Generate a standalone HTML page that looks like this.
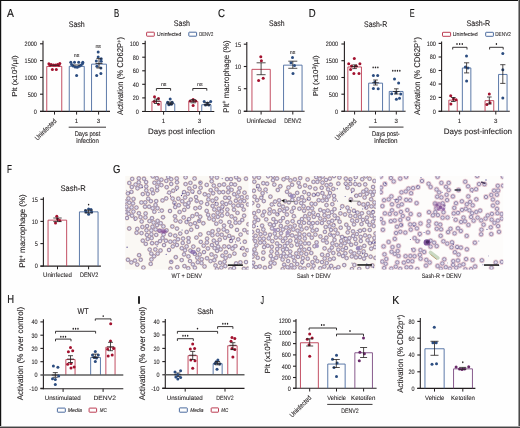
<!DOCTYPE html>
<html><head><meta charset="utf-8"><style>
html,body{margin:0;padding:0;background:#fff;}
body{width:520px;height:428px;overflow:hidden;}
svg{display:block;font-family:"Liberation Sans",sans-serif;will-change:transform;}
text{stroke:#231f20;text-rendering:geometricPrecision;}
</style></head><body>
<svg width="520" height="428" viewBox="0 0 520 428">
<rect x="0" y="0" width="520" height="428" fill="#fefefe"/>
<text transform="translate(7.00,16.70) scale(0.900,1) translate(-0.00,0)" x="0" y="0" font-size="11.5" stroke-width="0.161" fill="#111">A</text>
<text x="68.70" y="26.50" font-size="8.2" stroke-width="0.115" fill="#231f20" textLength="16.10" lengthAdjust="spacingAndGlyphs">Sash</text>
<line x1="43.00" y1="40.80" x2="43.00" y2="111.50" stroke="#231f20" stroke-width="1.1"/>
<line x1="40.00" y1="43.80" x2="43.00" y2="43.80" stroke="#231f20" stroke-width="1.1"/>
<text x="24.60" y="46.10" font-size="6.5" stroke-width="0.091" fill="#231f20" textLength="12.20" lengthAdjust="spacingAndGlyphs">2000</text>
<line x1="40.00" y1="60.60" x2="43.00" y2="60.60" stroke="#231f20" stroke-width="1.1"/>
<text x="24.60" y="62.90" font-size="6.5" stroke-width="0.091" fill="#231f20" textLength="12.20" lengthAdjust="spacingAndGlyphs">1500</text>
<line x1="40.00" y1="77.40" x2="43.00" y2="77.40" stroke="#231f20" stroke-width="1.1"/>
<text x="24.60" y="79.70" font-size="6.5" stroke-width="0.091" fill="#231f20" textLength="12.20" lengthAdjust="spacingAndGlyphs">1000</text>
<line x1="40.00" y1="94.20" x2="43.00" y2="94.20" stroke="#231f20" stroke-width="1.1"/>
<text x="27.65" y="96.50" font-size="6.5" stroke-width="0.091" fill="#231f20" textLength="9.15" lengthAdjust="spacingAndGlyphs">500</text>
<line x1="40.00" y1="111.40" x2="43.00" y2="111.40" stroke="#231f20" stroke-width="1.1"/>
<text x="33.75" y="113.70" font-size="6.5" stroke-width="0.091" fill="#231f20" textLength="3.05" lengthAdjust="spacingAndGlyphs">0</text>
<text transform="translate(16.90,96.80) rotate(-90)" x="0" y="0" font-size="7.2" stroke-width="0.101" fill="#231f20" textLength="41.40" lengthAdjust="spacingAndGlyphs">Plt (x10<tspan dy="-2.4" font-size="72%">3</tspan><tspan dy="2.4">​</tspan>/µl)</text>
<line x1="40.00" y1="111.40" x2="110.00" y2="111.40" stroke="#231f20" stroke-width="1.1"/>
<line x1="54.50" y1="111.40" x2="54.50" y2="114.60" stroke="#231f20" stroke-width="1.0"/>
<line x1="76.60" y1="111.40" x2="76.60" y2="114.60" stroke="#231f20" stroke-width="1.0"/>
<line x1="98.60" y1="111.40" x2="98.60" y2="114.60" stroke="#231f20" stroke-width="1.0"/>
<polyline points="46.75,111.40 46.75,66.45 61.75,66.45 61.75,111.40" fill="none" stroke="#bc3c52" stroke-width="0.9"/>
<polyline points="69.25,111.40 69.25,66.35 84.25,66.35 84.25,111.40" fill="none" stroke="#4b6b9f" stroke-width="0.9"/>
<polyline points="91.55,111.40 91.55,64.15 106.45,64.15 106.45,111.40" fill="none" stroke="#4b6b9f" stroke-width="0.9"/>
<circle cx="48.90" cy="63.70" r="1.5" fill="#a3122f"/>
<circle cx="51.20" cy="64.60" r="1.5" fill="#a3122f"/>
<circle cx="53.50" cy="65.00" r="1.5" fill="#a3122f"/>
<circle cx="55.50" cy="65.00" r="1.5" fill="#a3122f"/>
<circle cx="57.60" cy="64.60" r="1.5" fill="#a3122f"/>
<circle cx="59.80" cy="63.40" r="1.5" fill="#a3122f"/>
<circle cx="50.00" cy="65.20" r="1.5" fill="#a3122f"/>
<circle cx="58.80" cy="65.20" r="1.5" fill="#a3122f"/>
<circle cx="52.40" cy="69.60" r="1.5" fill="#a3122f"/>
<circle cx="56.30" cy="69.60" r="1.5" fill="#a3122f"/>
<line x1="50.00" y1="65.30" x2="59.00" y2="65.30" stroke="#231f20" stroke-width="0.8"/>
<circle cx="70.80" cy="62.20" r="1.5" fill="#2c4d80"/>
<circle cx="74.50" cy="62.20" r="1.5" fill="#2c4d80"/>
<circle cx="78.70" cy="62.20" r="1.5" fill="#2c4d80"/>
<circle cx="82.80" cy="62.20" r="1.5" fill="#2c4d80"/>
<circle cx="71.60" cy="64.50" r="1.5" fill="#2c4d80"/>
<circle cx="73.20" cy="66.00" r="1.5" fill="#2c4d80"/>
<circle cx="75.20" cy="67.00" r="1.5" fill="#2c4d80"/>
<circle cx="77.30" cy="67.20" r="1.5" fill="#2c4d80"/>
<circle cx="79.30" cy="66.30" r="1.5" fill="#2c4d80"/>
<circle cx="81.20" cy="65.00" r="1.5" fill="#2c4d80"/>
<circle cx="82.60" cy="63.60" r="1.5" fill="#2c4d80"/>
<circle cx="76.60" cy="75.40" r="1.5" fill="#2c4d80"/>
<line x1="73.00" y1="65.00" x2="80.00" y2="65.00" stroke="#231f20" stroke-width="0.8"/>
<circle cx="98.20" cy="52.00" r="1.5" fill="#2c4d80"/>
<circle cx="98.20" cy="56.90" r="1.5" fill="#2c4d80"/>
<circle cx="101.20" cy="58.80" r="1.5" fill="#2c4d80"/>
<circle cx="96.30" cy="61.00" r="1.5" fill="#2c4d80"/>
<circle cx="101.20" cy="61.20" r="1.5" fill="#2c4d80"/>
<circle cx="96.90" cy="66.20" r="1.5" fill="#2c4d80"/>
<circle cx="100.90" cy="68.00" r="1.5" fill="#2c4d80"/>
<circle cx="96.70" cy="75.40" r="1.5" fill="#2c4d80"/>
<circle cx="100.90" cy="73.50" r="1.5" fill="#2c4d80"/>
<line x1="99.00" y1="58.60" x2="99.00" y2="68.00" stroke="#231f20" stroke-width="0.8"/>
<line x1="96.40" y1="58.60" x2="101.60" y2="58.60" stroke="#231f20" stroke-width="0.8"/>
<line x1="96.40" y1="68.00" x2="101.60" y2="68.00" stroke="#231f20" stroke-width="0.8"/>
<line x1="95.50" y1="63.50" x2="102.50" y2="63.50" stroke="#231f20" stroke-width="0.8"/>
<text x="76.60" y="56.60" font-size="5.3" stroke-width="0.074" fill="#231f20" text-anchor="middle">ns</text>
<text x="98.20" y="47.60" font-size="5.3" stroke-width="0.074" fill="#231f20" text-anchor="middle">ns</text>
<text x="76.60" y="122.60" font-size="6.2" stroke-width="0.087" fill="#231f20" text-anchor="middle">1</text>
<text x="98.60" y="122.60" font-size="6.2" stroke-width="0.087" fill="#231f20" text-anchor="middle">3</text>
<line x1="68.70" y1="127.20" x2="106.00" y2="127.20" stroke="#231f20" stroke-width="0.9"/>
<text x="74.65" y="136.00" font-size="6.8" stroke-width="0.095" fill="#231f20" textLength="25.70" lengthAdjust="spacingAndGlyphs">Days post</text>
<text x="76.15" y="142.60" font-size="6.8" stroke-width="0.095" fill="#231f20" textLength="22.70" lengthAdjust="spacingAndGlyphs">infection</text>
<text transform="translate(37.60,140.70) rotate(-44.7)" x="0" y="0" font-size="6.9" stroke-width="0.097" fill="#231f20" textLength="27.44" lengthAdjust="spacingAndGlyphs">Uninfected</text>
<text transform="translate(114.00,16.70) scale(0.678,1) translate(-0.00,0)" x="0" y="0" font-size="11.5" stroke-width="0.161" fill="#111">B</text>
<text x="173.80" y="26.40" font-size="8.2" stroke-width="0.115" fill="#231f20" textLength="16.20" lengthAdjust="spacingAndGlyphs">Sash</text>
<rect x="146.60" y="32.20" width="7.70" height="4.00" rx="0.5" fill="none" stroke="#bc3c52" stroke-width="1.0"/>
<text x="157.00" y="36.20" font-size="5.6" stroke-width="0.078" fill="#231f20" textLength="24.40" lengthAdjust="spacingAndGlyphs">Uninfected</text>
<rect x="188.80" y="32.20" width="7.80" height="4.00" rx="0.5" fill="none" stroke="#4b6b9f" stroke-width="1.0"/>
<text x="199.30" y="36.20" font-size="5.6" stroke-width="0.078" fill="#231f20" textLength="13.90" lengthAdjust="spacingAndGlyphs">DENV2</text>
<line x1="145.20" y1="40.80" x2="145.20" y2="111.95" stroke="#231f20" stroke-width="1.1"/>
<line x1="142.20" y1="43.60" x2="145.20" y2="43.60" stroke="#231f20" stroke-width="1.1"/>
<text x="129.65" y="45.90" font-size="6.5" stroke-width="0.091" fill="#231f20" textLength="9.15" lengthAdjust="spacingAndGlyphs">100</text>
<line x1="142.20" y1="57.20" x2="145.20" y2="57.20" stroke="#231f20" stroke-width="1.1"/>
<text x="132.70" y="59.50" font-size="6.5" stroke-width="0.091" fill="#231f20" textLength="6.10" lengthAdjust="spacingAndGlyphs">80</text>
<line x1="142.20" y1="70.80" x2="145.20" y2="70.80" stroke="#231f20" stroke-width="1.1"/>
<text x="132.70" y="73.10" font-size="6.5" stroke-width="0.091" fill="#231f20" textLength="6.10" lengthAdjust="spacingAndGlyphs">60</text>
<line x1="142.20" y1="84.30" x2="145.20" y2="84.30" stroke="#231f20" stroke-width="1.1"/>
<text x="132.70" y="86.60" font-size="6.5" stroke-width="0.091" fill="#231f20" textLength="6.10" lengthAdjust="spacingAndGlyphs">40</text>
<line x1="142.20" y1="97.90" x2="145.20" y2="97.90" stroke="#231f20" stroke-width="1.1"/>
<text x="132.70" y="100.20" font-size="6.5" stroke-width="0.091" fill="#231f20" textLength="6.10" lengthAdjust="spacingAndGlyphs">20</text>
<line x1="142.20" y1="111.45" x2="145.20" y2="111.45" stroke="#231f20" stroke-width="1.1"/>
<text x="135.75" y="113.75" font-size="6.5" stroke-width="0.091" fill="#231f20" textLength="3.05" lengthAdjust="spacingAndGlyphs">0</text>
<text transform="translate(123.10,115.00) rotate(-90)" x="0" y="0" font-size="8.3" stroke-width="0.116" fill="#231f20" textLength="78.00" lengthAdjust="spacingAndGlyphs">Activation (% CD62P<tspan dy="-2.4" font-size="72%">+</tspan><tspan dy="2.4">​</tspan>)</text>
<line x1="142.20" y1="111.45" x2="214.30" y2="111.45" stroke="#231f20" stroke-width="1.1"/>
<line x1="163.60" y1="111.45" x2="163.60" y2="114.65" stroke="#231f20" stroke-width="1.0"/>
<line x1="199.60" y1="111.45" x2="199.60" y2="114.65" stroke="#231f20" stroke-width="1.0"/>
<polyline points="151.95,111.45 151.95,101.45 161.05,101.45 161.05,111.45" fill="none" stroke="#bc3c52" stroke-width="0.9"/>
<polyline points="165.85,111.45 165.85,103.75 174.75,103.75 174.75,111.45" fill="none" stroke="#4b6b9f" stroke-width="0.9"/>
<polyline points="188.75,111.45 188.75,101.45 197.85,101.45 197.85,111.45" fill="none" stroke="#bc3c52" stroke-width="0.9"/>
<polyline points="201.75,111.45 201.75,104.75 210.95,104.75 210.95,111.45" fill="none" stroke="#4b6b9f" stroke-width="0.9"/>
<circle cx="154.50" cy="96.70" r="1.5" fill="#a3122f"/>
<circle cx="158.50" cy="98.40" r="1.5" fill="#a3122f"/>
<circle cx="154.30" cy="101.60" r="1.5" fill="#a3122f"/>
<circle cx="158.50" cy="104.30" r="1.5" fill="#a3122f"/>
<line x1="156.50" y1="99.00" x2="156.50" y2="103.50" stroke="#231f20" stroke-width="0.8"/>
<line x1="153.90" y1="99.00" x2="159.10" y2="99.00" stroke="#231f20" stroke-width="0.8"/>
<line x1="153.90" y1="103.50" x2="159.10" y2="103.50" stroke="#231f20" stroke-width="0.8"/>
<line x1="152.90" y1="101.00" x2="160.10" y2="101.00" stroke="#231f20" stroke-width="0.8"/>
<circle cx="170.20" cy="99.00" r="1.5" fill="#2c4d80"/>
<circle cx="167.60" cy="102.30" r="1.5" fill="#2c4d80"/>
<circle cx="172.20" cy="102.30" r="1.5" fill="#2c4d80"/>
<circle cx="168.90" cy="104.70" r="1.5" fill="#2c4d80"/>
<circle cx="171.30" cy="104.30" r="1.5" fill="#2c4d80"/>
<line x1="170.20" y1="102.00" x2="170.20" y2="104.60" stroke="#231f20" stroke-width="0.8"/>
<line x1="167.60" y1="102.00" x2="172.80" y2="102.00" stroke="#231f20" stroke-width="0.8"/>
<line x1="167.60" y1="104.60" x2="172.80" y2="104.60" stroke="#231f20" stroke-width="0.8"/>
<line x1="166.60" y1="103.30" x2="173.80" y2="103.30" stroke="#231f20" stroke-width="0.8"/>
<circle cx="193.10" cy="99.40" r="1.5" fill="#a3122f"/>
<circle cx="190.10" cy="101.00" r="1.5" fill="#a3122f"/>
<circle cx="195.70" cy="101.00" r="1.5" fill="#a3122f"/>
<circle cx="193.10" cy="105.60" r="1.5" fill="#a3122f"/>
<line x1="193.20" y1="99.60" x2="193.20" y2="102.80" stroke="#231f20" stroke-width="0.8"/>
<line x1="190.60" y1="99.60" x2="195.80" y2="99.60" stroke="#231f20" stroke-width="0.8"/>
<line x1="190.60" y1="102.80" x2="195.80" y2="102.80" stroke="#231f20" stroke-width="0.8"/>
<line x1="189.60" y1="101.00" x2="196.80" y2="101.00" stroke="#231f20" stroke-width="0.8"/>
<circle cx="204.20" cy="101.60" r="1.5" fill="#2c4d80"/>
<circle cx="210.70" cy="101.60" r="1.5" fill="#2c4d80"/>
<circle cx="207.50" cy="103.00" r="1.5" fill="#2c4d80"/>
<circle cx="205.50" cy="104.90" r="1.5" fill="#2c4d80"/>
<circle cx="208.80" cy="104.90" r="1.5" fill="#2c4d80"/>
<line x1="207.20" y1="102.60" x2="207.20" y2="105.20" stroke="#231f20" stroke-width="0.8"/>
<line x1="204.60" y1="102.60" x2="209.80" y2="102.60" stroke="#231f20" stroke-width="0.8"/>
<line x1="204.60" y1="105.20" x2="209.80" y2="105.20" stroke="#231f20" stroke-width="0.8"/>
<line x1="203.60" y1="104.30" x2="210.80" y2="104.30" stroke="#231f20" stroke-width="0.8"/>
<polyline points="156.40,90.70 156.40,88.50 170.60,88.50 170.60,90.70" fill="none" stroke="#231f20" stroke-width="0.9"/>
<text x="163.70" y="86.00" font-size="5.3" stroke-width="0.074" fill="#231f20" text-anchor="middle">ns</text>
<polyline points="192.80,90.70 192.80,88.50 206.80,88.50 206.80,90.70" fill="none" stroke="#231f20" stroke-width="0.9"/>
<text x="199.80" y="86.00" font-size="5.3" stroke-width="0.074" fill="#231f20" text-anchor="middle">ns</text>
<text x="163.60" y="123.20" font-size="6.2" stroke-width="0.087" fill="#231f20" text-anchor="middle">1</text>
<text x="199.60" y="123.20" font-size="6.2" stroke-width="0.087" fill="#231f20" text-anchor="middle">3</text>
<text x="148.00" y="134.30" font-size="8.0" stroke-width="0.112" fill="#231f20" textLength="67.00" lengthAdjust="spacingAndGlyphs">Days post infection</text>
<text transform="translate(218.00,16.90) scale(0.843,1) translate(-0.00,0)" x="0" y="0" font-size="11.5" stroke-width="0.161" fill="#111">C</text>
<text x="269.00" y="26.40" font-size="8.2" stroke-width="0.115" fill="#231f20" textLength="15.60" lengthAdjust="spacingAndGlyphs">Sash</text>
<line x1="246.80" y1="42.00" x2="246.80" y2="111.80" stroke="#231f20" stroke-width="1.1"/>
<line x1="243.80" y1="44.20" x2="246.80" y2="44.20" stroke="#231f20" stroke-width="1.1"/>
<text x="234.90" y="46.50" font-size="6.5" stroke-width="0.091" fill="#231f20" textLength="6.10" lengthAdjust="spacingAndGlyphs">15</text>
<line x1="243.80" y1="66.50" x2="246.80" y2="66.50" stroke="#231f20" stroke-width="1.1"/>
<text x="234.90" y="68.80" font-size="6.5" stroke-width="0.091" fill="#231f20" textLength="6.10" lengthAdjust="spacingAndGlyphs">10</text>
<line x1="243.80" y1="88.70" x2="246.80" y2="88.70" stroke="#231f20" stroke-width="1.1"/>
<text x="237.95" y="91.00" font-size="6.5" stroke-width="0.091" fill="#231f20" textLength="3.05" lengthAdjust="spacingAndGlyphs">5</text>
<line x1="243.80" y1="111.30" x2="246.80" y2="111.30" stroke="#231f20" stroke-width="1.1"/>
<text x="237.95" y="113.60" font-size="6.5" stroke-width="0.091" fill="#231f20" textLength="3.05" lengthAdjust="spacingAndGlyphs">0</text>
<text transform="translate(228.70,112.80) rotate(-90)" x="0" y="0" font-size="8.2" stroke-width="0.115" fill="#231f20" textLength="72.30" lengthAdjust="spacingAndGlyphs">Plt<tspan dy="-2.4" font-size="72%">+</tspan><tspan dy="2.4">​</tspan> macrophage (%)</text>
<line x1="243.80" y1="111.30" x2="304.60" y2="111.30" stroke="#231f20" stroke-width="1.1"/>
<line x1="261.10" y1="111.30" x2="261.10" y2="114.50" stroke="#231f20" stroke-width="1.0"/>
<line x1="292.80" y1="111.30" x2="292.80" y2="114.50" stroke="#231f20" stroke-width="1.0"/>
<polyline points="251.95,111.30 251.95,69.35 270.25,69.35 270.25,111.30" fill="none" stroke="#bc3c52" stroke-width="0.9"/>
<polyline points="283.55,111.30 283.55,65.15 302.05,65.15 302.05,111.30" fill="none" stroke="#4b6b9f" stroke-width="0.9"/>
<line x1="261.10" y1="62.80" x2="261.10" y2="74.70" stroke="#231f20" stroke-width="0.8"/>
<line x1="256.60" y1="62.80" x2="265.60" y2="62.80" stroke="#231f20" stroke-width="0.8"/>
<line x1="256.60" y1="74.70" x2="265.60" y2="74.70" stroke="#231f20" stroke-width="0.8"/>
<circle cx="260.80" cy="56.70" r="1.5" fill="#a3122f"/>
<circle cx="258.60" cy="80.60" r="1.5" fill="#a3122f"/>
<circle cx="263.20" cy="78.30" r="1.5" fill="#a3122f"/>
<circle cx="261.40" cy="60.80" r="1.5" fill="#a3122f"/>
<line x1="292.80" y1="61.20" x2="292.80" y2="68.30" stroke="#231f20" stroke-width="0.8"/>
<line x1="288.30" y1="61.20" x2="297.30" y2="61.20" stroke="#231f20" stroke-width="0.8"/>
<line x1="288.30" y1="68.30" x2="297.30" y2="68.30" stroke="#231f20" stroke-width="0.8"/>
<circle cx="292.50" cy="57.50" r="1.5" fill="#2c4d80"/>
<circle cx="293.00" cy="73.40" r="1.5" fill="#2c4d80"/>
<circle cx="291.00" cy="62.80" r="1.5" fill="#2c4d80"/>
<circle cx="294.50" cy="65.50" r="1.5" fill="#2c4d80"/>
<text x="292.50" y="54.20" font-size="5.3" stroke-width="0.074" fill="#231f20" text-anchor="middle">ns</text>
<text x="246.50" y="122.80" font-size="6.4" stroke-width="0.090" fill="#231f20" textLength="29.30" lengthAdjust="spacingAndGlyphs">Uninfected</text>
<text x="284.20" y="122.80" font-size="6.4" stroke-width="0.090" fill="#231f20" textLength="17.30" lengthAdjust="spacingAndGlyphs">DENV2</text>
<text transform="translate(308.80,16.70) scale(0.831,1) translate(-0.00,0)" x="0" y="0" font-size="11.5" stroke-width="0.161" fill="#111">D</text>
<text x="364.00" y="26.50" font-size="8.2" stroke-width="0.115" fill="#231f20" textLength="23.20" lengthAdjust="spacingAndGlyphs">Sash-R</text>
<line x1="344.40" y1="41.20" x2="344.40" y2="111.80" stroke="#231f20" stroke-width="1.1"/>
<line x1="341.40" y1="44.00" x2="344.40" y2="44.00" stroke="#231f20" stroke-width="1.1"/>
<text x="325.80" y="46.30" font-size="6.5" stroke-width="0.091" fill="#231f20" textLength="12.20" lengthAdjust="spacingAndGlyphs">2000</text>
<line x1="341.40" y1="60.70" x2="344.40" y2="60.70" stroke="#231f20" stroke-width="1.1"/>
<text x="325.80" y="63.00" font-size="6.5" stroke-width="0.091" fill="#231f20" textLength="12.20" lengthAdjust="spacingAndGlyphs">1500</text>
<line x1="341.40" y1="77.50" x2="344.40" y2="77.50" stroke="#231f20" stroke-width="1.1"/>
<text x="325.80" y="79.80" font-size="6.5" stroke-width="0.091" fill="#231f20" textLength="12.20" lengthAdjust="spacingAndGlyphs">1000</text>
<line x1="341.40" y1="94.20" x2="344.40" y2="94.20" stroke="#231f20" stroke-width="1.1"/>
<text x="328.85" y="96.50" font-size="6.5" stroke-width="0.091" fill="#231f20" textLength="9.15" lengthAdjust="spacingAndGlyphs">500</text>
<line x1="341.40" y1="111.30" x2="344.40" y2="111.30" stroke="#231f20" stroke-width="1.1"/>
<text x="334.95" y="113.60" font-size="6.5" stroke-width="0.091" fill="#231f20" textLength="3.05" lengthAdjust="spacingAndGlyphs">0</text>
<text transform="translate(318.00,96.30) rotate(-90)" x="0" y="0" font-size="7.2" stroke-width="0.101" fill="#231f20" textLength="41.00" lengthAdjust="spacingAndGlyphs">Plt (x10<tspan dy="-2.4" font-size="72%">3</tspan><tspan dy="2.4">​</tspan>/µl)</text>
<line x1="341.40" y1="111.30" x2="405.60" y2="111.30" stroke="#231f20" stroke-width="1.1"/>
<line x1="354.60" y1="111.30" x2="354.60" y2="114.50" stroke="#231f20" stroke-width="1.0"/>
<line x1="375.50" y1="111.30" x2="375.50" y2="114.50" stroke="#231f20" stroke-width="1.0"/>
<line x1="396.30" y1="111.30" x2="396.30" y2="114.50" stroke="#231f20" stroke-width="1.0"/>
<polyline points="347.85,111.30 347.85,66.95 361.45,66.95 361.45,111.30" fill="none" stroke="#bc3c52" stroke-width="0.9"/>
<polyline points="368.65,111.30 368.65,83.15 382.55,83.15 382.55,111.30" fill="none" stroke="#4b6b9f" stroke-width="0.9"/>
<polyline points="389.25,111.30 389.25,91.45 403.05,91.45 403.05,111.30" fill="none" stroke="#4b6b9f" stroke-width="0.9"/>
<circle cx="354.30" cy="58.60" r="1.5" fill="#a3122f"/>
<circle cx="348.70" cy="63.80" r="1.5" fill="#a3122f"/>
<circle cx="351.50" cy="66.00" r="1.5" fill="#a3122f"/>
<circle cx="356.20" cy="66.00" r="1.5" fill="#a3122f"/>
<circle cx="359.90" cy="63.80" r="1.5" fill="#a3122f"/>
<circle cx="350.60" cy="69.40" r="1.5" fill="#a3122f"/>
<circle cx="353.90" cy="73.50" r="1.5" fill="#a3122f"/>
<circle cx="359.00" cy="73.50" r="1.5" fill="#a3122f"/>
<line x1="354.60" y1="64.90" x2="354.60" y2="68.60" stroke="#231f20" stroke-width="0.8"/>
<line x1="352.30" y1="64.90" x2="356.90" y2="64.90" stroke="#231f20" stroke-width="0.8"/>
<line x1="352.30" y1="68.60" x2="356.90" y2="68.60" stroke="#231f20" stroke-width="0.8"/>
<line x1="351.30" y1="66.50" x2="357.90" y2="66.50" stroke="#231f20" stroke-width="0.8"/>
<circle cx="373.40" cy="75.40" r="1.5" fill="#2c4d80"/>
<circle cx="377.70" cy="75.40" r="1.5" fill="#2c4d80"/>
<circle cx="374.90" cy="81.90" r="1.5" fill="#2c4d80"/>
<circle cx="373.40" cy="88.50" r="1.5" fill="#2c4d80"/>
<circle cx="378.20" cy="88.80" r="1.5" fill="#2c4d80"/>
<line x1="375.50" y1="80.00" x2="375.50" y2="85.00" stroke="#231f20" stroke-width="0.8"/>
<line x1="373.20" y1="80.00" x2="377.80" y2="80.00" stroke="#231f20" stroke-width="0.8"/>
<line x1="373.20" y1="85.00" x2="377.80" y2="85.00" stroke="#231f20" stroke-width="0.8"/>
<line x1="372.20" y1="82.70" x2="378.80" y2="82.70" stroke="#231f20" stroke-width="0.8"/>
<circle cx="394.50" cy="79.10" r="1.5" fill="#2c4d80"/>
<circle cx="398.60" cy="82.90" r="1.5" fill="#2c4d80"/>
<circle cx="391.70" cy="93.70" r="1.5" fill="#2c4d80"/>
<circle cx="396.00" cy="92.80" r="1.5" fill="#2c4d80"/>
<circle cx="400.70" cy="94.10" r="1.5" fill="#2c4d80"/>
<circle cx="396.40" cy="99.30" r="1.5" fill="#2c4d80"/>
<circle cx="399.50" cy="98.20" r="1.5" fill="#2c4d80"/>
<line x1="396.30" y1="88.80" x2="396.30" y2="94.00" stroke="#231f20" stroke-width="0.8"/>
<line x1="394.00" y1="88.80" x2="398.60" y2="88.80" stroke="#231f20" stroke-width="0.8"/>
<line x1="394.00" y1="94.00" x2="398.60" y2="94.00" stroke="#231f20" stroke-width="0.8"/>
<line x1="393.00" y1="91.50" x2="399.60" y2="91.50" stroke="#231f20" stroke-width="0.8"/>
<ellipse cx="373.15" cy="67.40" rx="0.72" ry="0.94" fill="#231f20"/>
<ellipse cx="375.50" cy="67.40" rx="0.72" ry="0.94" fill="#231f20"/>
<ellipse cx="377.85" cy="67.40" rx="0.72" ry="0.94" fill="#231f20"/>
<ellipse cx="392.78" cy="70.70" rx="0.72" ry="0.94" fill="#231f20"/>
<ellipse cx="395.13" cy="70.70" rx="0.72" ry="0.94" fill="#231f20"/>
<ellipse cx="397.48" cy="70.70" rx="0.72" ry="0.94" fill="#231f20"/>
<ellipse cx="399.83" cy="70.70" rx="0.72" ry="0.94" fill="#231f20"/>
<text x="375.50" y="123.20" font-size="6.2" stroke-width="0.087" fill="#231f20" text-anchor="middle">1</text>
<text x="396.30" y="123.20" font-size="6.2" stroke-width="0.087" fill="#231f20" text-anchor="middle">3</text>
<line x1="368.90" y1="127.10" x2="403.50" y2="127.10" stroke="#231f20" stroke-width="0.9"/>
<text x="372.05" y="135.80" font-size="6.8" stroke-width="0.095" fill="#231f20" textLength="27.70" lengthAdjust="spacingAndGlyphs">Days post-</text>
<text x="374.20" y="142.70" font-size="6.8" stroke-width="0.095" fill="#231f20" textLength="23.40" lengthAdjust="spacingAndGlyphs">infection</text>
<text transform="translate(337.60,140.70) rotate(-44.7)" x="0" y="0" font-size="6.9" stroke-width="0.097" fill="#231f20" textLength="27.44" lengthAdjust="spacingAndGlyphs">Uninfected</text>
<text transform="translate(409.70,16.60) scale(0.639,1) translate(-0.00,0)" x="0" y="0" font-size="11.5" stroke-width="0.161" fill="#111">E</text>
<text x="466.50" y="26.10" font-size="8.2" stroke-width="0.115" fill="#231f20" textLength="23.70" lengthAdjust="spacingAndGlyphs">Sash-R</text>
<rect x="442.50" y="32.30" width="8.10" height="4.00" rx="0.5" fill="none" stroke="#bc3c52" stroke-width="1.0"/>
<text x="452.70" y="36.30" font-size="5.6" stroke-width="0.078" fill="#231f20" textLength="25.10" lengthAdjust="spacingAndGlyphs">Uninfected</text>
<rect x="485.70" y="32.30" width="7.70" height="4.00" rx="0.5" fill="none" stroke="#4b6b9f" stroke-width="1.0"/>
<text x="495.20" y="36.30" font-size="5.6" stroke-width="0.078" fill="#231f20" textLength="15.70" lengthAdjust="spacingAndGlyphs">DENV2</text>
<line x1="441.60" y1="41.40" x2="441.60" y2="111.80" stroke="#231f20" stroke-width="1.1"/>
<line x1="438.60" y1="43.40" x2="441.60" y2="43.40" stroke="#231f20" stroke-width="1.1"/>
<text x="426.65" y="45.70" font-size="6.5" stroke-width="0.091" fill="#231f20" textLength="9.15" lengthAdjust="spacingAndGlyphs">100</text>
<line x1="438.60" y1="57.00" x2="441.60" y2="57.00" stroke="#231f20" stroke-width="1.1"/>
<text x="429.70" y="59.30" font-size="6.5" stroke-width="0.091" fill="#231f20" textLength="6.10" lengthAdjust="spacingAndGlyphs">80</text>
<line x1="438.60" y1="70.50" x2="441.60" y2="70.50" stroke="#231f20" stroke-width="1.1"/>
<text x="429.70" y="72.80" font-size="6.5" stroke-width="0.091" fill="#231f20" textLength="6.10" lengthAdjust="spacingAndGlyphs">60</text>
<line x1="438.60" y1="84.00" x2="441.60" y2="84.00" stroke="#231f20" stroke-width="1.1"/>
<text x="429.70" y="86.30" font-size="6.5" stroke-width="0.091" fill="#231f20" textLength="6.10" lengthAdjust="spacingAndGlyphs">40</text>
<line x1="438.60" y1="97.40" x2="441.60" y2="97.40" stroke="#231f20" stroke-width="1.1"/>
<text x="429.70" y="99.70" font-size="6.5" stroke-width="0.091" fill="#231f20" textLength="6.10" lengthAdjust="spacingAndGlyphs">20</text>
<line x1="438.60" y1="111.30" x2="441.60" y2="111.30" stroke="#231f20" stroke-width="1.1"/>
<text x="432.75" y="113.60" font-size="6.5" stroke-width="0.091" fill="#231f20" textLength="3.05" lengthAdjust="spacingAndGlyphs">0</text>
<text transform="translate(419.70,115.00) rotate(-90)" x="0" y="0" font-size="8.3" stroke-width="0.116" fill="#231f20" textLength="78.00" lengthAdjust="spacingAndGlyphs">Activation (% CD62P<tspan dy="-2.4" font-size="72%">+</tspan><tspan dy="2.4">​</tspan>)</text>
<line x1="438.60" y1="111.30" x2="509.80" y2="111.30" stroke="#231f20" stroke-width="1.1"/>
<line x1="459.60" y1="111.30" x2="459.60" y2="114.50" stroke="#231f20" stroke-width="1.0"/>
<line x1="495.80" y1="111.30" x2="495.80" y2="114.50" stroke="#231f20" stroke-width="1.0"/>
<polyline points="448.85,111.30 448.85,100.15 457.25,100.15 457.25,111.30" fill="none" stroke="#bc3c52" stroke-width="0.9"/>
<polyline points="462.35,111.30 462.35,67.95 470.85,67.95 470.85,111.30" fill="none" stroke="#4b6b9f" stroke-width="0.9"/>
<polyline points="485.05,111.30 485.05,100.65 493.75,100.65 493.75,111.30" fill="none" stroke="#bc3c52" stroke-width="0.9"/>
<polyline points="498.55,111.30 498.55,74.45 507.05,74.45 507.05,111.30" fill="none" stroke="#4b6b9f" stroke-width="0.9"/>
<circle cx="450.70" cy="95.70" r="1.5" fill="#a3122f"/>
<circle cx="450.90" cy="103.90" r="1.5" fill="#a3122f"/>
<circle cx="456.10" cy="99.70" r="1.5" fill="#a3122f"/>
<circle cx="453.50" cy="98.80" r="1.5" fill="#a3122f"/>
<line x1="453.30" y1="97.50" x2="453.30" y2="101.50" stroke="#231f20" stroke-width="0.8"/>
<line x1="451.00" y1="97.50" x2="455.60" y2="97.50" stroke="#231f20" stroke-width="0.8"/>
<line x1="451.00" y1="101.50" x2="455.60" y2="101.50" stroke="#231f20" stroke-width="0.8"/>
<circle cx="466.50" cy="56.10" r="1.5" fill="#2c4d80"/>
<circle cx="465.40" cy="67.00" r="1.5" fill="#2c4d80"/>
<circle cx="468.00" cy="68.00" r="1.5" fill="#2c4d80"/>
<circle cx="466.60" cy="81.00" r="1.5" fill="#2c4d80"/>
<line x1="466.60" y1="62.80" x2="466.60" y2="72.90" stroke="#231f20" stroke-width="0.8"/>
<line x1="464.00" y1="62.80" x2="469.20" y2="62.80" stroke="#231f20" stroke-width="0.8"/>
<line x1="464.00" y1="72.90" x2="469.20" y2="72.90" stroke="#231f20" stroke-width="0.8"/>
<circle cx="489.30" cy="93.90" r="1.5" fill="#a3122f"/>
<circle cx="486.90" cy="104.40" r="1.5" fill="#a3122f"/>
<circle cx="490.00" cy="102.80" r="1.5" fill="#a3122f"/>
<line x1="489.30" y1="97.00" x2="489.30" y2="104.00" stroke="#231f20" stroke-width="0.8"/>
<line x1="487.00" y1="97.00" x2="491.60" y2="97.00" stroke="#231f20" stroke-width="0.8"/>
<line x1="487.00" y1="104.00" x2="491.60" y2="104.00" stroke="#231f20" stroke-width="0.8"/>
<circle cx="502.80" cy="53.60" r="1.5" fill="#2c4d80"/>
<circle cx="502.80" cy="69.80" r="1.5" fill="#2c4d80"/>
<circle cx="502.80" cy="97.90" r="1.5" fill="#2c4d80"/>
<line x1="502.80" y1="64.70" x2="502.80" y2="83.40" stroke="#231f20" stroke-width="0.8"/>
<line x1="500.20" y1="64.70" x2="505.40" y2="64.70" stroke="#231f20" stroke-width="0.8"/>
<line x1="500.20" y1="83.40" x2="505.40" y2="83.40" stroke="#231f20" stroke-width="0.8"/>
<polyline points="452.70,49.50 452.70,47.30 467.00,47.30 467.00,49.50" fill="none" stroke="#231f20" stroke-width="0.9"/>
<ellipse cx="457.00" cy="44.00" rx="0.72" ry="0.94" fill="#231f20"/>
<ellipse cx="459.65" cy="44.00" rx="0.72" ry="0.94" fill="#231f20"/>
<ellipse cx="462.30" cy="44.00" rx="0.72" ry="0.94" fill="#231f20"/>
<polyline points="489.60,49.50 489.60,47.30 503.20,47.30 503.20,49.50" fill="none" stroke="#231f20" stroke-width="0.9"/>
<ellipse cx="496.40" cy="44.00" rx="0.72" ry="0.94" fill="#231f20"/>
<text x="459.60" y="123.20" font-size="6.2" stroke-width="0.087" fill="#231f20" text-anchor="middle">1</text>
<text x="495.80" y="123.20" font-size="6.2" stroke-width="0.087" fill="#231f20" text-anchor="middle">3</text>
<text x="443.70" y="134.30" font-size="8.0" stroke-width="0.112" fill="#231f20" textLength="68.40" lengthAdjust="spacingAndGlyphs">Days post-infection</text>
<text transform="translate(7.00,172.90) scale(0.697,1) translate(-0.00,0)" x="0" y="0" font-size="11.5" stroke-width="0.161" fill="#111">F</text>
<text x="60.40" y="191.00" font-size="8.2" stroke-width="0.115" fill="#231f20" textLength="25.40" lengthAdjust="spacingAndGlyphs">Sash-R</text>
<line x1="43.40" y1="197.20" x2="43.40" y2="266.60" stroke="#231f20" stroke-width="1.1"/>
<line x1="40.40" y1="199.30" x2="43.40" y2="199.30" stroke="#231f20" stroke-width="1.1"/>
<text x="31.70" y="201.60" font-size="6.5" stroke-width="0.091" fill="#231f20" textLength="6.10" lengthAdjust="spacingAndGlyphs">15</text>
<line x1="40.40" y1="221.40" x2="43.40" y2="221.40" stroke="#231f20" stroke-width="1.1"/>
<text x="31.70" y="223.70" font-size="6.5" stroke-width="0.091" fill="#231f20" textLength="6.10" lengthAdjust="spacingAndGlyphs">10</text>
<line x1="40.40" y1="243.60" x2="43.40" y2="243.60" stroke="#231f20" stroke-width="1.1"/>
<text x="34.75" y="245.90" font-size="6.5" stroke-width="0.091" fill="#231f20" textLength="3.05" lengthAdjust="spacingAndGlyphs">5</text>
<line x1="40.40" y1="266.10" x2="43.40" y2="266.10" stroke="#231f20" stroke-width="1.1"/>
<text x="34.75" y="268.40" font-size="6.5" stroke-width="0.091" fill="#231f20" textLength="3.05" lengthAdjust="spacingAndGlyphs">0</text>
<text transform="translate(25.00,267.80) rotate(-90)" x="0" y="0" font-size="8.2" stroke-width="0.115" fill="#231f20" textLength="73.50" lengthAdjust="spacingAndGlyphs">Plt<tspan dy="-2.4" font-size="72%">+</tspan><tspan dy="2.4">​</tspan> macrophage (%)</text>
<line x1="40.40" y1="266.10" x2="100.90" y2="266.10" stroke="#231f20" stroke-width="1.1"/>
<line x1="57.50" y1="266.10" x2="57.50" y2="269.30" stroke="#231f20" stroke-width="1.0"/>
<line x1="88.60" y1="266.10" x2="88.60" y2="269.30" stroke="#231f20" stroke-width="1.0"/>
<polyline points="48.05,266.10 48.05,220.15 66.65,220.15 66.65,266.10" fill="none" stroke="#bc3c52" stroke-width="0.9"/>
<polyline points="79.45,266.10 79.45,211.85 98.05,211.85 98.05,266.10" fill="none" stroke="#4b6b9f" stroke-width="0.9"/>
<circle cx="56.80" cy="216.30" r="1.5" fill="#a3122f"/>
<circle cx="55.50" cy="222.90" r="1.5" fill="#a3122f"/>
<circle cx="59.70" cy="220.40" r="1.5" fill="#a3122f"/>
<circle cx="57.50" cy="219.00" r="1.5" fill="#a3122f"/>
<line x1="57.50" y1="218.00" x2="57.50" y2="221.60" stroke="#231f20" stroke-width="0.8"/>
<line x1="53.30" y1="218.00" x2="61.70" y2="218.00" stroke="#231f20" stroke-width="0.8"/>
<line x1="53.30" y1="221.60" x2="61.70" y2="221.60" stroke="#231f20" stroke-width="0.8"/>
<circle cx="88.60" cy="208.90" r="1.5" fill="#2c4d80"/>
<circle cx="86.20" cy="211.90" r="1.5" fill="#2c4d80"/>
<circle cx="91.60" cy="211.90" r="1.5" fill="#2c4d80"/>
<circle cx="88.60" cy="214.30" r="1.5" fill="#2c4d80"/>
<circle cx="85.50" cy="210.50" r="1.5" fill="#2c4d80"/>
<circle cx="91.00" cy="209.50" r="1.5" fill="#2c4d80"/>
<line x1="88.60" y1="210.20" x2="88.60" y2="212.80" stroke="#231f20" stroke-width="0.8"/>
<line x1="84.40" y1="210.20" x2="92.80" y2="210.20" stroke="#231f20" stroke-width="0.8"/>
<line x1="84.40" y1="212.80" x2="92.80" y2="212.80" stroke="#231f20" stroke-width="0.8"/>
<ellipse cx="88.60" cy="204.60" rx="0.72" ry="0.94" fill="#231f20"/>
<text x="43.00" y="277.40" font-size="6.4" stroke-width="0.090" fill="#231f20" textLength="29.00" lengthAdjust="spacingAndGlyphs">Uninfected</text>
<text x="80.00" y="277.40" font-size="6.4" stroke-width="0.090" fill="#231f20" textLength="18.30" lengthAdjust="spacingAndGlyphs">DENV2</text>
<text transform="translate(7.20,303.40) scale(0.819,1) translate(-0.00,0)" x="0" y="0" font-size="11.5" stroke-width="0.161" fill="#111">H</text>
<text x="77.40" y="314.10" font-size="8.2" stroke-width="0.115" fill="#231f20" textLength="11.10" lengthAdjust="spacingAndGlyphs">WT</text>
<line x1="43.40" y1="319.20" x2="43.40" y2="389.20" stroke="#231f20" stroke-width="1.1"/>
<line x1="40.40" y1="321.90" x2="43.40" y2="321.90" stroke="#231f20" stroke-width="1.1"/>
<text x="31.50" y="324.20" font-size="6.5" stroke-width="0.091" fill="#231f20" textLength="6.10" lengthAdjust="spacingAndGlyphs">40</text>
<line x1="40.40" y1="335.20" x2="43.40" y2="335.20" stroke="#231f20" stroke-width="1.1"/>
<text x="31.50" y="337.50" font-size="6.5" stroke-width="0.091" fill="#231f20" textLength="6.10" lengthAdjust="spacingAndGlyphs">30</text>
<line x1="40.40" y1="348.40" x2="43.40" y2="348.40" stroke="#231f20" stroke-width="1.1"/>
<text x="31.50" y="350.70" font-size="6.5" stroke-width="0.091" fill="#231f20" textLength="6.10" lengthAdjust="spacingAndGlyphs">20</text>
<line x1="40.40" y1="361.70" x2="43.40" y2="361.70" stroke="#231f20" stroke-width="1.1"/>
<text x="31.50" y="364.00" font-size="6.5" stroke-width="0.091" fill="#231f20" textLength="6.10" lengthAdjust="spacingAndGlyphs">10</text>
<line x1="40.40" y1="375.00" x2="43.40" y2="375.00" stroke="#231f20" stroke-width="1.1"/>
<text x="34.55" y="377.30" font-size="6.5" stroke-width="0.091" fill="#231f20" textLength="3.05" lengthAdjust="spacingAndGlyphs">0</text>
<line x1="40.40" y1="388.30" x2="43.40" y2="388.30" stroke="#231f20" stroke-width="1.1"/>
<text x="29.30" y="390.60" font-size="6.5" stroke-width="0.091" fill="#231f20" textLength="8.30" lengthAdjust="spacingAndGlyphs">-10</text>
<text transform="translate(23.20,400.30) rotate(-90)" x="0" y="0" font-size="8.3" stroke-width="0.116" fill="#231f20" textLength="93.50" lengthAdjust="spacingAndGlyphs">Activation (% over control)</text>
<line x1="40.40" y1="388.70" x2="123.30" y2="388.70" stroke="#231f20" stroke-width="1.1"/>
<line x1="63.10" y1="388.70" x2="63.10" y2="391.90" stroke="#231f20" stroke-width="1.0"/>
<line x1="103.10" y1="388.70" x2="103.10" y2="391.90" stroke="#231f20" stroke-width="1.0"/>
<polyline points="65.85,375.00 65.85,359.55 75.05,359.55 75.05,375.00" fill="none" stroke="#bc3c52" stroke-width="0.9"/>
<polyline points="90.65,375.00 90.65,357.55 100.45,357.55 100.45,375.00" fill="none" stroke="#4b6b9f" stroke-width="0.9"/>
<polyline points="105.85,375.00 105.85,347.25 115.05,347.25 115.05,375.00" fill="none" stroke="#bc3c52" stroke-width="0.9"/>
<line x1="43.40" y1="375.00" x2="123.30" y2="375.00" stroke="#5e5e5e" stroke-width="1.6"/>
<line x1="55.30" y1="372.60" x2="55.30" y2="377.30" stroke="#231f20" stroke-width="0.8"/>
<line x1="52.80" y1="372.60" x2="57.80" y2="372.60" stroke="#231f20" stroke-width="0.8"/>
<line x1="52.80" y1="377.30" x2="57.80" y2="377.30" stroke="#231f20" stroke-width="0.8"/>
<line x1="51.80" y1="375.00" x2="58.80" y2="375.00" stroke="#231f20" stroke-width="0.8"/>
<circle cx="53.40" cy="366.10" r="1.5" fill="#2c4d80"/>
<circle cx="57.90" cy="367.20" r="1.5" fill="#2c4d80"/>
<circle cx="58.70" cy="376.00" r="1.5" fill="#2c4d80"/>
<circle cx="52.50" cy="378.80" r="1.5" fill="#2c4d80"/>
<circle cx="55.30" cy="379.60" r="1.5" fill="#2c4d80"/>
<circle cx="55.30" cy="384.40" r="1.5" fill="#2c4d80"/>
<circle cx="70.50" cy="347.60" r="1.5" fill="#a3122f"/>
<circle cx="68.40" cy="351.80" r="1.5" fill="#a3122f"/>
<circle cx="72.70" cy="350.70" r="1.5" fill="#a3122f"/>
<circle cx="67.70" cy="364.20" r="1.5" fill="#a3122f"/>
<circle cx="71.00" cy="363.60" r="1.5" fill="#a3122f"/>
<circle cx="71.00" cy="367.90" r="1.5" fill="#a3122f"/>
<circle cx="74.10" cy="367.00" r="1.5" fill="#a3122f"/>
<line x1="70.50" y1="355.70" x2="70.50" y2="362.50" stroke="#231f20" stroke-width="0.8"/>
<line x1="68.00" y1="355.70" x2="73.00" y2="355.70" stroke="#231f20" stroke-width="0.8"/>
<line x1="68.00" y1="362.50" x2="73.00" y2="362.50" stroke="#231f20" stroke-width="0.8"/>
<line x1="67.00" y1="359.10" x2="74.00" y2="359.10" stroke="#231f20" stroke-width="0.8"/>
<circle cx="95.30" cy="351.50" r="1.5" fill="#2c4d80"/>
<circle cx="92.50" cy="354.90" r="1.5" fill="#2c4d80"/>
<circle cx="98.30" cy="354.90" r="1.5" fill="#2c4d80"/>
<circle cx="94.20" cy="357.50" r="1.5" fill="#2c4d80"/>
<circle cx="96.50" cy="358.00" r="1.5" fill="#2c4d80"/>
<circle cx="95.30" cy="361.50" r="1.5" fill="#2c4d80"/>
<line x1="95.30" y1="354.10" x2="95.30" y2="357.70" stroke="#231f20" stroke-width="0.8"/>
<line x1="92.80" y1="354.10" x2="97.80" y2="354.10" stroke="#231f20" stroke-width="0.8"/>
<line x1="92.80" y1="357.70" x2="97.80" y2="357.70" stroke="#231f20" stroke-width="0.8"/>
<line x1="91.80" y1="357.10" x2="98.80" y2="357.10" stroke="#231f20" stroke-width="0.8"/>
<circle cx="110.70" cy="323.80" r="1.5" fill="#a3122f"/>
<circle cx="110.50" cy="341.10" r="1.5" fill="#a3122f"/>
<circle cx="107.70" cy="349.30" r="1.5" fill="#a3122f"/>
<circle cx="113.60" cy="348.50" r="1.5" fill="#a3122f"/>
<circle cx="108.20" cy="356.00" r="1.5" fill="#a3122f"/>
<circle cx="112.20" cy="354.90" r="1.5" fill="#a3122f"/>
<line x1="110.50" y1="342.30" x2="110.50" y2="350.70" stroke="#231f20" stroke-width="0.8"/>
<line x1="108.00" y1="342.30" x2="113.00" y2="342.30" stroke="#231f20" stroke-width="0.8"/>
<line x1="108.00" y1="350.70" x2="113.00" y2="350.70" stroke="#231f20" stroke-width="0.8"/>
<line x1="107.00" y1="346.80" x2="114.00" y2="346.80" stroke="#231f20" stroke-width="0.8"/>
<polyline points="55.50,341.30 55.50,339.10 71.00,339.10 71.00,341.30" fill="none" stroke="#231f20" stroke-width="0.9"/>
<ellipse cx="60.85" cy="336.80" rx="0.72" ry="0.94" fill="#231f20"/>
<ellipse cx="63.20" cy="336.80" rx="0.72" ry="0.94" fill="#231f20"/>
<ellipse cx="65.55" cy="336.80" rx="0.72" ry="0.94" fill="#231f20"/>
<polyline points="55.50,333.50 55.50,331.30 95.60,331.30 95.60,333.50" fill="none" stroke="#231f20" stroke-width="0.9"/>
<ellipse cx="73.25" cy="328.80" rx="0.72" ry="0.94" fill="#231f20"/>
<ellipse cx="75.60" cy="328.80" rx="0.72" ry="0.94" fill="#231f20"/>
<ellipse cx="77.95" cy="328.80" rx="0.72" ry="0.94" fill="#231f20"/>
<polyline points="95.30,320.70 95.30,318.90 111.00,318.90 111.00,320.70" fill="none" stroke="#231f20" stroke-width="0.9"/>
<ellipse cx="103.20" cy="316.10" rx="0.72" ry="0.94" fill="#231f20"/>
<text x="44.70" y="400.20" font-size="6.3" stroke-width="0.088" fill="#231f20" textLength="36.10" lengthAdjust="spacingAndGlyphs">Unstimulated</text>
<text x="93.50" y="400.20" font-size="6.3" stroke-width="0.088" fill="#231f20" textLength="22.50" lengthAdjust="spacingAndGlyphs">DENV2</text>
<rect x="57.40" y="408.10" width="7.90" height="4.10" rx="0.5" fill="none" stroke="#4b6b9f" stroke-width="1.0"/>
<text x="67.70" y="411.90" font-size="5.3" stroke-width="0.074" fill="#231f20" textLength="14.30" lengthAdjust="spacingAndGlyphs" font-style="italic">Media</text>
<rect x="89.10" y="408.10" width="7.50" height="4.10" rx="0.5" fill="none" stroke="#bc3c52" stroke-width="1.0"/>
<text x="99.70" y="411.90" font-size="5.3" stroke-width="0.074" fill="#231f20" textLength="6.90" lengthAdjust="spacingAndGlyphs" font-style="italic">MC</text>
<rect x="138.1" y="296.2" width="1.8" height="7.6" fill="#111"/>
<text x="197.20" y="314.00" font-size="8.2" stroke-width="0.115" fill="#231f20" textLength="16.30" lengthAdjust="spacingAndGlyphs">Sash</text>
<line x1="165.30" y1="319.00" x2="165.30" y2="389.00" stroke="#231f20" stroke-width="1.1"/>
<line x1="162.30" y1="321.80" x2="165.30" y2="321.80" stroke="#231f20" stroke-width="1.1"/>
<text x="153.40" y="324.10" font-size="6.5" stroke-width="0.091" fill="#231f20" textLength="6.10" lengthAdjust="spacingAndGlyphs">40</text>
<line x1="162.30" y1="335.00" x2="165.30" y2="335.00" stroke="#231f20" stroke-width="1.1"/>
<text x="153.40" y="337.30" font-size="6.5" stroke-width="0.091" fill="#231f20" textLength="6.10" lengthAdjust="spacingAndGlyphs">30</text>
<line x1="162.30" y1="348.40" x2="165.30" y2="348.40" stroke="#231f20" stroke-width="1.1"/>
<text x="153.40" y="350.70" font-size="6.5" stroke-width="0.091" fill="#231f20" textLength="6.10" lengthAdjust="spacingAndGlyphs">20</text>
<line x1="162.30" y1="361.60" x2="165.30" y2="361.60" stroke="#231f20" stroke-width="1.1"/>
<text x="153.40" y="363.90" font-size="6.5" stroke-width="0.091" fill="#231f20" textLength="6.10" lengthAdjust="spacingAndGlyphs">10</text>
<line x1="162.30" y1="374.80" x2="165.30" y2="374.80" stroke="#231f20" stroke-width="1.1"/>
<text x="156.45" y="377.10" font-size="6.5" stroke-width="0.091" fill="#231f20" textLength="3.05" lengthAdjust="spacingAndGlyphs">0</text>
<line x1="162.30" y1="388.20" x2="165.30" y2="388.20" stroke="#231f20" stroke-width="1.1"/>
<text x="151.20" y="390.50" font-size="6.5" stroke-width="0.091" fill="#231f20" textLength="8.30" lengthAdjust="spacingAndGlyphs">-10</text>
<text transform="translate(144.80,400.30) rotate(-90)" x="0" y="0" font-size="8.3" stroke-width="0.116" fill="#231f20" textLength="93.50" lengthAdjust="spacingAndGlyphs">Activation (% over control)</text>
<line x1="162.30" y1="388.40" x2="244.50" y2="388.40" stroke="#231f20" stroke-width="1.1"/>
<line x1="185.20" y1="388.40" x2="185.20" y2="391.60" stroke="#231f20" stroke-width="1.0"/>
<line x1="225.00" y1="388.40" x2="225.00" y2="391.60" stroke="#231f20" stroke-width="1.0"/>
<polyline points="188.05,374.80 188.05,355.65 197.25,355.65 197.25,374.80" fill="none" stroke="#bc3c52" stroke-width="0.9"/>
<polyline points="213.15,374.80 213.15,363.65 222.15,363.65 222.15,374.80" fill="none" stroke="#4b6b9f" stroke-width="0.9"/>
<polyline points="227.75,374.80 227.75,345.75 237.15,345.75 237.15,374.80" fill="none" stroke="#bc3c52" stroke-width="0.9"/>
<line x1="165.30" y1="374.80" x2="244.50" y2="374.80" stroke="#5e5e5e" stroke-width="1.6"/>
<line x1="177.80" y1="373.00" x2="177.80" y2="376.50" stroke="#231f20" stroke-width="0.8"/>
<line x1="175.30" y1="373.00" x2="180.30" y2="373.00" stroke="#231f20" stroke-width="0.8"/>
<line x1="175.30" y1="376.50" x2="180.30" y2="376.50" stroke="#231f20" stroke-width="0.8"/>
<line x1="174.30" y1="374.80" x2="181.30" y2="374.80" stroke="#231f20" stroke-width="0.8"/>
<circle cx="175.00" cy="372.00" r="1.5" fill="#2c4d80"/>
<circle cx="180.60" cy="370.70" r="1.5" fill="#2c4d80"/>
<circle cx="177.80" cy="374.80" r="1.5" fill="#2c4d80"/>
<circle cx="175.90" cy="376.90" r="1.5" fill="#2c4d80"/>
<circle cx="180.60" cy="377.60" r="1.5" fill="#2c4d80"/>
<circle cx="177.80" cy="379.00" r="1.5" fill="#2c4d80"/>
<circle cx="192.70" cy="344.00" r="1.5" fill="#a3122f"/>
<circle cx="190.30" cy="349.00" r="1.5" fill="#a3122f"/>
<circle cx="194.60" cy="348.60" r="1.5" fill="#a3122f"/>
<circle cx="190.80" cy="359.90" r="1.5" fill="#a3122f"/>
<circle cx="195.00" cy="360.80" r="1.5" fill="#a3122f"/>
<circle cx="192.70" cy="368.30" r="1.5" fill="#a3122f"/>
<line x1="192.70" y1="351.40" x2="192.70" y2="359.50" stroke="#231f20" stroke-width="0.8"/>
<line x1="190.20" y1="351.40" x2="195.20" y2="351.40" stroke="#231f20" stroke-width="0.8"/>
<line x1="190.20" y1="359.50" x2="195.20" y2="359.50" stroke="#231f20" stroke-width="0.8"/>
<line x1="189.20" y1="355.20" x2="196.20" y2="355.20" stroke="#231f20" stroke-width="0.8"/>
<circle cx="217.90" cy="359.90" r="1.5" fill="#2c4d80"/>
<circle cx="216.10" cy="361.70" r="1.5" fill="#2c4d80"/>
<circle cx="219.80" cy="364.00" r="1.5" fill="#2c4d80"/>
<circle cx="217.00" cy="369.20" r="1.5" fill="#2c4d80"/>
<circle cx="215.00" cy="363.50" r="1.5" fill="#2c4d80"/>
<line x1="217.60" y1="361.50" x2="217.60" y2="364.80" stroke="#231f20" stroke-width="0.8"/>
<line x1="215.10" y1="361.50" x2="220.10" y2="361.50" stroke="#231f20" stroke-width="0.8"/>
<line x1="215.10" y1="364.80" x2="220.10" y2="364.80" stroke="#231f20" stroke-width="0.8"/>
<line x1="214.10" y1="363.20" x2="221.10" y2="363.20" stroke="#231f20" stroke-width="0.8"/>
<circle cx="232.00" cy="337.40" r="1.5" fill="#a3122f"/>
<circle cx="234.80" cy="338.40" r="1.5" fill="#a3122f"/>
<circle cx="231.00" cy="341.20" r="1.5" fill="#a3122f"/>
<circle cx="232.00" cy="348.60" r="1.5" fill="#a3122f"/>
<circle cx="234.80" cy="349.60" r="1.5" fill="#a3122f"/>
<circle cx="232.90" cy="357.10" r="1.5" fill="#a3122f"/>
<line x1="232.90" y1="342.70" x2="232.90" y2="349.60" stroke="#231f20" stroke-width="0.8"/>
<line x1="230.40" y1="342.70" x2="235.40" y2="342.70" stroke="#231f20" stroke-width="0.8"/>
<line x1="230.40" y1="349.60" x2="235.40" y2="349.60" stroke="#231f20" stroke-width="0.8"/>
<line x1="229.40" y1="345.30" x2="236.40" y2="345.30" stroke="#231f20" stroke-width="0.8"/>
<polyline points="177.40,340.90 177.40,338.70 193.30,338.70 193.30,340.90" fill="none" stroke="#231f20" stroke-width="0.9"/>
<ellipse cx="182.95" cy="335.80" rx="0.72" ry="0.94" fill="#231f20"/>
<ellipse cx="185.30" cy="335.80" rx="0.72" ry="0.94" fill="#231f20"/>
<ellipse cx="187.65" cy="335.80" rx="0.72" ry="0.94" fill="#231f20"/>
<polyline points="177.40,333.60 177.40,331.40 217.60,331.40 217.60,333.60" fill="none" stroke="#231f20" stroke-width="0.9"/>
<ellipse cx="197.50" cy="328.60" rx="0.72" ry="0.94" fill="#231f20"/>
<polyline points="217.60,328.80 217.60,326.60 232.90,326.60 232.90,328.80" fill="none" stroke="#231f20" stroke-width="0.9"/>
<ellipse cx="222.85" cy="323.80" rx="0.72" ry="0.94" fill="#231f20"/>
<ellipse cx="225.20" cy="323.80" rx="0.72" ry="0.94" fill="#231f20"/>
<ellipse cx="227.55" cy="323.80" rx="0.72" ry="0.94" fill="#231f20"/>
<text x="166.70" y="400.20" font-size="6.3" stroke-width="0.088" fill="#231f20" textLength="36.10" lengthAdjust="spacingAndGlyphs">Unstimulated</text>
<text x="216.20" y="400.20" font-size="6.3" stroke-width="0.088" fill="#231f20" textLength="17.40" lengthAdjust="spacingAndGlyphs">DENV2</text>
<rect x="179.40" y="407.90" width="7.90" height="4.30" rx="0.5" fill="none" stroke="#4b6b9f" stroke-width="1.0"/>
<text x="190.20" y="411.90" font-size="5.3" stroke-width="0.074" fill="#231f20" textLength="13.40" lengthAdjust="spacingAndGlyphs" font-style="italic">Media</text>
<rect x="211.20" y="407.90" width="7.30" height="4.30" rx="0.5" fill="none" stroke="#bc3c52" stroke-width="1.0"/>
<text x="221.30" y="411.90" font-size="5.3" stroke-width="0.074" fill="#231f20" textLength="7.00" lengthAdjust="spacingAndGlyphs" font-style="italic">MC</text>
<text transform="translate(260.60,303.70) scale(0.609,1) translate(-0.00,0)" x="0" y="0" font-size="11.5" stroke-width="0.161" fill="#111">J</text>
<line x1="296.00" y1="318.90" x2="296.00" y2="388.80" stroke="#231f20" stroke-width="1.1"/>
<line x1="293.00" y1="321.00" x2="296.00" y2="321.00" stroke="#231f20" stroke-width="1.1"/>
<text x="278.70" y="323.30" font-size="6.5" stroke-width="0.091" fill="#231f20" textLength="12.20" lengthAdjust="spacingAndGlyphs">1200</text>
<line x1="293.00" y1="332.30" x2="296.00" y2="332.30" stroke="#231f20" stroke-width="1.1"/>
<text x="278.70" y="334.60" font-size="6.5" stroke-width="0.091" fill="#231f20" textLength="12.20" lengthAdjust="spacingAndGlyphs">1000</text>
<line x1="293.00" y1="343.60" x2="296.00" y2="343.60" stroke="#231f20" stroke-width="1.1"/>
<text x="281.75" y="345.90" font-size="6.5" stroke-width="0.091" fill="#231f20" textLength="9.15" lengthAdjust="spacingAndGlyphs">800</text>
<line x1="293.00" y1="354.90" x2="296.00" y2="354.90" stroke="#231f20" stroke-width="1.1"/>
<text x="281.75" y="357.20" font-size="6.5" stroke-width="0.091" fill="#231f20" textLength="9.15" lengthAdjust="spacingAndGlyphs">600</text>
<line x1="293.00" y1="366.20" x2="296.00" y2="366.20" stroke="#231f20" stroke-width="1.1"/>
<text x="281.75" y="368.50" font-size="6.5" stroke-width="0.091" fill="#231f20" textLength="9.15" lengthAdjust="spacingAndGlyphs">400</text>
<line x1="293.00" y1="377.50" x2="296.00" y2="377.50" stroke="#231f20" stroke-width="1.1"/>
<text x="281.75" y="379.80" font-size="6.5" stroke-width="0.091" fill="#231f20" textLength="9.15" lengthAdjust="spacingAndGlyphs">200</text>
<line x1="293.00" y1="388.30" x2="296.00" y2="388.30" stroke="#231f20" stroke-width="1.1"/>
<text x="287.85" y="390.60" font-size="6.5" stroke-width="0.091" fill="#231f20" textLength="3.05" lengthAdjust="spacingAndGlyphs">0</text>
<text transform="translate(270.20,373.40) rotate(-90)" x="0" y="0" font-size="7.4" stroke-width="0.104" fill="#231f20" textLength="41.40" lengthAdjust="spacingAndGlyphs">Plt (x10<tspan dy="-2.4" font-size="72%">3</tspan><tspan dy="2.4">​</tspan>/µl)</text>
<line x1="293.00" y1="388.30" x2="376.60" y2="388.30" stroke="#231f20" stroke-width="1.1"/>
<line x1="309.70" y1="388.30" x2="309.70" y2="391.50" stroke="#231f20" stroke-width="1.0"/>
<line x1="336.50" y1="388.30" x2="336.50" y2="391.50" stroke="#231f20" stroke-width="1.0"/>
<line x1="363.60" y1="388.30" x2="363.60" y2="391.50" stroke="#231f20" stroke-width="1.0"/>
<polyline points="300.45,388.30 300.45,342.75 318.35,342.75 318.35,388.30" fill="none" stroke="#bc3c52" stroke-width="0.9"/>
<polyline points="327.75,388.30 327.75,364.05 345.15,364.05 345.15,388.30" fill="none" stroke="#4b6b9f" stroke-width="0.9"/>
<polyline points="354.85,388.30 354.85,352.75 372.45,352.75 372.45,388.30" fill="none" stroke="#7a4880" stroke-width="0.9"/>
<circle cx="309.70" cy="334.10" r="1.5" fill="#a3122f"/>
<circle cx="307.30" cy="339.20" r="1.5" fill="#a3122f"/>
<circle cx="312.10" cy="338.00" r="1.5" fill="#a3122f"/>
<circle cx="309.10" cy="344.70" r="1.5" fill="#a3122f"/>
<circle cx="309.70" cy="356.30" r="1.5" fill="#a3122f"/>
<line x1="309.70" y1="338.80" x2="309.70" y2="346.00" stroke="#231f20" stroke-width="0.8"/>
<line x1="306.20" y1="338.80" x2="313.20" y2="338.80" stroke="#231f20" stroke-width="0.8"/>
<line x1="306.20" y1="346.00" x2="313.20" y2="346.00" stroke="#231f20" stroke-width="0.8"/>
<circle cx="336.50" cy="355.30" r="1.5" fill="#2c4d80"/>
<circle cx="332.50" cy="359.30" r="1.5" fill="#2c4d80"/>
<circle cx="337.10" cy="363.00" r="1.5" fill="#2c4d80"/>
<circle cx="334.00" cy="367.50" r="1.5" fill="#2c4d80"/>
<circle cx="336.50" cy="376.60" r="1.5" fill="#2c4d80"/>
<line x1="336.30" y1="359.50" x2="336.30" y2="367.50" stroke="#231f20" stroke-width="0.8"/>
<line x1="332.80" y1="359.50" x2="339.80" y2="359.50" stroke="#231f20" stroke-width="0.8"/>
<line x1="332.80" y1="367.50" x2="339.80" y2="367.50" stroke="#231f20" stroke-width="0.8"/>
<circle cx="363.50" cy="338.00" r="1.5" fill="#6b2c6b"/>
<circle cx="359.90" cy="352.30" r="1.5" fill="#6b2c6b"/>
<circle cx="364.40" cy="353.80" r="1.5" fill="#6b2c6b"/>
<circle cx="359.30" cy="360.80" r="1.5" fill="#6b2c6b"/>
<line x1="363.60" y1="347.50" x2="363.60" y2="357.50" stroke="#231f20" stroke-width="0.8"/>
<line x1="360.10" y1="347.50" x2="367.10" y2="347.50" stroke="#231f20" stroke-width="0.8"/>
<line x1="360.10" y1="357.50" x2="367.10" y2="357.50" stroke="#231f20" stroke-width="0.8"/>
<polyline points="309.10,330.20 309.10,328.00 336.50,328.00 336.50,330.20" fill="none" stroke="#231f20" stroke-width="0.9"/>
<ellipse cx="321.62" cy="325.00" rx="0.72" ry="0.94" fill="#231f20"/>
<ellipse cx="323.98" cy="325.00" rx="0.72" ry="0.94" fill="#231f20"/>
<polyline points="336.50,336.30 336.50,334.10 363.50,334.10 363.50,336.30" fill="none" stroke="#231f20" stroke-width="0.9"/>
<ellipse cx="350.00" cy="331.00" rx="0.72" ry="0.94" fill="#231f20"/>
<text x="327.20" y="399.90" font-size="6.3" stroke-width="0.088" fill="#231f20" textLength="18.80" lengthAdjust="spacingAndGlyphs">Vehicle</text>
<text x="351.10" y="399.90" font-size="6.3" stroke-width="0.088" fill="#231f20" textLength="24.30" lengthAdjust="spacingAndGlyphs">Ketotifen</text>
<line x1="327.20" y1="404.40" x2="372.50" y2="404.40" stroke="#231f20" stroke-width="0.9"/>
<text x="341.15" y="412.60" font-size="6.4" stroke-width="0.090" fill="#231f20" textLength="17.50" lengthAdjust="spacingAndGlyphs">DENV2</text>
<text transform="translate(292.20,417.80) rotate(-44.7)" x="0" y="0" font-size="6.9" stroke-width="0.097" fill="#231f20" textLength="27.72" lengthAdjust="spacingAndGlyphs">Uninfected</text>
<text transform="translate(392.20,304.00) scale(0.913,1) translate(-0.00,0)" x="0" y="0" font-size="11.5" stroke-width="0.161" fill="#111">K</text>
<line x1="420.30" y1="318.00" x2="420.30" y2="388.90" stroke="#231f20" stroke-width="1.1"/>
<line x1="417.30" y1="321.40" x2="420.30" y2="321.40" stroke="#231f20" stroke-width="1.1"/>
<text x="408.50" y="323.70" font-size="6.5" stroke-width="0.091" fill="#231f20" textLength="6.10" lengthAdjust="spacingAndGlyphs">80</text>
<line x1="417.30" y1="338.20" x2="420.30" y2="338.20" stroke="#231f20" stroke-width="1.1"/>
<text x="408.50" y="340.50" font-size="6.5" stroke-width="0.091" fill="#231f20" textLength="6.10" lengthAdjust="spacingAndGlyphs">60</text>
<line x1="417.30" y1="355.00" x2="420.30" y2="355.00" stroke="#231f20" stroke-width="1.1"/>
<text x="408.50" y="357.30" font-size="6.5" stroke-width="0.091" fill="#231f20" textLength="6.10" lengthAdjust="spacingAndGlyphs">40</text>
<line x1="417.30" y1="371.80" x2="420.30" y2="371.80" stroke="#231f20" stroke-width="1.1"/>
<text x="408.50" y="374.10" font-size="6.5" stroke-width="0.091" fill="#231f20" textLength="6.10" lengthAdjust="spacingAndGlyphs">20</text>
<line x1="417.30" y1="388.40" x2="420.30" y2="388.40" stroke="#231f20" stroke-width="1.1"/>
<text x="411.55" y="390.70" font-size="6.5" stroke-width="0.091" fill="#231f20" textLength="3.05" lengthAdjust="spacingAndGlyphs">0</text>
<text transform="translate(402.90,392.70) rotate(-90)" x="0" y="0" font-size="8.2" stroke-width="0.115" fill="#231f20" textLength="78.00" lengthAdjust="spacingAndGlyphs">Activation (% CD62p<tspan dy="-2.4" font-size="72%">+</tspan><tspan dy="2.4">​</tspan>)</text>
<line x1="417.30" y1="388.40" x2="475.40" y2="388.40" stroke="#231f20" stroke-width="1.1"/>
<line x1="434.50" y1="388.40" x2="434.50" y2="391.60" stroke="#231f20" stroke-width="1.0"/>
<line x1="462.80" y1="388.40" x2="462.80" y2="391.60" stroke="#231f20" stroke-width="1.0"/>
<polyline points="424.95,388.40 424.95,348.75 444.15,348.75 444.15,388.40" fill="none" stroke="#4b6b9f" stroke-width="0.9"/>
<polyline points="453.55,388.40 453.55,368.85 472.45,368.85 472.45,388.40" fill="none" stroke="#7a4880" stroke-width="0.9"/>
<circle cx="434.30" cy="327.30" r="1.5" fill="#2c4d80"/>
<circle cx="432.90" cy="342.70" r="1.5" fill="#2c4d80"/>
<circle cx="436.20" cy="342.70" r="1.5" fill="#2c4d80"/>
<circle cx="432.00" cy="364.20" r="1.5" fill="#2c4d80"/>
<circle cx="436.50" cy="363.70" r="1.5" fill="#2c4d80"/>
<line x1="434.50" y1="341.30" x2="434.50" y2="355.30" stroke="#231f20" stroke-width="0.8"/>
<line x1="430.50" y1="341.30" x2="438.50" y2="341.30" stroke="#231f20" stroke-width="0.8"/>
<line x1="430.50" y1="355.30" x2="438.50" y2="355.30" stroke="#231f20" stroke-width="0.8"/>
<circle cx="456.10" cy="367.10" r="1.5" fill="#6b2c6b"/>
<circle cx="459.50" cy="369.10" r="1.5" fill="#6b2c6b"/>
<circle cx="462.00" cy="369.60" r="1.5" fill="#6b2c6b"/>
<circle cx="464.50" cy="369.10" r="1.5" fill="#6b2c6b"/>
<circle cx="468.70" cy="366.70" r="1.5" fill="#6b2c6b"/>
<line x1="462.80" y1="367.40" x2="462.80" y2="369.30" stroke="#231f20" stroke-width="0.8"/>
<line x1="459.30" y1="367.40" x2="466.30" y2="367.40" stroke="#231f20" stroke-width="0.8"/>
<line x1="459.30" y1="369.30" x2="466.30" y2="369.30" stroke="#231f20" stroke-width="0.8"/>
<ellipse cx="462.80" cy="362.30" rx="0.72" ry="0.94" fill="#231f20"/>
<text x="425.00" y="399.90" font-size="6.3" stroke-width="0.088" fill="#231f20" textLength="19.40" lengthAdjust="spacingAndGlyphs">Vehicle</text>
<text x="451.00" y="399.90" font-size="6.3" stroke-width="0.088" fill="#231f20" textLength="24.00" lengthAdjust="spacingAndGlyphs">Ketotifen</text>
<text transform="translate(113.10,173.00) scale(0.827,1) translate(-0.00,0)" x="0" y="0" font-size="11.5" stroke-width="0.161" fill="#111">G</text>
<defs><clipPath id="clip0"><rect x="125.2" y="175.9" width="123.30" height="93.70"/></clipPath></defs>
<rect x="125.2" y="175.9" width="123.30" height="93.70" fill="#faf8f4"/>
<g clip-path="url(#clip0)">
<g fill="#c99e92" opacity="0.7">
<circle cx="204.8" cy="194.3" r="2.45"/>
<circle cx="200.6" cy="187.8" r="2.45"/>
<circle cx="199.3" cy="192.2" r="2.45"/>
<circle cx="211.5" cy="254.5" r="2.45"/>
<circle cx="214.6" cy="248.1" r="2.45"/>
<circle cx="215.6" cy="256.4" r="2.45"/>
<circle cx="207.9" cy="248.5" r="2.45"/>
<circle cx="217.1" cy="250.9" r="2.45"/>
<circle cx="171.2" cy="261.9" r="2.45"/>
<circle cx="170.5" cy="268.8" r="2.45"/>
<circle cx="207.2" cy="204.0" r="2.45"/>
<circle cx="199.8" cy="207.6" r="2.45"/>
<circle cx="201.1" cy="202.5" r="2.45"/>
<circle cx="206.7" cy="210.9" r="2.45"/>
<circle cx="240.6" cy="234.6" r="2.45"/>
<circle cx="244.8" cy="241.8" r="2.45"/>
<circle cx="185.0" cy="250.3" r="2.45"/>
<circle cx="186.6" cy="246.4" r="2.45"/>
<circle cx="184.1" cy="254.4" r="2.45"/>
<circle cx="181.8" cy="248.2" r="2.45"/>
<circle cx="232.5" cy="248.7" r="2.45"/>
<circle cx="229.6" cy="256.0" r="2.45"/>
<circle cx="234.4" cy="253.6" r="2.45"/>
<circle cx="228.8" cy="246.7" r="2.45"/>
<circle cx="156.2" cy="201.1" r="2.45"/>
<circle cx="162.5" cy="200.4" r="2.45"/>
<circle cx="161.8" cy="210.6" r="2.45"/>
<circle cx="157.5" cy="208.2" r="2.45"/>
<circle cx="178.3" cy="198.7" r="2.45"/>
<circle cx="184.1" cy="192.1" r="2.45"/>
<circle cx="185.1" cy="197.5" r="2.45"/>
<circle cx="176.9" cy="187.8" r="2.45"/>
<circle cx="151.4" cy="259.4" r="2.45"/>
<circle cx="150.7" cy="263.9" r="2.45"/>
<circle cx="146.2" cy="186.5" r="2.45"/>
<circle cx="154.5" cy="182.8" r="2.45"/>
<circle cx="146.1" cy="182.1" r="2.45"/>
<circle cx="152.8" cy="176.4" r="2.45"/>
<circle cx="176.7" cy="178.5" r="2.45"/>
<circle cx="185.6" cy="177.3" r="2.45"/>
<circle cx="185.6" cy="184.1" r="2.45"/>
<circle cx="177.0" cy="182.3" r="2.45"/>
<circle cx="217.8" cy="216.9" r="2.45"/>
<circle cx="222.0" cy="215.5" r="2.45"/>
<circle cx="220.7" cy="221.6" r="2.45"/>
<circle cx="227.4" cy="214.1" r="2.45"/>
<circle cx="221.8" cy="211.3" r="2.45"/>
<circle cx="177.0" cy="228.6" r="2.45"/>
<circle cx="186.7" cy="232.0" r="2.45"/>
<circle cx="180.2" cy="233.6" r="2.45"/>
<circle cx="223.7" cy="229.5" r="2.45"/>
<circle cx="227.1" cy="231.4" r="2.45"/>
<circle cx="224.0" cy="225.6" r="2.45"/>
<circle cx="218.5" cy="230.0" r="2.45"/>
<circle cx="171.2" cy="184.0" r="2.45"/>
<circle cx="166.7" cy="187.2" r="2.45"/>
<circle cx="171.2" cy="179.2" r="2.45"/>
<circle cx="168.2" cy="177.0" r="2.45"/>
<circle cx="166.3" cy="180.9" r="2.45"/>
<circle cx="225.1" cy="237.8" r="2.45"/>
<circle cx="219.7" cy="239.7" r="2.45"/>
<circle cx="221.7" cy="234.8" r="2.45"/>
<circle cx="188.0" cy="206.8" r="2.45"/>
<circle cx="196.7" cy="201.0" r="2.45"/>
<circle cx="195.4" cy="208.3" r="2.45"/>
<circle cx="188.6" cy="202.9" r="2.45"/>
<circle cx="190.8" cy="199.6" r="2.45"/>
<circle cx="173.2" cy="190.7" r="2.45"/>
<circle cx="172.6" cy="198.6" r="2.45"/>
<circle cx="169.2" cy="192.6" r="2.45"/>
<circle cx="149.7" cy="249.6" r="2.45"/>
<circle cx="151.3" cy="253.6" r="2.45"/>
<circle cx="154.1" cy="256.3" r="2.45"/>
<circle cx="155.3" cy="249.5" r="2.45"/>
<circle cx="196.4" cy="237.6" r="2.45"/>
<circle cx="188.5" cy="238.1" r="2.45"/>
<circle cx="188.6" cy="241.9" r="2.45"/>
<circle cx="231.0" cy="241.0" r="2.45"/>
<circle cx="232.9" cy="237.8" r="2.45"/>
<circle cx="235.4" cy="246.1" r="2.45"/>
<circle cx="238.2" cy="239.4" r="2.45"/>
<circle cx="229.2" cy="235.9" r="2.45"/>
<circle cx="137.5" cy="188.3" r="2.45"/>
<circle cx="142.8" cy="194.1" r="2.45"/>
<circle cx="162.6" cy="238.0" r="2.45"/>
<circle cx="164.0" cy="245.1" r="2.45"/>
<circle cx="156.7" cy="243.2" r="2.45"/>
<circle cx="156.2" cy="234.9" r="2.45"/>
<circle cx="165.9" cy="240.8" r="2.45"/>
<circle cx="160.1" cy="241.1" r="2.45"/>
<circle cx="147.7" cy="239.0" r="2.45"/>
<circle cx="145.8" cy="243.9" r="2.45"/>
<circle cx="151.6" cy="238.1" r="2.45"/>
<circle cx="152.1" cy="243.2" r="2.45"/>
<circle cx="146.9" cy="234.9" r="2.45"/>
<circle cx="142.8" cy="240.7" r="2.45"/>
<circle cx="143.4" cy="267.6" r="2.45"/>
<circle cx="140.7" cy="259.8" r="2.45"/>
<circle cx="137.2" cy="264.6" r="2.45"/>
<circle cx="200.2" cy="216.8" r="2.45"/>
<circle cx="199.1" cy="220.9" r="2.45"/>
<circle cx="204.5" cy="266.5" r="2.45"/>
<circle cx="201.7" cy="259.2" r="2.45"/>
<circle cx="207.0" cy="258.3" r="2.45"/>
<circle cx="201.5" cy="263.1" r="2.45"/>
<circle cx="197.8" cy="262.2" r="2.45"/>
<circle cx="145.4" cy="217.4" r="2.45"/>
<circle cx="145.6" cy="213.5" r="2.45"/>
<circle cx="138.9" cy="213.3" r="2.45"/>
<circle cx="141.7" cy="221.5" r="2.45"/>
<circle cx="140.5" cy="217.1" r="2.45"/>
<circle cx="135.5" cy="218.5" r="2.45"/>
<circle cx="247.4" cy="197.3" r="2.45"/>
<circle cx="244.5" cy="192.7" r="2.45"/>
<circle cx="238.6" cy="192.2" r="2.45"/>
<circle cx="241.8" cy="197.2" r="2.45"/>
<circle cx="239.6" cy="188.2" r="2.45"/>
<circle cx="233.5" cy="205.7" r="2.45"/>
<circle cx="235.9" cy="200.8" r="2.45"/>
<circle cx="234.0" cy="209.7" r="2.45"/>
<circle cx="230.2" cy="202.5" r="2.45"/>
<circle cx="238.1" cy="205.5" r="2.45"/>
<circle cx="222.5" cy="255.7" r="2.45"/>
<circle cx="220.7" cy="249.4" r="2.45"/>
<circle cx="225.9" cy="252.3" r="2.45"/>
<circle cx="224.3" cy="246.4" r="2.45"/>
<circle cx="225.6" cy="257.9" r="2.45"/>
<circle cx="218.1" cy="246.6" r="2.45"/>
<circle cx="223.2" cy="192.1" r="2.45"/>
<circle cx="219.3" cy="192.3" r="2.45"/>
<circle cx="225.2" cy="197.8" r="2.45"/>
<circle cx="139.1" cy="255.2" r="2.45"/>
<circle cx="216.6" cy="204.0" r="2.45"/>
<circle cx="214.3" cy="209.5" r="2.45"/>
<circle cx="212.6" cy="200.7" r="2.45"/>
<circle cx="212.6" cy="205.9" r="2.45"/>
<circle cx="208.4" cy="199.5" r="2.45"/>
<circle cx="231.6" cy="216.4" r="2.45"/>
<circle cx="235.6" cy="222.7" r="2.45"/>
<circle cx="229.4" cy="222.1" r="2.45"/>
<circle cx="237.5" cy="212.9" r="2.45"/>
<circle cx="235.2" cy="218.8" r="2.45"/>
<circle cx="212.5" cy="231.3" r="2.45"/>
<circle cx="216.3" cy="223.7" r="2.45"/>
<circle cx="208.6" cy="233.1" r="2.45"/>
<circle cx="161.4" cy="185.1" r="2.45"/>
<circle cx="161.4" cy="179.7" r="2.45"/>
<circle cx="156.8" cy="178.2" r="2.45"/>
<circle cx="157.2" cy="186.6" r="2.45"/>
<circle cx="158.5" cy="182.3" r="2.45"/>
<circle cx="176.9" cy="245.0" r="2.45"/>
<circle cx="178.0" cy="239.3" r="2.45"/>
<circle cx="182.7" cy="243.0" r="2.45"/>
<circle cx="183.1" cy="238.6" r="2.45"/>
<circle cx="172.8" cy="246.4" r="2.45"/>
<circle cx="175.8" cy="257.2" r="2.45"/>
<circle cx="169.0" cy="250.0" r="2.45"/>
<circle cx="211.6" cy="177.0" r="2.45"/>
<circle cx="213.8" cy="185.6" r="2.45"/>
<circle cx="216.9" cy="177.5" r="2.45"/>
<circle cx="211.7" cy="181.3" r="2.45"/>
<circle cx="174.4" cy="202.7" r="2.45"/>
<circle cx="175.2" cy="207.1" r="2.45"/>
<circle cx="170.0" cy="211.0" r="2.45"/>
<circle cx="127.9" cy="259.8" r="2.45"/>
<circle cx="135.0" cy="260.6" r="2.45"/>
<circle cx="131.3" cy="262.4" r="2.45"/>
<circle cx="193.3" cy="246.6" r="2.45"/>
<circle cx="188.4" cy="256.4" r="2.45"/>
<circle cx="190.4" cy="250.6" r="2.45"/>
<circle cx="194.9" cy="253.9" r="2.45"/>
<circle cx="138.8" cy="178.4" r="2.45"/>
<circle cx="144.0" cy="178.8" r="2.45"/>
<circle cx="138.8" cy="182.3" r="2.45"/>
<circle cx="140.7" cy="186.3" r="2.45"/>
<circle cx="135.6" cy="184.6" r="2.45"/>
<circle cx="200.3" cy="234.5" r="2.45"/>
<circle cx="203.7" cy="245.7" r="2.45"/>
<circle cx="200.8" cy="241.9" r="2.45"/>
<circle cx="206.9" cy="242.5" r="2.45"/>
<circle cx="207.1" cy="238.7" r="2.45"/>
<circle cx="133.5" cy="199.0" r="2.45"/>
<circle cx="128.5" cy="198.4" r="2.45"/>
<circle cx="131.4" cy="191.9" r="2.45"/>
<circle cx="127.9" cy="193.4" r="2.45"/>
<circle cx="247.3" cy="250.2" r="2.45"/>
<circle cx="244.5" cy="254.8" r="2.45"/>
<circle cx="242.7" cy="248.3" r="2.45"/>
<circle cx="127.0" cy="218.0" r="2.45"/>
<circle cx="125.4" cy="212.0" r="2.45"/>
<circle cx="132.1" cy="215.7" r="2.45"/>
<circle cx="128.7" cy="213.9" r="2.45"/>
<circle cx="133.4" cy="211.6" r="2.45"/>
<circle cx="136.6" cy="232.8" r="2.45"/>
<circle cx="142.4" cy="227.0" r="2.45"/>
<circle cx="137.3" cy="228.9" r="2.45"/>
<circle cx="141.5" cy="233.1" r="2.45"/>
<circle cx="224.0" cy="184.5" r="2.45"/>
<circle cx="219.4" cy="185.1" r="2.45"/>
<circle cx="227.1" cy="179.1" r="2.45"/>
<circle cx="145.2" cy="202.4" r="2.45"/>
<circle cx="136.4" cy="207.6" r="2.45"/>
<circle cx="145.0" cy="206.7" r="2.45"/>
<circle cx="141.4" cy="202.5" r="2.45"/>
<circle cx="149.5" cy="221.1" r="2.45"/>
<circle cx="152.0" cy="218.2" r="2.45"/>
<circle cx="153.6" cy="222.5" r="2.45"/>
<circle cx="154.3" cy="211.7" r="2.45"/>
<circle cx="129.3" cy="183.0" r="2.45"/>
<circle cx="132.2" cy="178.9" r="2.45"/>
<circle cx="131.8" cy="187.0" r="2.45"/>
<circle cx="239.0" cy="179.7" r="2.45"/>
<circle cx="246.0" cy="178.7" r="2.45"/>
<circle cx="206.7" cy="184.9" r="2.45"/>
<circle cx="200.4" cy="182.8" r="2.45"/>
<circle cx="175.0" cy="216.4" r="2.45"/>
<circle cx="175.7" cy="220.5" r="2.45"/>
<circle cx="186.6" cy="222.0" r="2.45"/>
<circle cx="183.7" cy="217.5" r="2.45"/>
<circle cx="179.6" cy="212.0" r="2.45"/>
<circle cx="180.3" cy="221.6" r="2.45"/>
<circle cx="191.2" cy="229.8" r="2.45"/>
<circle cx="195.0" cy="223.2" r="2.45"/>
<circle cx="190.6" cy="224.3" r="2.45"/>
<circle cx="210.7" cy="190.2" r="2.45"/>
<circle cx="213.1" cy="193.3" r="2.45"/>
<circle cx="216.3" cy="198.6" r="2.45"/>
<circle cx="208.6" cy="195.4" r="2.45"/>
<circle cx="216.5" cy="189.3" r="2.45"/>
<circle cx="129.2" cy="228.5" r="2.45"/>
<circle cx="244.2" cy="201.0" r="2.45"/>
<circle cx="248.0" cy="204.5" r="2.45"/>
<circle cx="243.7" cy="209.6" r="2.45"/>
<circle cx="241.9" cy="205.8" r="2.45"/>
<circle cx="240.3" cy="201.4" r="2.45"/>
<circle cx="244.4" cy="230.1" r="2.45"/>
<circle cx="248.5" cy="224.3" r="2.45"/>
<circle cx="248.2" cy="232.4" r="2.45"/>
<circle cx="159.4" cy="230.6" r="2.45"/>
<circle cx="163.4" cy="226.4" r="2.45"/>
<circle cx="157.0" cy="225.2" r="2.45"/>
<circle cx="163.6" cy="234.4" r="2.45"/>
<circle cx="160.7" cy="223.2" r="2.45"/>
<circle cx="160.5" cy="250.5" r="2.45"/>
<circle cx="157.7" cy="253.6" r="2.45"/>
<circle cx="172.3" cy="226.5" r="2.45"/>
<circle cx="166.5" cy="230.4" r="2.45"/>
<circle cx="244.1" cy="215.7" r="2.45"/>
<circle cx="242.2" cy="220.0" r="2.45"/>
<circle cx="239.4" cy="222.6" r="2.45"/>
<circle cx="184.4" cy="266.1" r="2.45"/>
<circle cx="181.7" cy="260.1" r="2.45"/>
<circle cx="177.3" cy="267.2" r="2.45"/>
<circle cx="133.0" cy="203.4" r="2.45"/>
<circle cx="125.6" cy="201.6" r="2.45"/>
<circle cx="131.6" cy="207.4" r="2.45"/>
<circle cx="126.3" cy="206.6" r="2.45"/>
<circle cx="129.2" cy="202.7" r="2.45"/>
<circle cx="128.6" cy="209.6" r="2.45"/>
<circle cx="246.0" cy="262.1" r="2.45"/>
<circle cx="248.0" cy="268.6" r="2.45"/>
<circle cx="243.9" cy="268.8" r="2.45"/>
<circle cx="240.4" cy="262.4" r="2.45"/>
<circle cx="215.5" cy="265.4" r="2.45"/>
<circle cx="216.9" cy="269.2" r="2.45"/>
<circle cx="214.3" cy="260.2" r="2.45"/>
<circle cx="210.6" cy="261.1" r="2.45"/>
<circle cx="198.3" cy="249.8" r="2.45"/>
<circle cx="204.0" cy="252.1" r="2.45"/>
<circle cx="199.8" cy="254.5" r="2.45"/>
<circle cx="197.3" cy="257.7" r="2.45"/>
<circle cx="163.0" cy="217.3" r="2.45"/>
<circle cx="157.6" cy="220.9" r="2.45"/>
<circle cx="178.8" cy="205.3" r="2.45"/>
<circle cx="182.2" cy="201.2" r="2.45"/>
<circle cx="184.2" cy="209.9" r="2.45"/>
<circle cx="185.1" cy="204.4" r="2.45"/>
<circle cx="192.5" cy="216.1" r="2.45"/>
<circle cx="189.1" cy="219.1" r="2.45"/>
<circle cx="196.8" cy="214.2" r="2.45"/>
<circle cx="149.1" cy="206.7" r="2.45"/>
<circle cx="150.9" cy="201.2" r="2.45"/>
<circle cx="152.6" cy="208.2" r="2.45"/>
<circle cx="155.5" cy="205.0" r="2.45"/>
<circle cx="194.6" cy="178.5" r="2.45"/>
<circle cx="190.4" cy="182.9" r="2.45"/>
<circle cx="194.9" cy="186.8" r="2.45"/>
<circle cx="226.2" cy="204.0" r="2.45"/>
<circle cx="222.4" cy="206.8" r="2.45"/>
<circle cx="227.3" cy="209.6" r="2.45"/>
<circle cx="222.3" cy="202.6" r="2.45"/>
<circle cx="218.7" cy="208.7" r="2.45"/>
<circle cx="225.3" cy="266.1" r="2.45"/>
<circle cx="220.1" cy="262.8" r="2.45"/>
<circle cx="224.5" cy="261.8" r="2.45"/>
<circle cx="221.3" cy="267.6" r="2.45"/>
<circle cx="231.2" cy="184.1" r="2.45"/>
<circle cx="230.9" cy="179.1" r="2.45"/>
<circle cx="236.1" cy="177.2" r="2.45"/>
<circle cx="235.0" cy="184.6" r="2.45"/>
<circle cx="166.2" cy="198.4" r="2.45"/>
<circle cx="157.1" cy="190.3" r="2.45"/>
<circle cx="213.8" cy="240.7" r="2.45"/>
<circle cx="212.4" cy="235.2" r="2.45"/>
<circle cx="211.9" cy="245.1" r="2.45"/>
<circle cx="217.6" cy="234.6" r="2.45"/>
<circle cx="216.9" cy="242.9" r="2.45"/>
<circle cx="151.9" cy="189.6" r="2.45"/>
<circle cx="153.0" cy="193.3" r="2.45"/>
<circle cx="146.3" cy="190.4" r="2.45"/>
<circle cx="148.2" cy="198.7" r="2.45"/>
<circle cx="147.8" cy="194.0" r="2.45"/>
<circle cx="170.2" cy="234.7" r="2.45"/>
<circle cx="175.2" cy="235.7" r="2.45"/>
<circle cx="170.3" cy="241.7" r="2.45"/>
<circle cx="174.5" cy="241.7" r="2.45"/>
<circle cx="197.1" cy="226.9" r="2.45"/>
<circle cx="203.3" cy="223.3" r="2.45"/>
<circle cx="209.3" cy="218.5" r="2.45"/>
<circle cx="213.5" cy="215.5" r="2.45"/>
<circle cx="208.1" cy="214.8" r="2.45"/>
<circle cx="213.8" cy="219.7" r="2.45"/>
<circle cx="217.6" cy="212.8" r="2.45"/>
<circle cx="155.6" cy="229.5" r="2.45"/>
<circle cx="147.1" cy="226.1" r="2.45"/>
<circle cx="146.5" cy="230.3" r="2.45"/>
<circle cx="151.3" cy="230.4" r="2.45"/>
<circle cx="151.4" cy="234.2" r="2.45"/>
<circle cx="152.5" cy="226.8" r="2.45"/>
<circle cx="194.9" cy="267.7" r="2.45"/>
<circle cx="190.0" cy="261.1" r="2.45"/>
<circle cx="188.2" cy="268.3" r="2.45"/>
<circle cx="192.9" cy="264.4" r="2.45"/>
<circle cx="234.2" cy="194.2" r="2.45"/>
<circle cx="231.6" cy="189.9" r="2.45"/>
<circle cx="229.1" cy="197.9" r="2.45"/>
<circle cx="237.5" cy="196.5" r="2.45"/>
<circle cx="228.2" cy="192.2" r="2.45"/>
<circle cx="228.3" cy="187.7" r="2.45"/>
<circle cx="234.0" cy="268.0" r="2.45"/>
<circle cx="236.1" cy="263.4" r="2.45"/>
<circle cx="230.4" cy="269.3" r="2.45"/>
<circle cx="237.0" cy="229.9" r="2.45"/>
<circle cx="231.2" cy="226.2" r="2.45"/>
<circle cx="189.3" cy="188.5" r="2.45"/>
<circle cx="192.4" cy="191.5" r="2.45"/>
<circle cx="196.0" cy="197.1" r="2.45"/>
<circle cx="187.8" cy="193.8" r="2.45"/>
</g>
<g fill="#e6e2ef" stroke="#9288ac" stroke-width="0.9">
<circle cx="204.8" cy="194.3" r="1.65"/>
<circle cx="200.6" cy="187.8" r="1.65"/>
<circle cx="199.3" cy="192.2" r="1.65"/>
<circle cx="211.5" cy="254.5" r="1.65"/>
<circle cx="214.6" cy="248.1" r="1.65"/>
<circle cx="215.6" cy="256.4" r="1.65"/>
<circle cx="207.9" cy="248.5" r="1.65"/>
<circle cx="217.1" cy="250.9" r="1.65"/>
<circle cx="171.2" cy="261.9" r="1.65"/>
<circle cx="170.5" cy="268.8" r="1.65"/>
<circle cx="207.2" cy="204.0" r="1.65"/>
<circle cx="199.8" cy="207.6" r="1.65"/>
<circle cx="201.1" cy="202.5" r="1.65"/>
<circle cx="206.7" cy="210.9" r="1.65"/>
<circle cx="240.6" cy="234.6" r="1.65"/>
<circle cx="244.8" cy="241.8" r="1.65"/>
<circle cx="185.0" cy="250.3" r="1.65"/>
<circle cx="186.6" cy="246.4" r="1.65"/>
<circle cx="184.1" cy="254.4" r="1.65"/>
<circle cx="181.8" cy="248.2" r="1.65"/>
<circle cx="232.5" cy="248.7" r="1.65"/>
<circle cx="229.6" cy="256.0" r="1.65"/>
<circle cx="234.4" cy="253.6" r="1.65"/>
<circle cx="228.8" cy="246.7" r="1.65"/>
<circle cx="156.2" cy="201.1" r="1.65"/>
<circle cx="162.5" cy="200.4" r="1.65"/>
<circle cx="161.8" cy="210.6" r="1.65"/>
<circle cx="157.5" cy="208.2" r="1.65"/>
<circle cx="178.3" cy="198.7" r="1.65"/>
<circle cx="184.1" cy="192.1" r="1.65"/>
<circle cx="185.1" cy="197.5" r="1.65"/>
<circle cx="176.9" cy="187.8" r="1.65"/>
<circle cx="151.4" cy="259.4" r="1.65"/>
<circle cx="150.7" cy="263.9" r="1.65"/>
<circle cx="146.2" cy="186.5" r="1.65"/>
<circle cx="154.5" cy="182.8" r="1.65"/>
<circle cx="146.1" cy="182.1" r="1.65"/>
<circle cx="152.8" cy="176.4" r="1.65"/>
<circle cx="176.7" cy="178.5" r="1.65"/>
<circle cx="185.6" cy="177.3" r="1.65"/>
<circle cx="185.6" cy="184.1" r="1.65"/>
<circle cx="177.0" cy="182.3" r="1.65"/>
<circle cx="217.8" cy="216.9" r="1.65"/>
<circle cx="222.0" cy="215.5" r="1.65"/>
<circle cx="220.7" cy="221.6" r="1.65"/>
<circle cx="227.4" cy="214.1" r="1.65"/>
<circle cx="221.8" cy="211.3" r="1.65"/>
<circle cx="177.0" cy="228.6" r="1.65"/>
<circle cx="186.7" cy="232.0" r="1.65"/>
<circle cx="180.2" cy="233.6" r="1.65"/>
<circle cx="223.7" cy="229.5" r="1.65"/>
<circle cx="227.1" cy="231.4" r="1.65"/>
<circle cx="224.0" cy="225.6" r="1.65"/>
<circle cx="218.5" cy="230.0" r="1.65"/>
<circle cx="171.2" cy="184.0" r="1.65"/>
<circle cx="166.7" cy="187.2" r="1.65"/>
<circle cx="171.2" cy="179.2" r="1.65"/>
<circle cx="168.2" cy="177.0" r="1.65"/>
<circle cx="166.3" cy="180.9" r="1.65"/>
<circle cx="225.1" cy="237.8" r="1.65"/>
<circle cx="219.7" cy="239.7" r="1.65"/>
<circle cx="221.7" cy="234.8" r="1.65"/>
<circle cx="188.0" cy="206.8" r="1.65"/>
<circle cx="196.7" cy="201.0" r="1.65"/>
<circle cx="195.4" cy="208.3" r="1.65"/>
<circle cx="188.6" cy="202.9" r="1.65"/>
<circle cx="190.8" cy="199.6" r="1.65"/>
<circle cx="173.2" cy="190.7" r="1.65"/>
<circle cx="172.6" cy="198.6" r="1.65"/>
<circle cx="169.2" cy="192.6" r="1.65"/>
<circle cx="149.7" cy="249.6" r="1.65"/>
<circle cx="151.3" cy="253.6" r="1.65"/>
<circle cx="154.1" cy="256.3" r="1.65"/>
<circle cx="155.3" cy="249.5" r="1.65"/>
<circle cx="196.4" cy="237.6" r="1.65"/>
<circle cx="188.5" cy="238.1" r="1.65"/>
<circle cx="188.6" cy="241.9" r="1.65"/>
<circle cx="231.0" cy="241.0" r="1.65"/>
<circle cx="232.9" cy="237.8" r="1.65"/>
<circle cx="235.4" cy="246.1" r="1.65"/>
<circle cx="238.2" cy="239.4" r="1.65"/>
<circle cx="229.2" cy="235.9" r="1.65"/>
<circle cx="137.5" cy="188.3" r="1.65"/>
<circle cx="142.8" cy="194.1" r="1.65"/>
<circle cx="162.6" cy="238.0" r="1.65"/>
<circle cx="164.0" cy="245.1" r="1.65"/>
<circle cx="156.7" cy="243.2" r="1.65"/>
<circle cx="156.2" cy="234.9" r="1.65"/>
<circle cx="165.9" cy="240.8" r="1.65"/>
<circle cx="160.1" cy="241.1" r="1.65"/>
<circle cx="147.7" cy="239.0" r="1.65"/>
<circle cx="145.8" cy="243.9" r="1.65"/>
<circle cx="151.6" cy="238.1" r="1.65"/>
<circle cx="152.1" cy="243.2" r="1.65"/>
<circle cx="146.9" cy="234.9" r="1.65"/>
<circle cx="142.8" cy="240.7" r="1.65"/>
<circle cx="143.4" cy="267.6" r="1.65"/>
<circle cx="140.7" cy="259.8" r="1.65"/>
<circle cx="137.2" cy="264.6" r="1.65"/>
<circle cx="200.2" cy="216.8" r="1.65"/>
<circle cx="199.1" cy="220.9" r="1.65"/>
<circle cx="204.5" cy="266.5" r="1.65"/>
<circle cx="201.7" cy="259.2" r="1.65"/>
<circle cx="207.0" cy="258.3" r="1.65"/>
<circle cx="201.5" cy="263.1" r="1.65"/>
<circle cx="197.8" cy="262.2" r="1.65"/>
<circle cx="145.4" cy="217.4" r="1.65"/>
<circle cx="145.6" cy="213.5" r="1.65"/>
<circle cx="138.9" cy="213.3" r="1.65"/>
<circle cx="141.7" cy="221.5" r="1.65"/>
<circle cx="140.5" cy="217.1" r="1.65"/>
<circle cx="135.5" cy="218.5" r="1.65"/>
<circle cx="247.4" cy="197.3" r="1.65"/>
<circle cx="244.5" cy="192.7" r="1.65"/>
<circle cx="238.6" cy="192.2" r="1.65"/>
<circle cx="241.8" cy="197.2" r="1.65"/>
<circle cx="239.6" cy="188.2" r="1.65"/>
<circle cx="233.5" cy="205.7" r="1.65"/>
<circle cx="235.9" cy="200.8" r="1.65"/>
<circle cx="234.0" cy="209.7" r="1.65"/>
<circle cx="230.2" cy="202.5" r="1.65"/>
<circle cx="238.1" cy="205.5" r="1.65"/>
<circle cx="222.5" cy="255.7" r="1.65"/>
<circle cx="220.7" cy="249.4" r="1.65"/>
<circle cx="225.9" cy="252.3" r="1.65"/>
<circle cx="224.3" cy="246.4" r="1.65"/>
<circle cx="225.6" cy="257.9" r="1.65"/>
<circle cx="218.1" cy="246.6" r="1.65"/>
<circle cx="223.2" cy="192.1" r="1.65"/>
<circle cx="219.3" cy="192.3" r="1.65"/>
<circle cx="225.2" cy="197.8" r="1.65"/>
<circle cx="139.1" cy="255.2" r="1.65"/>
<circle cx="216.6" cy="204.0" r="1.65"/>
<circle cx="214.3" cy="209.5" r="1.65"/>
<circle cx="212.6" cy="200.7" r="1.65"/>
<circle cx="212.6" cy="205.9" r="1.65"/>
<circle cx="208.4" cy="199.5" r="1.65"/>
<circle cx="231.6" cy="216.4" r="1.65"/>
<circle cx="235.6" cy="222.7" r="1.65"/>
<circle cx="229.4" cy="222.1" r="1.65"/>
<circle cx="237.5" cy="212.9" r="1.65"/>
<circle cx="235.2" cy="218.8" r="1.65"/>
<circle cx="212.5" cy="231.3" r="1.65"/>
<circle cx="216.3" cy="223.7" r="1.65"/>
<circle cx="208.6" cy="233.1" r="1.65"/>
<circle cx="161.4" cy="185.1" r="1.65"/>
<circle cx="161.4" cy="179.7" r="1.65"/>
<circle cx="156.8" cy="178.2" r="1.65"/>
<circle cx="157.2" cy="186.6" r="1.65"/>
<circle cx="158.5" cy="182.3" r="1.65"/>
<circle cx="176.9" cy="245.0" r="1.65"/>
<circle cx="178.0" cy="239.3" r="1.65"/>
<circle cx="182.7" cy="243.0" r="1.65"/>
<circle cx="183.1" cy="238.6" r="1.65"/>
<circle cx="172.8" cy="246.4" r="1.65"/>
<circle cx="175.8" cy="257.2" r="1.65"/>
<circle cx="169.0" cy="250.0" r="1.65"/>
<circle cx="211.6" cy="177.0" r="1.65"/>
<circle cx="213.8" cy="185.6" r="1.65"/>
<circle cx="216.9" cy="177.5" r="1.65"/>
<circle cx="211.7" cy="181.3" r="1.65"/>
<circle cx="174.4" cy="202.7" r="1.65"/>
<circle cx="175.2" cy="207.1" r="1.65"/>
<circle cx="170.0" cy="211.0" r="1.65"/>
<circle cx="127.9" cy="259.8" r="1.65"/>
<circle cx="135.0" cy="260.6" r="1.65"/>
<circle cx="131.3" cy="262.4" r="1.65"/>
<circle cx="193.3" cy="246.6" r="1.65"/>
<circle cx="188.4" cy="256.4" r="1.65"/>
<circle cx="190.4" cy="250.6" r="1.65"/>
<circle cx="194.9" cy="253.9" r="1.65"/>
<circle cx="138.8" cy="178.4" r="1.65"/>
<circle cx="144.0" cy="178.8" r="1.65"/>
<circle cx="138.8" cy="182.3" r="1.65"/>
<circle cx="140.7" cy="186.3" r="1.65"/>
<circle cx="135.6" cy="184.6" r="1.65"/>
<circle cx="200.3" cy="234.5" r="1.65"/>
<circle cx="203.7" cy="245.7" r="1.65"/>
<circle cx="200.8" cy="241.9" r="1.65"/>
<circle cx="206.9" cy="242.5" r="1.65"/>
<circle cx="207.1" cy="238.7" r="1.65"/>
<circle cx="133.5" cy="199.0" r="1.65"/>
<circle cx="128.5" cy="198.4" r="1.65"/>
<circle cx="131.4" cy="191.9" r="1.65"/>
<circle cx="127.9" cy="193.4" r="1.65"/>
<circle cx="247.3" cy="250.2" r="1.65"/>
<circle cx="244.5" cy="254.8" r="1.65"/>
<circle cx="242.7" cy="248.3" r="1.65"/>
<circle cx="127.0" cy="218.0" r="1.65"/>
<circle cx="125.4" cy="212.0" r="1.65"/>
<circle cx="132.1" cy="215.7" r="1.65"/>
<circle cx="128.7" cy="213.9" r="1.65"/>
<circle cx="133.4" cy="211.6" r="1.65"/>
<circle cx="136.6" cy="232.8" r="1.65"/>
<circle cx="142.4" cy="227.0" r="1.65"/>
<circle cx="137.3" cy="228.9" r="1.65"/>
<circle cx="141.5" cy="233.1" r="1.65"/>
<circle cx="224.0" cy="184.5" r="1.65"/>
<circle cx="219.4" cy="185.1" r="1.65"/>
<circle cx="227.1" cy="179.1" r="1.65"/>
<circle cx="145.2" cy="202.4" r="1.65"/>
<circle cx="136.4" cy="207.6" r="1.65"/>
<circle cx="145.0" cy="206.7" r="1.65"/>
<circle cx="141.4" cy="202.5" r="1.65"/>
<circle cx="149.5" cy="221.1" r="1.65"/>
<circle cx="152.0" cy="218.2" r="1.65"/>
<circle cx="153.6" cy="222.5" r="1.65"/>
<circle cx="154.3" cy="211.7" r="1.65"/>
<circle cx="129.3" cy="183.0" r="1.65"/>
<circle cx="132.2" cy="178.9" r="1.65"/>
<circle cx="131.8" cy="187.0" r="1.65"/>
<circle cx="239.0" cy="179.7" r="1.65"/>
<circle cx="246.0" cy="178.7" r="1.65"/>
<circle cx="206.7" cy="184.9" r="1.65"/>
<circle cx="200.4" cy="182.8" r="1.65"/>
<circle cx="175.0" cy="216.4" r="1.65"/>
<circle cx="175.7" cy="220.5" r="1.65"/>
<circle cx="186.6" cy="222.0" r="1.65"/>
<circle cx="183.7" cy="217.5" r="1.65"/>
<circle cx="179.6" cy="212.0" r="1.65"/>
<circle cx="180.3" cy="221.6" r="1.65"/>
<circle cx="191.2" cy="229.8" r="1.65"/>
<circle cx="195.0" cy="223.2" r="1.65"/>
<circle cx="190.6" cy="224.3" r="1.65"/>
<circle cx="210.7" cy="190.2" r="1.65"/>
<circle cx="213.1" cy="193.3" r="1.65"/>
<circle cx="216.3" cy="198.6" r="1.65"/>
<circle cx="208.6" cy="195.4" r="1.65"/>
<circle cx="216.5" cy="189.3" r="1.65"/>
<circle cx="129.2" cy="228.5" r="1.65"/>
<circle cx="244.2" cy="201.0" r="1.65"/>
<circle cx="248.0" cy="204.5" r="1.65"/>
<circle cx="243.7" cy="209.6" r="1.65"/>
<circle cx="241.9" cy="205.8" r="1.65"/>
<circle cx="240.3" cy="201.4" r="1.65"/>
<circle cx="244.4" cy="230.1" r="1.65"/>
<circle cx="248.5" cy="224.3" r="1.65"/>
<circle cx="248.2" cy="232.4" r="1.65"/>
<circle cx="159.4" cy="230.6" r="1.65"/>
<circle cx="163.4" cy="226.4" r="1.65"/>
<circle cx="157.0" cy="225.2" r="1.65"/>
<circle cx="163.6" cy="234.4" r="1.65"/>
<circle cx="160.7" cy="223.2" r="1.65"/>
<circle cx="160.5" cy="250.5" r="1.65"/>
<circle cx="157.7" cy="253.6" r="1.65"/>
<circle cx="172.3" cy="226.5" r="1.65"/>
<circle cx="166.5" cy="230.4" r="1.65"/>
<circle cx="244.1" cy="215.7" r="1.65"/>
<circle cx="242.2" cy="220.0" r="1.65"/>
<circle cx="239.4" cy="222.6" r="1.65"/>
<circle cx="184.4" cy="266.1" r="1.65"/>
<circle cx="181.7" cy="260.1" r="1.65"/>
<circle cx="177.3" cy="267.2" r="1.65"/>
<circle cx="133.0" cy="203.4" r="1.65"/>
<circle cx="125.6" cy="201.6" r="1.65"/>
<circle cx="131.6" cy="207.4" r="1.65"/>
<circle cx="126.3" cy="206.6" r="1.65"/>
<circle cx="129.2" cy="202.7" r="1.65"/>
<circle cx="128.6" cy="209.6" r="1.65"/>
<circle cx="246.0" cy="262.1" r="1.65"/>
<circle cx="248.0" cy="268.6" r="1.65"/>
<circle cx="243.9" cy="268.8" r="1.65"/>
<circle cx="240.4" cy="262.4" r="1.65"/>
<circle cx="215.5" cy="265.4" r="1.65"/>
<circle cx="216.9" cy="269.2" r="1.65"/>
<circle cx="214.3" cy="260.2" r="1.65"/>
<circle cx="210.6" cy="261.1" r="1.65"/>
<circle cx="198.3" cy="249.8" r="1.65"/>
<circle cx="204.0" cy="252.1" r="1.65"/>
<circle cx="199.8" cy="254.5" r="1.65"/>
<circle cx="197.3" cy="257.7" r="1.65"/>
<circle cx="163.0" cy="217.3" r="1.65"/>
<circle cx="157.6" cy="220.9" r="1.65"/>
<circle cx="178.8" cy="205.3" r="1.65"/>
<circle cx="182.2" cy="201.2" r="1.65"/>
<circle cx="184.2" cy="209.9" r="1.65"/>
<circle cx="185.1" cy="204.4" r="1.65"/>
<circle cx="192.5" cy="216.1" r="1.65"/>
<circle cx="189.1" cy="219.1" r="1.65"/>
<circle cx="196.8" cy="214.2" r="1.65"/>
<circle cx="149.1" cy="206.7" r="1.65"/>
<circle cx="150.9" cy="201.2" r="1.65"/>
<circle cx="152.6" cy="208.2" r="1.65"/>
<circle cx="155.5" cy="205.0" r="1.65"/>
<circle cx="194.6" cy="178.5" r="1.65"/>
<circle cx="190.4" cy="182.9" r="1.65"/>
<circle cx="194.9" cy="186.8" r="1.65"/>
<circle cx="226.2" cy="204.0" r="1.65"/>
<circle cx="222.4" cy="206.8" r="1.65"/>
<circle cx="227.3" cy="209.6" r="1.65"/>
<circle cx="222.3" cy="202.6" r="1.65"/>
<circle cx="218.7" cy="208.7" r="1.65"/>
<circle cx="225.3" cy="266.1" r="1.65"/>
<circle cx="220.1" cy="262.8" r="1.65"/>
<circle cx="224.5" cy="261.8" r="1.65"/>
<circle cx="221.3" cy="267.6" r="1.65"/>
<circle cx="231.2" cy="184.1" r="1.65"/>
<circle cx="230.9" cy="179.1" r="1.65"/>
<circle cx="236.1" cy="177.2" r="1.65"/>
<circle cx="235.0" cy="184.6" r="1.65"/>
<circle cx="166.2" cy="198.4" r="1.65"/>
<circle cx="157.1" cy="190.3" r="1.65"/>
<circle cx="213.8" cy="240.7" r="1.65"/>
<circle cx="212.4" cy="235.2" r="1.65"/>
<circle cx="211.9" cy="245.1" r="1.65"/>
<circle cx="217.6" cy="234.6" r="1.65"/>
<circle cx="216.9" cy="242.9" r="1.65"/>
<circle cx="151.9" cy="189.6" r="1.65"/>
<circle cx="153.0" cy="193.3" r="1.65"/>
<circle cx="146.3" cy="190.4" r="1.65"/>
<circle cx="148.2" cy="198.7" r="1.65"/>
<circle cx="147.8" cy="194.0" r="1.65"/>
<circle cx="170.2" cy="234.7" r="1.65"/>
<circle cx="175.2" cy="235.7" r="1.65"/>
<circle cx="170.3" cy="241.7" r="1.65"/>
<circle cx="174.5" cy="241.7" r="1.65"/>
<circle cx="197.1" cy="226.9" r="1.65"/>
<circle cx="203.3" cy="223.3" r="1.65"/>
<circle cx="209.3" cy="218.5" r="1.65"/>
<circle cx="213.5" cy="215.5" r="1.65"/>
<circle cx="208.1" cy="214.8" r="1.65"/>
<circle cx="213.8" cy="219.7" r="1.65"/>
<circle cx="217.6" cy="212.8" r="1.65"/>
<circle cx="155.6" cy="229.5" r="1.65"/>
<circle cx="147.1" cy="226.1" r="1.65"/>
<circle cx="146.5" cy="230.3" r="1.65"/>
<circle cx="151.3" cy="230.4" r="1.65"/>
<circle cx="151.4" cy="234.2" r="1.65"/>
<circle cx="152.5" cy="226.8" r="1.65"/>
<circle cx="194.9" cy="267.7" r="1.65"/>
<circle cx="190.0" cy="261.1" r="1.65"/>
<circle cx="188.2" cy="268.3" r="1.65"/>
<circle cx="192.9" cy="264.4" r="1.65"/>
<circle cx="234.2" cy="194.2" r="1.65"/>
<circle cx="231.6" cy="189.9" r="1.65"/>
<circle cx="229.1" cy="197.9" r="1.65"/>
<circle cx="237.5" cy="196.5" r="1.65"/>
<circle cx="228.2" cy="192.2" r="1.65"/>
<circle cx="228.3" cy="187.7" r="1.65"/>
<circle cx="234.0" cy="268.0" r="1.65"/>
<circle cx="236.1" cy="263.4" r="1.65"/>
<circle cx="230.4" cy="269.3" r="1.65"/>
<circle cx="237.0" cy="229.9" r="1.65"/>
<circle cx="231.2" cy="226.2" r="1.65"/>
<circle cx="189.3" cy="188.5" r="1.65"/>
<circle cx="192.4" cy="191.5" r="1.65"/>
<circle cx="196.0" cy="197.1" r="1.65"/>
<circle cx="187.8" cy="193.8" r="1.65"/>
</g>
<circle cx="222.9" cy="264.0" r="0.62" fill="#4a3f8a" opacity="0.8"/>
<circle cx="157.2" cy="246.2" r="0.56" fill="#4a3f8a" opacity="0.8"/>
<circle cx="223.4" cy="208.0" r="0.62" fill="#4a3f8a" opacity="0.8"/>
<circle cx="222.2" cy="178.6" r="0.55" fill="#4a3f8a" opacity="0.8"/>
<circle cx="174.5" cy="203.9" r="0.73" fill="#4a3f8a" opacity="0.8"/>
<circle cx="134.6" cy="218.0" r="0.54" fill="#4a3f8a" opacity="0.8"/>
<circle cx="142.4" cy="187.6" r="0.72" fill="#4a3f8a" opacity="0.8"/>
<circle cx="171.1" cy="261.4" r="0.56" fill="#4a3f8a" opacity="0.8"/>
<circle cx="166.9" cy="193.6" r="0.47" fill="#4a3f8a" opacity="0.8"/>
<circle cx="127.1" cy="247.3" r="0.72" fill="#4a3f8a" opacity="0.8"/>
<circle cx="240.5" cy="243.1" r="0.71" fill="#4a3f8a" opacity="0.8"/>
<circle cx="199.0" cy="220.7" r="0.73" fill="#4a3f8a" opacity="0.8"/>
<circle cx="193.2" cy="193.1" r="0.62" fill="#4a3f8a" opacity="0.8"/>
<circle cx="232.2" cy="246.1" r="0.61" fill="#4a3f8a" opacity="0.8"/>
<circle cx="215.5" cy="202.3" r="0.65" fill="#4a3f8a" opacity="0.8"/>
<circle cx="200.1" cy="182.5" r="0.73" fill="#4a3f8a" opacity="0.8"/>
<circle cx="228.5" cy="248.8" r="0.53" fill="#4a3f8a" opacity="0.8"/>
<circle cx="220.6" cy="209.7" r="0.47" fill="#4a3f8a" opacity="0.8"/>
<circle cx="235.6" cy="241.9" r="0.53" fill="#4a3f8a" opacity="0.8"/>
<circle cx="182.5" cy="193.7" r="0.72" fill="#4a3f8a" opacity="0.8"/>
<circle cx="166.2" cy="254.4" r="0.58" fill="#4a3f8a" opacity="0.8"/>
<circle cx="196.4" cy="201.6" r="0.46" fill="#4a3f8a" opacity="0.8"/>
<circle cx="129.8" cy="192.9" r="0.57" fill="#4a3f8a" opacity="0.8"/>
<circle cx="135.0" cy="220.6" r="0.52" fill="#4a3f8a" opacity="0.8"/>
<circle cx="158.9" cy="212.4" r="0.54" fill="#4a3f8a" opacity="0.8"/>
<circle cx="182.1" cy="230.0" r="0.62" fill="#4a3f8a" opacity="0.8"/>
<circle cx="126.7" cy="190.2" r="0.47" fill="#4a3f8a" opacity="0.8"/>
<circle cx="187.5" cy="220.8" r="0.55" fill="#4a3f8a" opacity="0.8"/>
<circle cx="176.6" cy="190.4" r="0.56" fill="#4a3f8a" opacity="0.8"/>
<circle cx="196.1" cy="253.8" r="0.59" fill="#4a3f8a" opacity="0.8"/>

<ellipse cx="162.4" cy="231.2" rx="5.2" ry="2.4" fill="#8a5aa0" opacity="0.6" transform="rotate(8 162.4 231.2)"/>
<ellipse cx="163.5" cy="231.6" rx="2.5" ry="1.4" fill="#7a3a8a" opacity="0.6"/>
<ellipse cx="193.0" cy="252.0" rx="2.8" ry="2.2" fill="#7e60a8" opacity="0.7"/>
<circle cx="181.5" cy="195.5" r="0.7" fill="#5a3a80"/>
<circle cx="170.5" cy="196.0" r="0.7" fill="#5a3a80"/>
<circle cx="230.5" cy="239.5" r="0.8" fill="#5a3a80"/>
<circle cx="240.5" cy="249.0" r="0.8" fill="#5a3a80"/>

</g>
<defs><clipPath id="clip1"><rect x="252.1" y="175.9" width="123.70" height="93.70"/></clipPath></defs>
<rect x="252.1" y="175.9" width="123.70" height="93.70" fill="#faf8f4"/>
<g clip-path="url(#clip1)">
<g fill="#c99e92" opacity="0.7">
<circle cx="346.3" cy="224.8" r="2.45"/>
<circle cx="353.0" cy="231.4" r="2.45"/>
<circle cx="354.0" cy="224.4" r="2.45"/>
<circle cx="347.7" cy="232.4" r="2.45"/>
<circle cx="348.7" cy="228.0" r="2.45"/>
<circle cx="331.2" cy="265.9" r="2.45"/>
<circle cx="329.9" cy="259.4" r="2.45"/>
<circle cx="326.7" cy="263.0" r="2.45"/>
<circle cx="324.7" cy="258.5" r="2.45"/>
<circle cx="329.1" cy="269.4" r="2.45"/>
<circle cx="333.8" cy="258.6" r="2.45"/>
<circle cx="277.4" cy="214.2" r="2.45"/>
<circle cx="280.4" cy="221.1" r="2.45"/>
<circle cx="273.4" cy="219.1" r="2.45"/>
<circle cx="276.1" cy="221.9" r="2.45"/>
<circle cx="273.9" cy="211.5" r="2.45"/>
<circle cx="283.0" cy="218.1" r="2.45"/>
<circle cx="287.2" cy="177.5" r="2.45"/>
<circle cx="283.6" cy="179.3" r="2.45"/>
<circle cx="288.5" cy="187.5" r="2.45"/>
<circle cx="290.5" cy="180.4" r="2.45"/>
<circle cx="292.1" cy="184.8" r="2.45"/>
<circle cx="367.5" cy="267.0" r="2.45"/>
<circle cx="372.3" cy="265.4" r="2.45"/>
<circle cx="338.4" cy="267.2" r="2.45"/>
<circle cx="344.2" cy="265.1" r="2.45"/>
<circle cx="335.0" cy="269.0" r="2.45"/>
<circle cx="314.5" cy="246.2" r="2.45"/>
<circle cx="315.2" cy="257.7" r="2.45"/>
<circle cx="322.1" cy="254.7" r="2.45"/>
<circle cx="365.2" cy="184.4" r="2.45"/>
<circle cx="362.2" cy="179.2" r="2.45"/>
<circle cx="359.3" cy="184.8" r="2.45"/>
<circle cx="355.3" cy="184.1" r="2.45"/>
<circle cx="355.8" cy="177.1" r="2.45"/>
<circle cx="263.4" cy="252.5" r="2.45"/>
<circle cx="271.5" cy="251.5" r="2.45"/>
<circle cx="270.8" cy="255.9" r="2.45"/>
<circle cx="264.1" cy="247.1" r="2.45"/>
<circle cx="271.8" cy="246.8" r="2.45"/>
<circle cx="350.9" cy="199.5" r="2.45"/>
<circle cx="347.5" cy="207.7" r="2.45"/>
<circle cx="353.9" cy="210.8" r="2.45"/>
<circle cx="373.0" cy="212.1" r="2.45"/>
<circle cx="366.9" cy="217.6" r="2.45"/>
<circle cx="368.6" cy="212.7" r="2.45"/>
<circle cx="372.9" cy="221.7" r="2.45"/>
<circle cx="367.1" cy="221.8" r="2.45"/>
<circle cx="371.6" cy="215.8" r="2.45"/>
<circle cx="375.0" cy="218.2" r="2.45"/>
<circle cx="269.5" cy="213.4" r="2.45"/>
<circle cx="264.2" cy="211.7" r="2.45"/>
<circle cx="266.2" cy="219.4" r="2.45"/>
<circle cx="262.7" cy="215.4" r="2.45"/>
<circle cx="285.4" cy="238.3" r="2.45"/>
<circle cx="284.8" cy="245.9" r="2.45"/>
<circle cx="292.1" cy="235.4" r="2.45"/>
<circle cx="290.3" cy="240.7" r="2.45"/>
<circle cx="291.4" cy="245.7" r="2.45"/>
<circle cx="287.4" cy="243.1" r="2.45"/>
<circle cx="287.8" cy="235.1" r="2.45"/>
<circle cx="257.9" cy="230.8" r="2.45"/>
<circle cx="253.7" cy="226.1" r="2.45"/>
<circle cx="252.2" cy="232.0" r="2.45"/>
<circle cx="262.1" cy="225.7" r="2.45"/>
<circle cx="260.6" cy="234.2" r="2.45"/>
<circle cx="360.1" cy="230.8" r="2.45"/>
<circle cx="364.2" cy="230.0" r="2.45"/>
<circle cx="361.5" cy="224.1" r="2.45"/>
<circle cx="356.8" cy="234.1" r="2.45"/>
<circle cx="334.5" cy="209.1" r="2.45"/>
<circle cx="332.3" cy="204.2" r="2.45"/>
<circle cx="326.7" cy="200.1" r="2.45"/>
<circle cx="326.5" cy="205.1" r="2.45"/>
<circle cx="327.7" cy="210.6" r="2.45"/>
<circle cx="334.4" cy="199.6" r="2.45"/>
<circle cx="268.7" cy="238.4" r="2.45"/>
<circle cx="272.3" cy="241.2" r="2.45"/>
<circle cx="263.7" cy="238.7" r="2.45"/>
<circle cx="267.8" cy="245.8" r="2.45"/>
<circle cx="264.2" cy="242.6" r="2.45"/>
<circle cx="270.0" cy="234.8" r="2.45"/>
<circle cx="270.1" cy="266.9" r="2.45"/>
<circle cx="263.1" cy="258.8" r="2.45"/>
<circle cx="270.7" cy="262.8" r="2.45"/>
<circle cx="264.9" cy="267.8" r="2.45"/>
<circle cx="272.7" cy="259.1" r="2.45"/>
<circle cx="290.1" cy="194.8" r="2.45"/>
<circle cx="287.0" cy="191.8" r="2.45"/>
<circle cx="315.4" cy="188.7" r="2.45"/>
<circle cx="321.7" cy="187.8" r="2.45"/>
<circle cx="317.9" cy="194.2" r="2.45"/>
<circle cx="322.4" cy="193.1" r="2.45"/>
<circle cx="298.0" cy="256.9" r="2.45"/>
<circle cx="296.3" cy="253.5" r="2.45"/>
<circle cx="301.1" cy="246.9" r="2.45"/>
<circle cx="299.4" cy="250.3" r="2.45"/>
<circle cx="301.4" cy="253.5" r="2.45"/>
<circle cx="286.3" cy="256.4" r="2.45"/>
<circle cx="290.2" cy="251.6" r="2.45"/>
<circle cx="293.3" cy="257.2" r="2.45"/>
<circle cx="286.8" cy="249.1" r="2.45"/>
<circle cx="290.0" cy="255.5" r="2.45"/>
<circle cx="283.8" cy="253.6" r="2.45"/>
<circle cx="283.0" cy="249.8" r="2.45"/>
<circle cx="323.1" cy="240.4" r="2.45"/>
<circle cx="320.4" cy="236.5" r="2.45"/>
<circle cx="316.6" cy="242.4" r="2.45"/>
<circle cx="315.4" cy="234.6" r="2.45"/>
<circle cx="254.6" cy="196.8" r="2.45"/>
<circle cx="259.6" cy="189.4" r="2.45"/>
<circle cx="253.9" cy="190.8" r="2.45"/>
<circle cx="261.2" cy="197.8" r="2.45"/>
<circle cx="252.2" cy="252.5" r="2.45"/>
<circle cx="254.5" cy="249.5" r="2.45"/>
<circle cx="256.0" cy="253.6" r="2.45"/>
<circle cx="257.7" cy="257.8" r="2.45"/>
<circle cx="252.5" cy="256.7" r="2.45"/>
<circle cx="270.0" cy="224.3" r="2.45"/>
<circle cx="263.3" cy="229.5" r="2.45"/>
<circle cx="272.0" cy="228.4" r="2.45"/>
<circle cx="265.0" cy="233.6" r="2.45"/>
<circle cx="280.3" cy="186.3" r="2.45"/>
<circle cx="274.3" cy="184.6" r="2.45"/>
<circle cx="277.0" cy="178.5" r="2.45"/>
<circle cx="273.0" cy="180.2" r="2.45"/>
<circle cx="273.0" cy="175.9" r="2.45"/>
<circle cx="302.2" cy="262.1" r="2.45"/>
<circle cx="297.2" cy="264.1" r="2.45"/>
<circle cx="294.4" cy="267.6" r="2.45"/>
<circle cx="300.4" cy="267.8" r="2.45"/>
<circle cx="294.4" cy="260.9" r="2.45"/>
<circle cx="302.8" cy="258.1" r="2.45"/>
<circle cx="313.5" cy="181.9" r="2.45"/>
<circle cx="305.1" cy="185.5" r="2.45"/>
<circle cx="307.6" cy="179.5" r="2.45"/>
<circle cx="309.9" cy="187.3" r="2.45"/>
<circle cx="293.8" cy="216.2" r="2.45"/>
<circle cx="301.9" cy="219.1" r="2.45"/>
<circle cx="299.1" cy="222.0" r="2.45"/>
<circle cx="308.4" cy="265.2" r="2.45"/>
<circle cx="304.5" cy="268.6" r="2.45"/>
<circle cx="307.7" cy="258.7" r="2.45"/>
<circle cx="312.5" cy="262.1" r="2.45"/>
<circle cx="312.2" cy="269.5" r="2.45"/>
<circle cx="313.6" cy="265.8" r="2.45"/>
<circle cx="327.8" cy="255.1" r="2.45"/>
<circle cx="329.5" cy="250.5" r="2.45"/>
<circle cx="324.6" cy="248.4" r="2.45"/>
<circle cx="331.9" cy="247.6" r="2.45"/>
<circle cx="333.3" cy="253.0" r="2.45"/>
<circle cx="302.0" cy="197.2" r="2.45"/>
<circle cx="293.8" cy="196.0" r="2.45"/>
<circle cx="297.2" cy="192.9" r="2.45"/>
<circle cx="298.5" cy="198.9" r="2.45"/>
<circle cx="334.7" cy="215.6" r="2.45"/>
<circle cx="339.6" cy="221.8" r="2.45"/>
<circle cx="340.4" cy="213.4" r="2.45"/>
<circle cx="337.8" cy="218.3" r="2.45"/>
<circle cx="367.8" cy="203.9" r="2.45"/>
<circle cx="366.3" cy="207.6" r="2.45"/>
<circle cx="371.4" cy="206.4" r="2.45"/>
<circle cx="374.4" cy="202.5" r="2.45"/>
<circle cx="371.1" cy="199.3" r="2.45"/>
<circle cx="375.4" cy="206.6" r="2.45"/>
<circle cx="366.8" cy="193.8" r="2.45"/>
<circle cx="366.4" cy="189.7" r="2.45"/>
<circle cx="372.7" cy="195.1" r="2.45"/>
<circle cx="370.5" cy="191.9" r="2.45"/>
<circle cx="374.2" cy="191.6" r="2.45"/>
<circle cx="263.3" cy="183.2" r="2.45"/>
<circle cx="268.2" cy="176.3" r="2.45"/>
<circle cx="267.1" cy="183.7" r="2.45"/>
<circle cx="364.6" cy="197.5" r="2.45"/>
<circle cx="356.3" cy="195.8" r="2.45"/>
<circle cx="360.2" cy="194.9" r="2.45"/>
<circle cx="363.3" cy="191.7" r="2.45"/>
<circle cx="320.2" cy="268.2" r="2.45"/>
<circle cx="317.3" cy="261.2" r="2.45"/>
<circle cx="322.0" cy="262.1" r="2.45"/>
<circle cx="324.3" cy="266.6" r="2.45"/>
<circle cx="359.2" cy="203.5" r="2.45"/>
<circle cx="363.4" cy="204.5" r="2.45"/>
<circle cx="365.1" cy="235.4" r="2.45"/>
<circle cx="360.7" cy="236.9" r="2.45"/>
<circle cx="355.3" cy="239.1" r="2.45"/>
<circle cx="360.8" cy="241.0" r="2.45"/>
<circle cx="356.0" cy="243.7" r="2.45"/>
<circle cx="364.3" cy="245.9" r="2.45"/>
<circle cx="366.0" cy="255.1" r="2.45"/>
<circle cx="370.6" cy="256.7" r="2.45"/>
<circle cx="375.5" cy="257.9" r="2.45"/>
<circle cx="371.2" cy="248.7" r="2.45"/>
<circle cx="374.9" cy="247.1" r="2.45"/>
<circle cx="254.4" cy="176.8" r="2.45"/>
<circle cx="258.9" cy="177.6" r="2.45"/>
<circle cx="254.3" cy="181.7" r="2.45"/>
<circle cx="258.0" cy="185.9" r="2.45"/>
<circle cx="308.9" cy="243.5" r="2.45"/>
<circle cx="304.8" cy="238.5" r="2.45"/>
<circle cx="304.3" cy="234.6" r="2.45"/>
<circle cx="311.8" cy="237.7" r="2.45"/>
<circle cx="305.0" cy="243.4" r="2.45"/>
<circle cx="309.0" cy="234.6" r="2.45"/>
<circle cx="311.4" cy="226.7" r="2.45"/>
<circle cx="306.6" cy="228.3" r="2.45"/>
<circle cx="312.9" cy="223.1" r="2.45"/>
<circle cx="304.0" cy="222.8" r="2.45"/>
<circle cx="308.9" cy="222.9" r="2.45"/>
<circle cx="312.6" cy="230.7" r="2.45"/>
<circle cx="326.8" cy="242.5" r="2.45"/>
<circle cx="334.5" cy="239.9" r="2.45"/>
<circle cx="326.3" cy="237.8" r="2.45"/>
<circle cx="330.1" cy="234.6" r="2.45"/>
<circle cx="333.8" cy="235.8" r="2.45"/>
<circle cx="332.4" cy="243.4" r="2.45"/>
<circle cx="300.2" cy="178.1" r="2.45"/>
<circle cx="299.7" cy="186.8" r="2.45"/>
<circle cx="298.6" cy="182.9" r="2.45"/>
<circle cx="294.9" cy="179.4" r="2.45"/>
<circle cx="360.0" cy="257.1" r="2.45"/>
<circle cx="356.0" cy="257.4" r="2.45"/>
<circle cx="358.9" cy="252.6" r="2.45"/>
<circle cx="360.4" cy="247.8" r="2.45"/>
<circle cx="363.6" cy="251.5" r="2.45"/>
<circle cx="277.8" cy="190.0" r="2.45"/>
<circle cx="374.0" cy="242.3" r="2.45"/>
<circle cx="374.4" cy="238.0" r="2.45"/>
<circle cx="370.1" cy="243.2" r="2.45"/>
<circle cx="367.6" cy="240.2" r="2.45"/>
<circle cx="369.4" cy="236.3" r="2.45"/>
<circle cx="278.0" cy="229.9" r="2.45"/>
<circle cx="274.8" cy="233.6" r="2.45"/>
<circle cx="280.8" cy="225.9" r="2.45"/>
<circle cx="281.0" cy="233.3" r="2.45"/>
<circle cx="273.9" cy="225.1" r="2.45"/>
<circle cx="282.9" cy="229.5" r="2.45"/>
<circle cx="269.8" cy="209.4" r="2.45"/>
<circle cx="271.8" cy="204.5" r="2.45"/>
<circle cx="263.8" cy="201.1" r="2.45"/>
<circle cx="304.3" cy="192.1" r="2.45"/>
<circle cx="313.8" cy="194.9" r="2.45"/>
<circle cx="308.8" cy="198.8" r="2.45"/>
<circle cx="308.8" cy="194.1" r="2.45"/>
<circle cx="351.8" cy="256.4" r="2.45"/>
<circle cx="345.4" cy="253.3" r="2.45"/>
<circle cx="350.8" cy="251.6" r="2.45"/>
<circle cx="354.4" cy="253.4" r="2.45"/>
<circle cx="346.0" cy="248.0" r="2.45"/>
<circle cx="347.5" cy="187.7" r="2.45"/>
<circle cx="352.7" cy="190.0" r="2.45"/>
<circle cx="332.2" cy="220.8" r="2.45"/>
<circle cx="328.4" cy="216.5" r="2.45"/>
<circle cx="324.7" cy="219.8" r="2.45"/>
<circle cx="324.5" cy="215.2" r="2.45"/>
<circle cx="328.8" cy="222.3" r="2.45"/>
<circle cx="331.8" cy="212.1" r="2.45"/>
<circle cx="284.2" cy="211.1" r="2.45"/>
<circle cx="292.6" cy="221.2" r="2.45"/>
<circle cx="287.4" cy="222.2" r="2.45"/>
<circle cx="291.8" cy="211.6" r="2.45"/>
<circle cx="286.9" cy="214.5" r="2.45"/>
<circle cx="294.7" cy="225.6" r="2.45"/>
<circle cx="300.5" cy="225.9" r="2.45"/>
<circle cx="297.5" cy="230.6" r="2.45"/>
<circle cx="299.6" cy="234.0" r="2.45"/>
<circle cx="301.7" cy="229.5" r="2.45"/>
<circle cx="354.4" cy="265.0" r="2.45"/>
<circle cx="351.9" cy="269.1" r="2.45"/>
<circle cx="346.6" cy="258.1" r="2.45"/>
<circle cx="329.9" cy="178.7" r="2.45"/>
<circle cx="330.7" cy="184.6" r="2.45"/>
<circle cx="326.0" cy="179.9" r="2.45"/>
<circle cx="326.6" cy="185.2" r="2.45"/>
<circle cx="334.0" cy="176.1" r="2.45"/>
<circle cx="270.4" cy="196.7" r="2.45"/>
<circle cx="265.6" cy="189.7" r="2.45"/>
<circle cx="262.6" cy="193.2" r="2.45"/>
<circle cx="328.1" cy="189.4" r="2.45"/>
<circle cx="334.0" cy="195.9" r="2.45"/>
<circle cx="330.0" cy="193.0" r="2.45"/>
<circle cx="333.3" cy="189.0" r="2.45"/>
<circle cx="328.6" cy="196.5" r="2.45"/>
<circle cx="324.3" cy="196.7" r="2.45"/>
<circle cx="311.6" cy="203.8" r="2.45"/>
<circle cx="308.1" cy="208.2" r="2.45"/>
<circle cx="304.1" cy="210.7" r="2.45"/>
<circle cx="312.1" cy="208.4" r="2.45"/>
<circle cx="304.2" cy="200.6" r="2.45"/>
<circle cx="325.7" cy="227.0" r="2.45"/>
<circle cx="333.6" cy="225.3" r="2.45"/>
<circle cx="331.0" cy="229.9" r="2.45"/>
<circle cx="324.9" cy="231.9" r="2.45"/>
<circle cx="329.5" cy="226.4" r="2.45"/>
<circle cx="338.3" cy="183.7" r="2.45"/>
<circle cx="339.4" cy="177.6" r="2.45"/>
<circle cx="279.1" cy="200.4" r="2.45"/>
<circle cx="279.8" cy="210.2" r="2.45"/>
<circle cx="283.0" cy="206.6" r="2.45"/>
<circle cx="279.2" cy="204.7" r="2.45"/>
<circle cx="275.1" cy="201.6" r="2.45"/>
<circle cx="321.9" cy="223.0" r="2.45"/>
<circle cx="316.7" cy="229.9" r="2.45"/>
<circle cx="317.3" cy="222.9" r="2.45"/>
<circle cx="293.3" cy="229.5" r="2.45"/>
<circle cx="290.2" cy="226.7" r="2.45"/>
<circle cx="289.0" cy="231.3" r="2.45"/>
<circle cx="286.3" cy="227.5" r="2.45"/>
<circle cx="320.3" cy="210.0" r="2.45"/>
<circle cx="318.7" cy="200.2" r="2.45"/>
<circle cx="322.6" cy="200.6" r="2.45"/>
<circle cx="315.4" cy="204.0" r="2.45"/>
<circle cx="309.5" cy="213.9" r="2.45"/>
<circle cx="313.8" cy="216.9" r="2.45"/>
<circle cx="305.2" cy="216.2" r="2.45"/>
<circle cx="308.7" cy="218.7" r="2.45"/>
<circle cx="313.3" cy="212.7" r="2.45"/>
<circle cx="260.2" cy="242.6" r="2.45"/>
<circle cx="255.3" cy="241.1" r="2.45"/>
<circle cx="252.3" cy="238.1" r="2.45"/>
<circle cx="255.6" cy="235.8" r="2.45"/>
<circle cx="256.2" cy="245.4" r="2.45"/>
<circle cx="259.8" cy="238.7" r="2.45"/>
<circle cx="282.6" cy="259.6" r="2.45"/>
<circle cx="274.5" cy="263.4" r="2.45"/>
<circle cx="282.7" cy="269.2" r="2.45"/>
<circle cx="357.5" cy="212.6" r="2.45"/>
<circle cx="359.8" cy="217.0" r="2.45"/>
<circle cx="361.9" cy="213.3" r="2.45"/>
<circle cx="357.0" cy="220.8" r="2.45"/>
<circle cx="355.4" cy="216.1" r="2.45"/>
<circle cx="363.0" cy="219.9" r="2.45"/>
<circle cx="341.2" cy="240.9" r="2.45"/>
<circle cx="342.1" cy="237.0" r="2.45"/>
<circle cx="340.9" cy="245.3" r="2.45"/>
<circle cx="344.8" cy="243.3" r="2.45"/>
<circle cx="336.6" cy="245.0" r="2.45"/>
<circle cx="339.0" cy="254.3" r="2.45"/>
<circle cx="342.9" cy="256.0" r="2.45"/>
<circle cx="338.2" cy="249.7" r="2.45"/>
<circle cx="342.6" cy="249.8" r="2.45"/>
<circle cx="374.4" cy="181.0" r="2.45"/>
<circle cx="373.1" cy="187.0" r="2.45"/>
<circle cx="369.6" cy="178.8" r="2.45"/>
<circle cx="365.7" cy="176.3" r="2.45"/>
<circle cx="364.0" cy="258.6" r="2.45"/>
<circle cx="359.2" cy="268.9" r="2.45"/>
<circle cx="342.3" cy="206.3" r="2.45"/>
<circle cx="345.8" cy="183.6" r="2.45"/>
<circle cx="345.8" cy="178.7" r="2.45"/>
<circle cx="350.3" cy="179.4" r="2.45"/>
<circle cx="350.3" cy="183.9" r="2.45"/>
<circle cx="340.7" cy="227.7" r="2.45"/>
<circle cx="337.6" cy="233.5" r="2.45"/>
<circle cx="335.5" cy="229.8" r="2.45"/>
<circle cx="320.3" cy="218.6" r="2.45"/>
<circle cx="318.0" cy="215.1" r="2.45"/>
<circle cx="324.0" cy="211.4" r="2.45"/>
<circle cx="287.5" cy="267.2" r="2.45"/>
<circle cx="288.1" cy="261.1" r="2.45"/>
<circle cx="284.1" cy="264.7" r="2.45"/>
<circle cx="290.6" cy="269.6" r="2.45"/>
<circle cx="291.3" cy="265.1" r="2.45"/>
<circle cx="282.9" cy="241.1" r="2.45"/>
<circle cx="275.9" cy="237.6" r="2.45"/>
<circle cx="277.0" cy="243.5" r="2.45"/>
<circle cx="280.0" cy="246.1" r="2.45"/>
<circle cx="280.3" cy="237.5" r="2.45"/>
<circle cx="254.5" cy="222.0" r="2.45"/>
<circle cx="254.2" cy="213.1" r="2.45"/>
<circle cx="255.4" cy="217.4" r="2.45"/>
<circle cx="258.6" cy="211.1" r="2.45"/>
<circle cx="258.2" cy="220.0" r="2.45"/>
<circle cx="299.4" cy="208.8" r="2.45"/>
<circle cx="301.2" cy="203.1" r="2.45"/>
<circle cx="296.0" cy="202.6" r="2.45"/>
<circle cx="293.7" cy="207.9" r="2.45"/>
<circle cx="303.6" cy="206.2" r="2.45"/>
<circle cx="304.4" cy="249.8" r="2.45"/>
<circle cx="309.1" cy="249.0" r="2.45"/>
<circle cx="311.3" cy="253.0" r="2.45"/>
<circle cx="306.3" cy="254.0" r="2.45"/>
<circle cx="288.9" cy="202.4" r="2.45"/>
<circle cx="285.1" cy="201.2" r="2.45"/>
<circle cx="287.0" cy="208.6" r="2.45"/>
<circle cx="292.3" cy="199.9" r="2.45"/>
<circle cx="299.7" cy="237.8" r="2.45"/>
<circle cx="296.3" cy="240.9" r="2.45"/>
<circle cx="300.7" cy="242.5" r="2.45"/>
<circle cx="296.0" cy="236.7" r="2.45"/>
<circle cx="297.2" cy="244.7" r="2.45"/>
<circle cx="256.0" cy="267.1" r="2.45"/>
<circle cx="253.1" cy="262.7" r="2.45"/>
<circle cx="259.8" cy="266.5" r="2.45"/>
<circle cx="252.2" cy="266.3" r="2.45"/>
<circle cx="319.7" cy="178.8" r="2.45"/>
<circle cx="317.4" cy="181.9" r="2.45"/>
<circle cx="322.5" cy="182.7" r="2.45"/>
<circle cx="322.7" cy="176.5" r="2.45"/>
<circle cx="316.2" cy="177.1" r="2.45"/>
<circle cx="369.7" cy="230.0" r="2.45"/>
<circle cx="369.5" cy="224.9" r="2.45"/>
<circle cx="373.7" cy="226.0" r="2.45"/>
<circle cx="375.6" cy="233.5" r="2.45"/>
<circle cx="352.2" cy="220.5" r="2.45"/>
<circle cx="345.0" cy="214.5" r="2.45"/>
<circle cx="349.0" cy="211.3" r="2.45"/>
<circle cx="350.4" cy="215.9" r="2.45"/>
<circle cx="349.4" cy="238.1" r="2.45"/>
<circle cx="351.2" cy="244.8" r="2.45"/>
<circle cx="353.1" cy="235.9" r="2.45"/>
<circle cx="348.7" cy="241.8" r="2.45"/>
<circle cx="345.7" cy="238.8" r="2.45"/>
<circle cx="258.2" cy="205.7" r="2.45"/>
<circle cx="257.1" cy="200.2" r="2.45"/>
<circle cx="252.3" cy="203.1" r="2.45"/>
<circle cx="277.0" cy="253.3" r="2.45"/>
<circle cx="277.2" cy="249.0" r="2.45"/>
<circle cx="276.2" cy="257.7" r="2.45"/>
<circle cx="280.7" cy="256.1" r="2.45"/>
</g>
<g fill="#e6e2ef" stroke="#9288ac" stroke-width="0.9">
<circle cx="346.3" cy="224.8" r="1.65"/>
<circle cx="353.0" cy="231.4" r="1.65"/>
<circle cx="354.0" cy="224.4" r="1.65"/>
<circle cx="347.7" cy="232.4" r="1.65"/>
<circle cx="348.7" cy="228.0" r="1.65"/>
<circle cx="331.2" cy="265.9" r="1.65"/>
<circle cx="329.9" cy="259.4" r="1.65"/>
<circle cx="326.7" cy="263.0" r="1.65"/>
<circle cx="324.7" cy="258.5" r="1.65"/>
<circle cx="329.1" cy="269.4" r="1.65"/>
<circle cx="333.8" cy="258.6" r="1.65"/>
<circle cx="277.4" cy="214.2" r="1.65"/>
<circle cx="280.4" cy="221.1" r="1.65"/>
<circle cx="273.4" cy="219.1" r="1.65"/>
<circle cx="276.1" cy="221.9" r="1.65"/>
<circle cx="273.9" cy="211.5" r="1.65"/>
<circle cx="283.0" cy="218.1" r="1.65"/>
<circle cx="287.2" cy="177.5" r="1.65"/>
<circle cx="283.6" cy="179.3" r="1.65"/>
<circle cx="288.5" cy="187.5" r="1.65"/>
<circle cx="290.5" cy="180.4" r="1.65"/>
<circle cx="292.1" cy="184.8" r="1.65"/>
<circle cx="367.5" cy="267.0" r="1.65"/>
<circle cx="372.3" cy="265.4" r="1.65"/>
<circle cx="338.4" cy="267.2" r="1.65"/>
<circle cx="344.2" cy="265.1" r="1.65"/>
<circle cx="335.0" cy="269.0" r="1.65"/>
<circle cx="314.5" cy="246.2" r="1.65"/>
<circle cx="315.2" cy="257.7" r="1.65"/>
<circle cx="322.1" cy="254.7" r="1.65"/>
<circle cx="365.2" cy="184.4" r="1.65"/>
<circle cx="362.2" cy="179.2" r="1.65"/>
<circle cx="359.3" cy="184.8" r="1.65"/>
<circle cx="355.3" cy="184.1" r="1.65"/>
<circle cx="355.8" cy="177.1" r="1.65"/>
<circle cx="263.4" cy="252.5" r="1.65"/>
<circle cx="271.5" cy="251.5" r="1.65"/>
<circle cx="270.8" cy="255.9" r="1.65"/>
<circle cx="264.1" cy="247.1" r="1.65"/>
<circle cx="271.8" cy="246.8" r="1.65"/>
<circle cx="350.9" cy="199.5" r="1.65"/>
<circle cx="347.5" cy="207.7" r="1.65"/>
<circle cx="353.9" cy="210.8" r="1.65"/>
<circle cx="373.0" cy="212.1" r="1.65"/>
<circle cx="366.9" cy="217.6" r="1.65"/>
<circle cx="368.6" cy="212.7" r="1.65"/>
<circle cx="372.9" cy="221.7" r="1.65"/>
<circle cx="367.1" cy="221.8" r="1.65"/>
<circle cx="371.6" cy="215.8" r="1.65"/>
<circle cx="375.0" cy="218.2" r="1.65"/>
<circle cx="269.5" cy="213.4" r="1.65"/>
<circle cx="264.2" cy="211.7" r="1.65"/>
<circle cx="266.2" cy="219.4" r="1.65"/>
<circle cx="262.7" cy="215.4" r="1.65"/>
<circle cx="285.4" cy="238.3" r="1.65"/>
<circle cx="284.8" cy="245.9" r="1.65"/>
<circle cx="292.1" cy="235.4" r="1.65"/>
<circle cx="290.3" cy="240.7" r="1.65"/>
<circle cx="291.4" cy="245.7" r="1.65"/>
<circle cx="287.4" cy="243.1" r="1.65"/>
<circle cx="287.8" cy="235.1" r="1.65"/>
<circle cx="257.9" cy="230.8" r="1.65"/>
<circle cx="253.7" cy="226.1" r="1.65"/>
<circle cx="252.2" cy="232.0" r="1.65"/>
<circle cx="262.1" cy="225.7" r="1.65"/>
<circle cx="260.6" cy="234.2" r="1.65"/>
<circle cx="360.1" cy="230.8" r="1.65"/>
<circle cx="364.2" cy="230.0" r="1.65"/>
<circle cx="361.5" cy="224.1" r="1.65"/>
<circle cx="356.8" cy="234.1" r="1.65"/>
<circle cx="334.5" cy="209.1" r="1.65"/>
<circle cx="332.3" cy="204.2" r="1.65"/>
<circle cx="326.7" cy="200.1" r="1.65"/>
<circle cx="326.5" cy="205.1" r="1.65"/>
<circle cx="327.7" cy="210.6" r="1.65"/>
<circle cx="334.4" cy="199.6" r="1.65"/>
<circle cx="268.7" cy="238.4" r="1.65"/>
<circle cx="272.3" cy="241.2" r="1.65"/>
<circle cx="263.7" cy="238.7" r="1.65"/>
<circle cx="267.8" cy="245.8" r="1.65"/>
<circle cx="264.2" cy="242.6" r="1.65"/>
<circle cx="270.0" cy="234.8" r="1.65"/>
<circle cx="270.1" cy="266.9" r="1.65"/>
<circle cx="263.1" cy="258.8" r="1.65"/>
<circle cx="270.7" cy="262.8" r="1.65"/>
<circle cx="264.9" cy="267.8" r="1.65"/>
<circle cx="272.7" cy="259.1" r="1.65"/>
<circle cx="290.1" cy="194.8" r="1.65"/>
<circle cx="287.0" cy="191.8" r="1.65"/>
<circle cx="315.4" cy="188.7" r="1.65"/>
<circle cx="321.7" cy="187.8" r="1.65"/>
<circle cx="317.9" cy="194.2" r="1.65"/>
<circle cx="322.4" cy="193.1" r="1.65"/>
<circle cx="298.0" cy="256.9" r="1.65"/>
<circle cx="296.3" cy="253.5" r="1.65"/>
<circle cx="301.1" cy="246.9" r="1.65"/>
<circle cx="299.4" cy="250.3" r="1.65"/>
<circle cx="301.4" cy="253.5" r="1.65"/>
<circle cx="286.3" cy="256.4" r="1.65"/>
<circle cx="290.2" cy="251.6" r="1.65"/>
<circle cx="293.3" cy="257.2" r="1.65"/>
<circle cx="286.8" cy="249.1" r="1.65"/>
<circle cx="290.0" cy="255.5" r="1.65"/>
<circle cx="283.8" cy="253.6" r="1.65"/>
<circle cx="283.0" cy="249.8" r="1.65"/>
<circle cx="323.1" cy="240.4" r="1.65"/>
<circle cx="320.4" cy="236.5" r="1.65"/>
<circle cx="316.6" cy="242.4" r="1.65"/>
<circle cx="315.4" cy="234.6" r="1.65"/>
<circle cx="254.6" cy="196.8" r="1.65"/>
<circle cx="259.6" cy="189.4" r="1.65"/>
<circle cx="253.9" cy="190.8" r="1.65"/>
<circle cx="261.2" cy="197.8" r="1.65"/>
<circle cx="252.2" cy="252.5" r="1.65"/>
<circle cx="254.5" cy="249.5" r="1.65"/>
<circle cx="256.0" cy="253.6" r="1.65"/>
<circle cx="257.7" cy="257.8" r="1.65"/>
<circle cx="252.5" cy="256.7" r="1.65"/>
<circle cx="270.0" cy="224.3" r="1.65"/>
<circle cx="263.3" cy="229.5" r="1.65"/>
<circle cx="272.0" cy="228.4" r="1.65"/>
<circle cx="265.0" cy="233.6" r="1.65"/>
<circle cx="280.3" cy="186.3" r="1.65"/>
<circle cx="274.3" cy="184.6" r="1.65"/>
<circle cx="277.0" cy="178.5" r="1.65"/>
<circle cx="273.0" cy="180.2" r="1.65"/>
<circle cx="273.0" cy="175.9" r="1.65"/>
<circle cx="302.2" cy="262.1" r="1.65"/>
<circle cx="297.2" cy="264.1" r="1.65"/>
<circle cx="294.4" cy="267.6" r="1.65"/>
<circle cx="300.4" cy="267.8" r="1.65"/>
<circle cx="294.4" cy="260.9" r="1.65"/>
<circle cx="302.8" cy="258.1" r="1.65"/>
<circle cx="313.5" cy="181.9" r="1.65"/>
<circle cx="305.1" cy="185.5" r="1.65"/>
<circle cx="307.6" cy="179.5" r="1.65"/>
<circle cx="309.9" cy="187.3" r="1.65"/>
<circle cx="293.8" cy="216.2" r="1.65"/>
<circle cx="301.9" cy="219.1" r="1.65"/>
<circle cx="299.1" cy="222.0" r="1.65"/>
<circle cx="308.4" cy="265.2" r="1.65"/>
<circle cx="304.5" cy="268.6" r="1.65"/>
<circle cx="307.7" cy="258.7" r="1.65"/>
<circle cx="312.5" cy="262.1" r="1.65"/>
<circle cx="312.2" cy="269.5" r="1.65"/>
<circle cx="313.6" cy="265.8" r="1.65"/>
<circle cx="327.8" cy="255.1" r="1.65"/>
<circle cx="329.5" cy="250.5" r="1.65"/>
<circle cx="324.6" cy="248.4" r="1.65"/>
<circle cx="331.9" cy="247.6" r="1.65"/>
<circle cx="333.3" cy="253.0" r="1.65"/>
<circle cx="302.0" cy="197.2" r="1.65"/>
<circle cx="293.8" cy="196.0" r="1.65"/>
<circle cx="297.2" cy="192.9" r="1.65"/>
<circle cx="298.5" cy="198.9" r="1.65"/>
<circle cx="334.7" cy="215.6" r="1.65"/>
<circle cx="339.6" cy="221.8" r="1.65"/>
<circle cx="340.4" cy="213.4" r="1.65"/>
<circle cx="337.8" cy="218.3" r="1.65"/>
<circle cx="367.8" cy="203.9" r="1.65"/>
<circle cx="366.3" cy="207.6" r="1.65"/>
<circle cx="371.4" cy="206.4" r="1.65"/>
<circle cx="374.4" cy="202.5" r="1.65"/>
<circle cx="371.1" cy="199.3" r="1.65"/>
<circle cx="375.4" cy="206.6" r="1.65"/>
<circle cx="366.8" cy="193.8" r="1.65"/>
<circle cx="366.4" cy="189.7" r="1.65"/>
<circle cx="372.7" cy="195.1" r="1.65"/>
<circle cx="370.5" cy="191.9" r="1.65"/>
<circle cx="374.2" cy="191.6" r="1.65"/>
<circle cx="263.3" cy="183.2" r="1.65"/>
<circle cx="268.2" cy="176.3" r="1.65"/>
<circle cx="267.1" cy="183.7" r="1.65"/>
<circle cx="364.6" cy="197.5" r="1.65"/>
<circle cx="356.3" cy="195.8" r="1.65"/>
<circle cx="360.2" cy="194.9" r="1.65"/>
<circle cx="363.3" cy="191.7" r="1.65"/>
<circle cx="320.2" cy="268.2" r="1.65"/>
<circle cx="317.3" cy="261.2" r="1.65"/>
<circle cx="322.0" cy="262.1" r="1.65"/>
<circle cx="324.3" cy="266.6" r="1.65"/>
<circle cx="359.2" cy="203.5" r="1.65"/>
<circle cx="363.4" cy="204.5" r="1.65"/>
<circle cx="365.1" cy="235.4" r="1.65"/>
<circle cx="360.7" cy="236.9" r="1.65"/>
<circle cx="355.3" cy="239.1" r="1.65"/>
<circle cx="360.8" cy="241.0" r="1.65"/>
<circle cx="356.0" cy="243.7" r="1.65"/>
<circle cx="364.3" cy="245.9" r="1.65"/>
<circle cx="366.0" cy="255.1" r="1.65"/>
<circle cx="370.6" cy="256.7" r="1.65"/>
<circle cx="375.5" cy="257.9" r="1.65"/>
<circle cx="371.2" cy="248.7" r="1.65"/>
<circle cx="374.9" cy="247.1" r="1.65"/>
<circle cx="254.4" cy="176.8" r="1.65"/>
<circle cx="258.9" cy="177.6" r="1.65"/>
<circle cx="254.3" cy="181.7" r="1.65"/>
<circle cx="258.0" cy="185.9" r="1.65"/>
<circle cx="308.9" cy="243.5" r="1.65"/>
<circle cx="304.8" cy="238.5" r="1.65"/>
<circle cx="304.3" cy="234.6" r="1.65"/>
<circle cx="311.8" cy="237.7" r="1.65"/>
<circle cx="305.0" cy="243.4" r="1.65"/>
<circle cx="309.0" cy="234.6" r="1.65"/>
<circle cx="311.4" cy="226.7" r="1.65"/>
<circle cx="306.6" cy="228.3" r="1.65"/>
<circle cx="312.9" cy="223.1" r="1.65"/>
<circle cx="304.0" cy="222.8" r="1.65"/>
<circle cx="308.9" cy="222.9" r="1.65"/>
<circle cx="312.6" cy="230.7" r="1.65"/>
<circle cx="326.8" cy="242.5" r="1.65"/>
<circle cx="334.5" cy="239.9" r="1.65"/>
<circle cx="326.3" cy="237.8" r="1.65"/>
<circle cx="330.1" cy="234.6" r="1.65"/>
<circle cx="333.8" cy="235.8" r="1.65"/>
<circle cx="332.4" cy="243.4" r="1.65"/>
<circle cx="300.2" cy="178.1" r="1.65"/>
<circle cx="299.7" cy="186.8" r="1.65"/>
<circle cx="298.6" cy="182.9" r="1.65"/>
<circle cx="294.9" cy="179.4" r="1.65"/>
<circle cx="360.0" cy="257.1" r="1.65"/>
<circle cx="356.0" cy="257.4" r="1.65"/>
<circle cx="358.9" cy="252.6" r="1.65"/>
<circle cx="360.4" cy="247.8" r="1.65"/>
<circle cx="363.6" cy="251.5" r="1.65"/>
<circle cx="277.8" cy="190.0" r="1.65"/>
<circle cx="374.0" cy="242.3" r="1.65"/>
<circle cx="374.4" cy="238.0" r="1.65"/>
<circle cx="370.1" cy="243.2" r="1.65"/>
<circle cx="367.6" cy="240.2" r="1.65"/>
<circle cx="369.4" cy="236.3" r="1.65"/>
<circle cx="278.0" cy="229.9" r="1.65"/>
<circle cx="274.8" cy="233.6" r="1.65"/>
<circle cx="280.8" cy="225.9" r="1.65"/>
<circle cx="281.0" cy="233.3" r="1.65"/>
<circle cx="273.9" cy="225.1" r="1.65"/>
<circle cx="282.9" cy="229.5" r="1.65"/>
<circle cx="269.8" cy="209.4" r="1.65"/>
<circle cx="271.8" cy="204.5" r="1.65"/>
<circle cx="263.8" cy="201.1" r="1.65"/>
<circle cx="304.3" cy="192.1" r="1.65"/>
<circle cx="313.8" cy="194.9" r="1.65"/>
<circle cx="308.8" cy="198.8" r="1.65"/>
<circle cx="308.8" cy="194.1" r="1.65"/>
<circle cx="351.8" cy="256.4" r="1.65"/>
<circle cx="345.4" cy="253.3" r="1.65"/>
<circle cx="350.8" cy="251.6" r="1.65"/>
<circle cx="354.4" cy="253.4" r="1.65"/>
<circle cx="346.0" cy="248.0" r="1.65"/>
<circle cx="347.5" cy="187.7" r="1.65"/>
<circle cx="352.7" cy="190.0" r="1.65"/>
<circle cx="332.2" cy="220.8" r="1.65"/>
<circle cx="328.4" cy="216.5" r="1.65"/>
<circle cx="324.7" cy="219.8" r="1.65"/>
<circle cx="324.5" cy="215.2" r="1.65"/>
<circle cx="328.8" cy="222.3" r="1.65"/>
<circle cx="331.8" cy="212.1" r="1.65"/>
<circle cx="284.2" cy="211.1" r="1.65"/>
<circle cx="292.6" cy="221.2" r="1.65"/>
<circle cx="287.4" cy="222.2" r="1.65"/>
<circle cx="291.8" cy="211.6" r="1.65"/>
<circle cx="286.9" cy="214.5" r="1.65"/>
<circle cx="294.7" cy="225.6" r="1.65"/>
<circle cx="300.5" cy="225.9" r="1.65"/>
<circle cx="297.5" cy="230.6" r="1.65"/>
<circle cx="299.6" cy="234.0" r="1.65"/>
<circle cx="301.7" cy="229.5" r="1.65"/>
<circle cx="354.4" cy="265.0" r="1.65"/>
<circle cx="351.9" cy="269.1" r="1.65"/>
<circle cx="346.6" cy="258.1" r="1.65"/>
<circle cx="329.9" cy="178.7" r="1.65"/>
<circle cx="330.7" cy="184.6" r="1.65"/>
<circle cx="326.0" cy="179.9" r="1.65"/>
<circle cx="326.6" cy="185.2" r="1.65"/>
<circle cx="334.0" cy="176.1" r="1.65"/>
<circle cx="270.4" cy="196.7" r="1.65"/>
<circle cx="265.6" cy="189.7" r="1.65"/>
<circle cx="262.6" cy="193.2" r="1.65"/>
<circle cx="328.1" cy="189.4" r="1.65"/>
<circle cx="334.0" cy="195.9" r="1.65"/>
<circle cx="330.0" cy="193.0" r="1.65"/>
<circle cx="333.3" cy="189.0" r="1.65"/>
<circle cx="328.6" cy="196.5" r="1.65"/>
<circle cx="324.3" cy="196.7" r="1.65"/>
<circle cx="311.6" cy="203.8" r="1.65"/>
<circle cx="308.1" cy="208.2" r="1.65"/>
<circle cx="304.1" cy="210.7" r="1.65"/>
<circle cx="312.1" cy="208.4" r="1.65"/>
<circle cx="304.2" cy="200.6" r="1.65"/>
<circle cx="325.7" cy="227.0" r="1.65"/>
<circle cx="333.6" cy="225.3" r="1.65"/>
<circle cx="331.0" cy="229.9" r="1.65"/>
<circle cx="324.9" cy="231.9" r="1.65"/>
<circle cx="329.5" cy="226.4" r="1.65"/>
<circle cx="338.3" cy="183.7" r="1.65"/>
<circle cx="339.4" cy="177.6" r="1.65"/>
<circle cx="279.1" cy="200.4" r="1.65"/>
<circle cx="279.8" cy="210.2" r="1.65"/>
<circle cx="283.0" cy="206.6" r="1.65"/>
<circle cx="279.2" cy="204.7" r="1.65"/>
<circle cx="275.1" cy="201.6" r="1.65"/>
<circle cx="321.9" cy="223.0" r="1.65"/>
<circle cx="316.7" cy="229.9" r="1.65"/>
<circle cx="317.3" cy="222.9" r="1.65"/>
<circle cx="293.3" cy="229.5" r="1.65"/>
<circle cx="290.2" cy="226.7" r="1.65"/>
<circle cx="289.0" cy="231.3" r="1.65"/>
<circle cx="286.3" cy="227.5" r="1.65"/>
<circle cx="320.3" cy="210.0" r="1.65"/>
<circle cx="318.7" cy="200.2" r="1.65"/>
<circle cx="322.6" cy="200.6" r="1.65"/>
<circle cx="315.4" cy="204.0" r="1.65"/>
<circle cx="309.5" cy="213.9" r="1.65"/>
<circle cx="313.8" cy="216.9" r="1.65"/>
<circle cx="305.2" cy="216.2" r="1.65"/>
<circle cx="308.7" cy="218.7" r="1.65"/>
<circle cx="313.3" cy="212.7" r="1.65"/>
<circle cx="260.2" cy="242.6" r="1.65"/>
<circle cx="255.3" cy="241.1" r="1.65"/>
<circle cx="252.3" cy="238.1" r="1.65"/>
<circle cx="255.6" cy="235.8" r="1.65"/>
<circle cx="256.2" cy="245.4" r="1.65"/>
<circle cx="259.8" cy="238.7" r="1.65"/>
<circle cx="282.6" cy="259.6" r="1.65"/>
<circle cx="274.5" cy="263.4" r="1.65"/>
<circle cx="282.7" cy="269.2" r="1.65"/>
<circle cx="357.5" cy="212.6" r="1.65"/>
<circle cx="359.8" cy="217.0" r="1.65"/>
<circle cx="361.9" cy="213.3" r="1.65"/>
<circle cx="357.0" cy="220.8" r="1.65"/>
<circle cx="355.4" cy="216.1" r="1.65"/>
<circle cx="363.0" cy="219.9" r="1.65"/>
<circle cx="341.2" cy="240.9" r="1.65"/>
<circle cx="342.1" cy="237.0" r="1.65"/>
<circle cx="340.9" cy="245.3" r="1.65"/>
<circle cx="344.8" cy="243.3" r="1.65"/>
<circle cx="336.6" cy="245.0" r="1.65"/>
<circle cx="339.0" cy="254.3" r="1.65"/>
<circle cx="342.9" cy="256.0" r="1.65"/>
<circle cx="338.2" cy="249.7" r="1.65"/>
<circle cx="342.6" cy="249.8" r="1.65"/>
<circle cx="374.4" cy="181.0" r="1.65"/>
<circle cx="373.1" cy="187.0" r="1.65"/>
<circle cx="369.6" cy="178.8" r="1.65"/>
<circle cx="365.7" cy="176.3" r="1.65"/>
<circle cx="364.0" cy="258.6" r="1.65"/>
<circle cx="359.2" cy="268.9" r="1.65"/>
<circle cx="342.3" cy="206.3" r="1.65"/>
<circle cx="345.8" cy="183.6" r="1.65"/>
<circle cx="345.8" cy="178.7" r="1.65"/>
<circle cx="350.3" cy="179.4" r="1.65"/>
<circle cx="350.3" cy="183.9" r="1.65"/>
<circle cx="340.7" cy="227.7" r="1.65"/>
<circle cx="337.6" cy="233.5" r="1.65"/>
<circle cx="335.5" cy="229.8" r="1.65"/>
<circle cx="320.3" cy="218.6" r="1.65"/>
<circle cx="318.0" cy="215.1" r="1.65"/>
<circle cx="324.0" cy="211.4" r="1.65"/>
<circle cx="287.5" cy="267.2" r="1.65"/>
<circle cx="288.1" cy="261.1" r="1.65"/>
<circle cx="284.1" cy="264.7" r="1.65"/>
<circle cx="290.6" cy="269.6" r="1.65"/>
<circle cx="291.3" cy="265.1" r="1.65"/>
<circle cx="282.9" cy="241.1" r="1.65"/>
<circle cx="275.9" cy="237.6" r="1.65"/>
<circle cx="277.0" cy="243.5" r="1.65"/>
<circle cx="280.0" cy="246.1" r="1.65"/>
<circle cx="280.3" cy="237.5" r="1.65"/>
<circle cx="254.5" cy="222.0" r="1.65"/>
<circle cx="254.2" cy="213.1" r="1.65"/>
<circle cx="255.4" cy="217.4" r="1.65"/>
<circle cx="258.6" cy="211.1" r="1.65"/>
<circle cx="258.2" cy="220.0" r="1.65"/>
<circle cx="299.4" cy="208.8" r="1.65"/>
<circle cx="301.2" cy="203.1" r="1.65"/>
<circle cx="296.0" cy="202.6" r="1.65"/>
<circle cx="293.7" cy="207.9" r="1.65"/>
<circle cx="303.6" cy="206.2" r="1.65"/>
<circle cx="304.4" cy="249.8" r="1.65"/>
<circle cx="309.1" cy="249.0" r="1.65"/>
<circle cx="311.3" cy="253.0" r="1.65"/>
<circle cx="306.3" cy="254.0" r="1.65"/>
<circle cx="288.9" cy="202.4" r="1.65"/>
<circle cx="285.1" cy="201.2" r="1.65"/>
<circle cx="287.0" cy="208.6" r="1.65"/>
<circle cx="292.3" cy="199.9" r="1.65"/>
<circle cx="299.7" cy="237.8" r="1.65"/>
<circle cx="296.3" cy="240.9" r="1.65"/>
<circle cx="300.7" cy="242.5" r="1.65"/>
<circle cx="296.0" cy="236.7" r="1.65"/>
<circle cx="297.2" cy="244.7" r="1.65"/>
<circle cx="256.0" cy="267.1" r="1.65"/>
<circle cx="253.1" cy="262.7" r="1.65"/>
<circle cx="259.8" cy="266.5" r="1.65"/>
<circle cx="252.2" cy="266.3" r="1.65"/>
<circle cx="319.7" cy="178.8" r="1.65"/>
<circle cx="317.4" cy="181.9" r="1.65"/>
<circle cx="322.5" cy="182.7" r="1.65"/>
<circle cx="322.7" cy="176.5" r="1.65"/>
<circle cx="316.2" cy="177.1" r="1.65"/>
<circle cx="369.7" cy="230.0" r="1.65"/>
<circle cx="369.5" cy="224.9" r="1.65"/>
<circle cx="373.7" cy="226.0" r="1.65"/>
<circle cx="375.6" cy="233.5" r="1.65"/>
<circle cx="352.2" cy="220.5" r="1.65"/>
<circle cx="345.0" cy="214.5" r="1.65"/>
<circle cx="349.0" cy="211.3" r="1.65"/>
<circle cx="350.4" cy="215.9" r="1.65"/>
<circle cx="349.4" cy="238.1" r="1.65"/>
<circle cx="351.2" cy="244.8" r="1.65"/>
<circle cx="353.1" cy="235.9" r="1.65"/>
<circle cx="348.7" cy="241.8" r="1.65"/>
<circle cx="345.7" cy="238.8" r="1.65"/>
<circle cx="258.2" cy="205.7" r="1.65"/>
<circle cx="257.1" cy="200.2" r="1.65"/>
<circle cx="252.3" cy="203.1" r="1.65"/>
<circle cx="277.0" cy="253.3" r="1.65"/>
<circle cx="277.2" cy="249.0" r="1.65"/>
<circle cx="276.2" cy="257.7" r="1.65"/>
<circle cx="280.7" cy="256.1" r="1.65"/>
</g>
<circle cx="330.9" cy="234.6" r="0.52" fill="#4a3f8a" opacity="0.8"/>
<circle cx="351.3" cy="207.8" r="0.56" fill="#4a3f8a" opacity="0.8"/>
<circle cx="340.5" cy="209.2" r="0.73" fill="#4a3f8a" opacity="0.8"/>
<circle cx="309.0" cy="211.1" r="0.46" fill="#4a3f8a" opacity="0.8"/>
<circle cx="345.2" cy="196.5" r="0.59" fill="#4a3f8a" opacity="0.8"/>
<circle cx="335.3" cy="219.7" r="0.74" fill="#4a3f8a" opacity="0.8"/>
<circle cx="301.1" cy="209.7" r="0.48" fill="#4a3f8a" opacity="0.8"/>
<circle cx="256.6" cy="187.7" r="0.62" fill="#4a3f8a" opacity="0.8"/>
<circle cx="267.1" cy="222.7" r="0.49" fill="#4a3f8a" opacity="0.8"/>
<circle cx="349.8" cy="180.2" r="0.68" fill="#4a3f8a" opacity="0.8"/>
<circle cx="366.8" cy="263.8" r="0.59" fill="#4a3f8a" opacity="0.8"/>
<circle cx="351.7" cy="192.6" r="0.74" fill="#4a3f8a" opacity="0.8"/>
<circle cx="371.9" cy="242.9" r="0.74" fill="#4a3f8a" opacity="0.8"/>
<circle cx="329.1" cy="266.0" r="0.57" fill="#4a3f8a" opacity="0.8"/>
<circle cx="263.0" cy="196.0" r="0.71" fill="#4a3f8a" opacity="0.8"/>
<circle cx="355.6" cy="212.1" r="0.66" fill="#4a3f8a" opacity="0.8"/>
<circle cx="362.7" cy="208.9" r="0.53" fill="#4a3f8a" opacity="0.8"/>
<circle cx="372.9" cy="210.7" r="0.73" fill="#4a3f8a" opacity="0.8"/>
<circle cx="284.0" cy="265.2" r="0.46" fill="#4a3f8a" opacity="0.8"/>
<circle cx="296.1" cy="217.1" r="0.47" fill="#4a3f8a" opacity="0.8"/>
<circle cx="352.0" cy="263.1" r="0.57" fill="#4a3f8a" opacity="0.8"/>
<circle cx="337.6" cy="201.1" r="0.54" fill="#4a3f8a" opacity="0.8"/>
<circle cx="334.5" cy="224.0" r="0.48" fill="#4a3f8a" opacity="0.8"/>
<circle cx="373.6" cy="267.6" r="0.63" fill="#4a3f8a" opacity="0.8"/>
<circle cx="365.5" cy="207.6" r="0.58" fill="#4a3f8a" opacity="0.8"/>
<circle cx="330.6" cy="183.7" r="0.46" fill="#4a3f8a" opacity="0.8"/>
<circle cx="315.5" cy="194.8" r="0.68" fill="#4a3f8a" opacity="0.8"/>
<circle cx="330.2" cy="214.3" r="0.60" fill="#4a3f8a" opacity="0.8"/>
<circle cx="337.2" cy="188.7" r="0.68" fill="#4a3f8a" opacity="0.8"/>
<circle cx="354.4" cy="195.7" r="0.49" fill="#4a3f8a" opacity="0.8"/>
<circle cx="344.8" cy="237.3" r="0.69" fill="#4a3f8a" opacity="0.8"/>
<circle cx="374.7" cy="242.6" r="0.73" fill="#4a3f8a" opacity="0.8"/>
<circle cx="278.3" cy="213.7" r="0.72" fill="#4a3f8a" opacity="0.8"/>
<circle cx="339.9" cy="235.8" r="0.57" fill="#4a3f8a" opacity="0.8"/>
<circle cx="281.5" cy="256.3" r="0.46" fill="#4a3f8a" opacity="0.8"/>
<circle cx="362.4" cy="253.7" r="0.73" fill="#4a3f8a" opacity="0.8"/>
<circle cx="257.5" cy="226.4" r="0.67" fill="#4a3f8a" opacity="0.8"/>
<circle cx="302.3" cy="264.1" r="0.65" fill="#4a3f8a" opacity="0.8"/>
<circle cx="354.8" cy="180.8" r="0.74" fill="#4a3f8a" opacity="0.8"/>
<circle cx="274.6" cy="205.6" r="0.56" fill="#4a3f8a" opacity="0.8"/>
<circle cx="345.6" cy="185.5" r="0.58" fill="#4a3f8a" opacity="0.8"/>
<circle cx="357.3" cy="230.3" r="0.55" fill="#4a3f8a" opacity="0.8"/>
<circle cx="321.8" cy="191.4" r="0.48" fill="#4a3f8a" opacity="0.8"/>
<circle cx="307.7" cy="199.3" r="0.62" fill="#4a3f8a" opacity="0.8"/>
<circle cx="267.0" cy="192.7" r="0.66" fill="#4a3f8a" opacity="0.8"/>

<circle cx="291.6" cy="196.0" r="2.1" fill="#9a8cbc"/>
<circle cx="274.8" cy="230.0" r="2.1" fill="#a898c0"/>
<circle cx="287.5" cy="232.8" r="2.1" fill="#a898c0"/>
<circle cx="358.0" cy="248.2" r="2.2" fill="#9c8cbc"/>
<circle cx="317.0" cy="246.0" r="2.0" fill="#a898c0"/>
<line x1="284" y1="201.2" x2="295" y2="201.6" stroke="#666" stroke-width="0.7"/>
<polygon points="281.2,200.6 284.4,199.2 284.4,202.2" fill="#111"/>
<line x1="351" y1="201.0" x2="360" y2="201.2" stroke="#666" stroke-width="0.7"/>
<polygon points="348.2,200.9 351.4,199.5 351.4,202.4" fill="#111"/>

</g>
<defs><clipPath id="clip2"><rect x="379.9" y="175.9" width="123.30" height="93.70"/></clipPath></defs>
<rect x="379.9" y="175.9" width="123.30" height="93.70" fill="#fdfcfb"/>
<g clip-path="url(#clip2)">
<g fill="#d8a8b6" opacity="0.6">
<circle cx="394.8" cy="253.9" r="2.9"/>
<circle cx="391.6" cy="251.8" r="2.9"/>
<circle cx="392.5" cy="247.1" r="2.9"/>
<circle cx="397.7" cy="251.0" r="2.9"/>
<circle cx="398.5" cy="255.9" r="2.9"/>
<circle cx="388.6" cy="242.0" r="2.9"/>
<circle cx="483.6" cy="224.7" r="2.9"/>
<circle cx="490.8" cy="227.3" r="2.9"/>
<circle cx="491.3" cy="234.1" r="2.9"/>
<circle cx="477.2" cy="176.0" r="2.9"/>
<circle cx="479.0" cy="184.1" r="2.9"/>
<circle cx="418.0" cy="187.1" r="2.9"/>
<circle cx="405.3" cy="232.6" r="2.9"/>
<circle cx="401.1" cy="225.0" r="2.9"/>
<circle cx="410.2" cy="224.4" r="2.9"/>
<circle cx="416.9" cy="228.4" r="2.9"/>
<circle cx="419.8" cy="233.9" r="2.9"/>
<circle cx="414.2" cy="224.3" r="2.9"/>
<circle cx="410.8" cy="229.6" r="2.9"/>
<circle cx="420.5" cy="223.5" r="2.9"/>
<circle cx="480.1" cy="210.6" r="2.9"/>
<circle cx="472.7" cy="205.3" r="2.9"/>
<circle cx="458.0" cy="228.3" r="2.9"/>
<circle cx="454.6" cy="233.3" r="2.9"/>
<circle cx="460.8" cy="231.0" r="2.9"/>
<circle cx="406.1" cy="176.8" r="2.9"/>
<circle cx="452.9" cy="196.4" r="2.9"/>
<circle cx="458.5" cy="190.0" r="2.9"/>
<circle cx="390.9" cy="178.0" r="2.9"/>
<circle cx="400.2" cy="178.6" r="2.9"/>
<circle cx="393.7" cy="181.4" r="2.9"/>
<circle cx="389.8" cy="213.9" r="2.9"/>
<circle cx="384.9" cy="213.4" r="2.9"/>
<circle cx="381.0" cy="219.1" r="2.9"/>
<circle cx="384.9" cy="184.0" r="2.9"/>
<circle cx="380.8" cy="176.5" r="2.9"/>
<circle cx="492.9" cy="199.5" r="2.9"/>
<circle cx="503.1" cy="185.7" r="2.9"/>
<circle cx="502.9" cy="176.6" r="2.9"/>
<circle cx="497.8" cy="185.8" r="2.9"/>
<circle cx="394.8" cy="238.9" r="2.9"/>
<circle cx="398.5" cy="245.9" r="2.9"/>
<circle cx="486.0" cy="197.0" r="2.9"/>
<circle cx="491.3" cy="195.0" r="2.9"/>
<circle cx="491.5" cy="267.9" r="2.9"/>
<circle cx="475.1" cy="266.5" r="2.9"/>
<circle cx="481.9" cy="260.3" r="2.9"/>
<circle cx="472.6" cy="259.9" r="2.9"/>
<circle cx="428.0" cy="232.4" r="2.9"/>
<circle cx="428.4" cy="225.6" r="2.9"/>
<circle cx="497.0" cy="208.8" r="2.9"/>
<circle cx="493.0" cy="205.6" r="2.9"/>
<circle cx="497.4" cy="202.6" r="2.9"/>
<circle cx="405.8" cy="191.5" r="2.9"/>
<circle cx="401.5" cy="192.3" r="2.9"/>
<circle cx="408.5" cy="188.6" r="2.9"/>
<circle cx="414.5" cy="256.2" r="2.9"/>
<circle cx="419.9" cy="254.8" r="2.9"/>
<circle cx="413.7" cy="250.0" r="2.9"/>
<circle cx="420.5" cy="250.1" r="2.9"/>
<circle cx="494.5" cy="222.9" r="2.9"/>
<circle cx="498.1" cy="226.1" r="2.9"/>
<circle cx="499.0" cy="231.8" r="2.9"/>
<circle cx="487.8" cy="215.4" r="2.9"/>
<circle cx="491.7" cy="219.7" r="2.9"/>
<circle cx="485.6" cy="218.6" r="2.9"/>
<circle cx="491.9" cy="213.9" r="2.9"/>
<circle cx="432.9" cy="215.3" r="2.9"/>
<circle cx="435.3" cy="212.1" r="2.9"/>
<circle cx="437.9" cy="215.1" r="2.9"/>
<circle cx="454.3" cy="207.9" r="2.9"/>
<circle cx="461.9" cy="201.3" r="2.9"/>
<circle cx="456.0" cy="203.2" r="2.9"/>
<circle cx="462.0" cy="209.9" r="2.9"/>
<circle cx="468.3" cy="196.4" r="2.9"/>
<circle cx="471.8" cy="189.9" r="2.9"/>
<circle cx="439.1" cy="192.5" r="2.9"/>
<circle cx="441.4" cy="197.4" r="2.9"/>
<circle cx="436.6" cy="189.5" r="2.9"/>
<circle cx="437.2" cy="196.7" r="2.9"/>
<circle cx="457.9" cy="212.9" r="2.9"/>
<circle cx="461.1" cy="221.9" r="2.9"/>
<circle cx="453.8" cy="213.4" r="2.9"/>
<circle cx="455.7" cy="219.8" r="2.9"/>
<circle cx="463.4" cy="264.3" r="2.9"/>
<circle cx="471.1" cy="269.1" r="2.9"/>
<circle cx="465.4" cy="269.3" r="2.9"/>
<circle cx="466.1" cy="259.1" r="2.9"/>
<circle cx="426.3" cy="259.9" r="2.9"/>
<circle cx="426.0" cy="265.6" r="2.9"/>
<circle cx="429.6" cy="262.5" r="2.9"/>
<circle cx="437.6" cy="266.0" r="2.9"/>
<circle cx="440.8" cy="268.7" r="2.9"/>
<circle cx="397.3" cy="262.4" r="2.9"/>
<circle cx="391.3" cy="268.7" r="2.9"/>
<circle cx="395.8" cy="266.7" r="2.9"/>
<circle cx="400.2" cy="268.9" r="2.9"/>
<circle cx="481.5" cy="229.7" r="2.9"/>
<circle cx="481.1" cy="234.3" r="2.9"/>
<circle cx="391.4" cy="196.4" r="2.9"/>
<circle cx="399.8" cy="198.2" r="2.9"/>
<circle cx="466.7" cy="235.9" r="2.9"/>
<circle cx="444.3" cy="259.3" r="2.9"/>
<circle cx="445.8" cy="267.2" r="2.9"/>
<circle cx="442.3" cy="263.5" r="2.9"/>
<circle cx="449.9" cy="268.6" r="2.9"/>
<circle cx="468.1" cy="186.3" r="2.9"/>
<circle cx="465.2" cy="181.7" r="2.9"/>
<circle cx="398.4" cy="205.9" r="2.9"/>
<circle cx="392.0" cy="210.3" r="2.9"/>
<circle cx="396.9" cy="200.9" r="2.9"/>
<circle cx="392.0" cy="204.3" r="2.9"/>
<circle cx="501.8" cy="218.6" r="2.9"/>
<circle cx="497.9" cy="220.6" r="2.9"/>
<circle cx="501.6" cy="214.0" r="2.9"/>
<circle cx="497.4" cy="213.2" r="2.9"/>
<circle cx="408.1" cy="218.7" r="2.9"/>
<circle cx="410.7" cy="214.0" r="2.9"/>
<circle cx="402.8" cy="216.0" r="2.9"/>
<circle cx="400.9" cy="211.9" r="2.9"/>
<circle cx="416.6" cy="203.1" r="2.9"/>
<circle cx="469.4" cy="210.3" r="2.9"/>
<circle cx="470.1" cy="201.9" r="2.9"/>
<circle cx="466.8" cy="204.2" r="2.9"/>
<circle cx="465.8" cy="208.8" r="2.9"/>
<circle cx="380.8" cy="192.2" r="2.9"/>
<circle cx="381.0" cy="187.6" r="2.9"/>
<circle cx="472.1" cy="213.2" r="2.9"/>
<circle cx="471.1" cy="217.0" r="2.9"/>
<circle cx="465.0" cy="221.4" r="2.9"/>
<circle cx="463.5" cy="217.6" r="2.9"/>
<circle cx="382.4" cy="206.1" r="2.9"/>
<circle cx="388.7" cy="199.4" r="2.9"/>
<circle cx="384.1" cy="200.2" r="2.9"/>
<circle cx="456.2" cy="267.8" r="2.9"/>
<circle cx="459.7" cy="265.5" r="2.9"/>
<circle cx="453.3" cy="261.1" r="2.9"/>
<circle cx="453.1" cy="264.9" r="2.9"/>
<circle cx="458.0" cy="260.5" r="2.9"/>
<circle cx="440.2" cy="224.6" r="2.9"/>
<circle cx="436.8" cy="228.8" r="2.9"/>
<circle cx="441.1" cy="229.3" r="2.9"/>
<circle cx="436.4" cy="223.7" r="2.9"/>
<circle cx="466.9" cy="249.3" r="2.9"/>
<circle cx="414.6" cy="238.1" r="2.9"/>
<circle cx="417.4" cy="241.1" r="2.9"/>
<circle cx="411.1" cy="193.2" r="2.9"/>
<circle cx="413.1" cy="188.1" r="2.9"/>
<circle cx="428.6" cy="183.8" r="2.9"/>
<circle cx="430.6" cy="187.0" r="2.9"/>
<circle cx="422.0" cy="181.0" r="2.9"/>
<circle cx="442.6" cy="217.7" r="2.9"/>
<circle cx="443.5" cy="212.2" r="2.9"/>
<circle cx="447.5" cy="217.5" r="2.9"/>
<circle cx="447.1" cy="200.1" r="2.9"/>
<circle cx="442.7" cy="203.3" r="2.9"/>
<circle cx="428.9" cy="221.4" r="2.9"/>
<circle cx="429.0" cy="212.2" r="2.9"/>
<circle cx="407.3" cy="210.1" r="2.9"/>
<circle cx="401.8" cy="204.3" r="2.9"/>
<circle cx="410.1" cy="200.2" r="2.9"/>
<circle cx="406.2" cy="199.9" r="2.9"/>
<circle cx="419.2" cy="214.7" r="2.9"/>
<circle cx="501.9" cy="261.9" r="2.9"/>
<circle cx="495.8" cy="262.4" r="2.9"/>
<circle cx="430.6" cy="240.8" r="2.9"/>
<circle cx="430.6" cy="246.6" r="2.9"/>
<circle cx="424.2" cy="252.0" r="2.9"/>
<circle cx="446.0" cy="186.8" r="2.9"/>
<circle cx="448.7" cy="182.9" r="2.9"/>
<circle cx="484.5" cy="184.2" r="2.9"/>
<circle cx="440.7" cy="235.8" r="2.9"/>
<circle cx="434.1" cy="242.7" r="2.9"/>
<circle cx="436.7" cy="246.1" r="2.9"/>
<circle cx="435.0" cy="203.5" r="2.9"/>
<circle cx="436.3" cy="208.5" r="2.9"/>
<circle cx="439.1" cy="204.5" r="2.9"/>
<circle cx="468.4" cy="224.9" r="2.9"/>
<circle cx="383.5" cy="223.0" r="2.9"/>
<circle cx="382.9" cy="229.8" r="2.9"/>
<circle cx="417.3" cy="269.1" r="2.9"/>
<circle cx="410.9" cy="267.3" r="2.9"/>
<circle cx="420.6" cy="258.7" r="2.9"/>
<circle cx="412.3" cy="261.2" r="2.9"/>
<circle cx="443.4" cy="241.3" r="2.9"/>
<circle cx="447.2" cy="243.6" r="2.9"/>
<circle cx="474.9" cy="242.7" r="2.9"/>
<circle cx="452.0" cy="242.3" r="2.9"/>
<circle cx="441.4" cy="182.9" r="2.9"/>
<circle cx="437.6" cy="176.8" r="2.9"/>
<circle cx="405.6" cy="256.2" r="2.9"/>
<circle cx="410.4" cy="256.0" r="2.9"/>
<circle cx="384.5" cy="254.3" r="2.9"/>
<circle cx="383.6" cy="246.4" r="2.9"/>
<circle cx="448.1" cy="232.1" r="2.9"/>
<circle cx="450.5" cy="228.8" r="2.9"/>
<circle cx="458.5" cy="254.6" r="2.9"/>
<circle cx="460.9" cy="247.6" r="2.9"/>
<circle cx="454.9" cy="252.2" r="2.9"/>
<circle cx="457.1" cy="247.0" r="2.9"/>
<circle cx="400.3" cy="220.0" r="2.9"/>
<circle cx="394.7" cy="220.6" r="2.9"/>
<circle cx="390.9" cy="221.2" r="2.9"/>
<circle cx="395.8" cy="213.7" r="2.9"/>
<circle cx="397.0" cy="226.7" r="2.9"/>
<circle cx="400.3" cy="231.8" r="2.9"/>
<circle cx="396.1" cy="233.0" r="2.9"/>
<circle cx="496.9" cy="194.7" r="2.9"/>
<circle cx="494.1" cy="190.7" r="2.9"/>
<circle cx="498.1" cy="190.5" r="2.9"/>
<circle cx="384.2" cy="268.0" r="2.9"/>
<circle cx="386.3" cy="259.0" r="2.9"/>
<circle cx="382.3" cy="261.6" r="2.9"/>
<circle cx="385.7" cy="263.8" r="2.9"/>
<circle cx="476.1" cy="189.2" r="2.9"/>
<circle cx="476.3" cy="199.3" r="2.9"/>
<circle cx="476.3" cy="212.0" r="2.9"/>
<circle cx="481.2" cy="220.4" r="2.9"/>
<circle cx="477.6" cy="217.6" r="2.9"/>
<circle cx="473.6" cy="220.7" r="2.9"/>
<circle cx="451.6" cy="247.3" r="2.9"/>
<circle cx="406.6" cy="267.3" r="2.9"/>
<circle cx="403.9" cy="262.6" r="2.9"/>
<circle cx="408.1" cy="261.1" r="2.9"/>
<circle cx="446.6" cy="194.8" r="2.9"/>
<circle cx="448.7" cy="190.1" r="2.9"/>
</g>
<g fill="#e2dcec" stroke="#9086aa" stroke-width="0.9">
<circle cx="394.8" cy="253.9" r="1.65"/>
<circle cx="391.6" cy="251.8" r="1.65"/>
<circle cx="392.5" cy="247.1" r="1.65"/>
<circle cx="397.7" cy="251.0" r="1.65"/>
<circle cx="398.5" cy="255.9" r="1.65"/>
<circle cx="388.6" cy="242.0" r="1.65"/>
<circle cx="483.6" cy="224.7" r="1.65"/>
<circle cx="490.8" cy="227.3" r="1.65"/>
<circle cx="491.3" cy="234.1" r="1.65"/>
<circle cx="477.2" cy="176.0" r="1.65"/>
<circle cx="479.0" cy="184.1" r="1.65"/>
<circle cx="418.0" cy="187.1" r="1.65"/>
<circle cx="405.3" cy="232.6" r="1.65"/>
<circle cx="401.1" cy="225.0" r="1.65"/>
<circle cx="410.2" cy="224.4" r="1.65"/>
<circle cx="416.9" cy="228.4" r="1.65"/>
<circle cx="419.8" cy="233.9" r="1.65"/>
<circle cx="414.2" cy="224.3" r="1.65"/>
<circle cx="410.8" cy="229.6" r="1.65"/>
<circle cx="420.5" cy="223.5" r="1.65"/>
<circle cx="480.1" cy="210.6" r="1.65"/>
<circle cx="472.7" cy="205.3" r="1.65"/>
<circle cx="458.0" cy="228.3" r="1.65"/>
<circle cx="454.6" cy="233.3" r="1.65"/>
<circle cx="460.8" cy="231.0" r="1.65"/>
<circle cx="406.1" cy="176.8" r="1.65"/>
<circle cx="452.9" cy="196.4" r="1.65"/>
<circle cx="458.5" cy="190.0" r="1.65"/>
<circle cx="390.9" cy="178.0" r="1.65"/>
<circle cx="400.2" cy="178.6" r="1.65"/>
<circle cx="393.7" cy="181.4" r="1.65"/>
<circle cx="389.8" cy="213.9" r="1.65"/>
<circle cx="384.9" cy="213.4" r="1.65"/>
<circle cx="381.0" cy="219.1" r="1.65"/>
<circle cx="384.9" cy="184.0" r="1.65"/>
<circle cx="380.8" cy="176.5" r="1.65"/>
<circle cx="492.9" cy="199.5" r="1.65"/>
<circle cx="503.1" cy="185.7" r="1.65"/>
<circle cx="502.9" cy="176.6" r="1.65"/>
<circle cx="497.8" cy="185.8" r="1.65"/>
<circle cx="394.8" cy="238.9" r="1.65"/>
<circle cx="398.5" cy="245.9" r="1.65"/>
<circle cx="486.0" cy="197.0" r="1.65"/>
<circle cx="491.3" cy="195.0" r="1.65"/>
<circle cx="491.5" cy="267.9" r="1.65"/>
<circle cx="475.1" cy="266.5" r="1.65"/>
<circle cx="481.9" cy="260.3" r="1.65"/>
<circle cx="472.6" cy="259.9" r="1.65"/>
<circle cx="428.0" cy="232.4" r="1.65"/>
<circle cx="428.4" cy="225.6" r="1.65"/>
<circle cx="497.0" cy="208.8" r="1.65"/>
<circle cx="493.0" cy="205.6" r="1.65"/>
<circle cx="497.4" cy="202.6" r="1.65"/>
<circle cx="405.8" cy="191.5" r="1.65"/>
<circle cx="401.5" cy="192.3" r="1.65"/>
<circle cx="408.5" cy="188.6" r="1.65"/>
<circle cx="414.5" cy="256.2" r="1.65"/>
<circle cx="419.9" cy="254.8" r="1.65"/>
<circle cx="413.7" cy="250.0" r="1.65"/>
<circle cx="420.5" cy="250.1" r="1.65"/>
<circle cx="494.5" cy="222.9" r="1.65"/>
<circle cx="498.1" cy="226.1" r="1.65"/>
<circle cx="499.0" cy="231.8" r="1.65"/>
<circle cx="487.8" cy="215.4" r="1.65"/>
<circle cx="491.7" cy="219.7" r="1.65"/>
<circle cx="485.6" cy="218.6" r="1.65"/>
<circle cx="491.9" cy="213.9" r="1.65"/>
<circle cx="432.9" cy="215.3" r="1.65"/>
<circle cx="435.3" cy="212.1" r="1.65"/>
<circle cx="437.9" cy="215.1" r="1.65"/>
<circle cx="454.3" cy="207.9" r="1.65"/>
<circle cx="461.9" cy="201.3" r="1.65"/>
<circle cx="456.0" cy="203.2" r="1.65"/>
<circle cx="462.0" cy="209.9" r="1.65"/>
<circle cx="468.3" cy="196.4" r="1.65"/>
<circle cx="471.8" cy="189.9" r="1.65"/>
<circle cx="439.1" cy="192.5" r="1.65"/>
<circle cx="441.4" cy="197.4" r="1.65"/>
<circle cx="436.6" cy="189.5" r="1.65"/>
<circle cx="437.2" cy="196.7" r="1.65"/>
<circle cx="457.9" cy="212.9" r="1.65"/>
<circle cx="461.1" cy="221.9" r="1.65"/>
<circle cx="453.8" cy="213.4" r="1.65"/>
<circle cx="455.7" cy="219.8" r="1.65"/>
<circle cx="463.4" cy="264.3" r="1.65"/>
<circle cx="471.1" cy="269.1" r="1.65"/>
<circle cx="465.4" cy="269.3" r="1.65"/>
<circle cx="466.1" cy="259.1" r="1.65"/>
<circle cx="426.3" cy="259.9" r="1.65"/>
<circle cx="426.0" cy="265.6" r="1.65"/>
<circle cx="429.6" cy="262.5" r="1.65"/>
<circle cx="437.6" cy="266.0" r="1.65"/>
<circle cx="440.8" cy="268.7" r="1.65"/>
<circle cx="397.3" cy="262.4" r="1.65"/>
<circle cx="391.3" cy="268.7" r="1.65"/>
<circle cx="395.8" cy="266.7" r="1.65"/>
<circle cx="400.2" cy="268.9" r="1.65"/>
<circle cx="481.5" cy="229.7" r="1.65"/>
<circle cx="481.1" cy="234.3" r="1.65"/>
<circle cx="391.4" cy="196.4" r="1.65"/>
<circle cx="399.8" cy="198.2" r="1.65"/>
<circle cx="466.7" cy="235.9" r="1.65"/>
<circle cx="444.3" cy="259.3" r="1.65"/>
<circle cx="445.8" cy="267.2" r="1.65"/>
<circle cx="442.3" cy="263.5" r="1.65"/>
<circle cx="449.9" cy="268.6" r="1.65"/>
<circle cx="468.1" cy="186.3" r="1.65"/>
<circle cx="465.2" cy="181.7" r="1.65"/>
<circle cx="398.4" cy="205.9" r="1.65"/>
<circle cx="392.0" cy="210.3" r="1.65"/>
<circle cx="396.9" cy="200.9" r="1.65"/>
<circle cx="392.0" cy="204.3" r="1.65"/>
<circle cx="501.8" cy="218.6" r="1.65"/>
<circle cx="497.9" cy="220.6" r="1.65"/>
<circle cx="501.6" cy="214.0" r="1.65"/>
<circle cx="497.4" cy="213.2" r="1.65"/>
<circle cx="408.1" cy="218.7" r="1.65"/>
<circle cx="410.7" cy="214.0" r="1.65"/>
<circle cx="402.8" cy="216.0" r="1.65"/>
<circle cx="400.9" cy="211.9" r="1.65"/>
<circle cx="416.6" cy="203.1" r="1.65"/>
<circle cx="469.4" cy="210.3" r="1.65"/>
<circle cx="470.1" cy="201.9" r="1.65"/>
<circle cx="466.8" cy="204.2" r="1.65"/>
<circle cx="465.8" cy="208.8" r="1.65"/>
<circle cx="380.8" cy="192.2" r="1.65"/>
<circle cx="381.0" cy="187.6" r="1.65"/>
<circle cx="472.1" cy="213.2" r="1.65"/>
<circle cx="471.1" cy="217.0" r="1.65"/>
<circle cx="465.0" cy="221.4" r="1.65"/>
<circle cx="463.5" cy="217.6" r="1.65"/>
<circle cx="382.4" cy="206.1" r="1.65"/>
<circle cx="388.7" cy="199.4" r="1.65"/>
<circle cx="384.1" cy="200.2" r="1.65"/>
<circle cx="456.2" cy="267.8" r="1.65"/>
<circle cx="459.7" cy="265.5" r="1.65"/>
<circle cx="453.3" cy="261.1" r="1.65"/>
<circle cx="453.1" cy="264.9" r="1.65"/>
<circle cx="458.0" cy="260.5" r="1.65"/>
<circle cx="440.2" cy="224.6" r="1.65"/>
<circle cx="436.8" cy="228.8" r="1.65"/>
<circle cx="441.1" cy="229.3" r="1.65"/>
<circle cx="436.4" cy="223.7" r="1.65"/>
<circle cx="466.9" cy="249.3" r="1.65"/>
<circle cx="414.6" cy="238.1" r="1.65"/>
<circle cx="417.4" cy="241.1" r="1.65"/>
<circle cx="411.1" cy="193.2" r="1.65"/>
<circle cx="413.1" cy="188.1" r="1.65"/>
<circle cx="428.6" cy="183.8" r="1.65"/>
<circle cx="430.6" cy="187.0" r="1.65"/>
<circle cx="422.0" cy="181.0" r="1.65"/>
<circle cx="442.6" cy="217.7" r="1.65"/>
<circle cx="443.5" cy="212.2" r="1.65"/>
<circle cx="447.5" cy="217.5" r="1.65"/>
<circle cx="447.1" cy="200.1" r="1.65"/>
<circle cx="442.7" cy="203.3" r="1.65"/>
<circle cx="428.9" cy="221.4" r="1.65"/>
<circle cx="429.0" cy="212.2" r="1.65"/>
<circle cx="407.3" cy="210.1" r="1.65"/>
<circle cx="401.8" cy="204.3" r="1.65"/>
<circle cx="410.1" cy="200.2" r="1.65"/>
<circle cx="406.2" cy="199.9" r="1.65"/>
<circle cx="419.2" cy="214.7" r="1.65"/>
<circle cx="501.9" cy="261.9" r="1.65"/>
<circle cx="495.8" cy="262.4" r="1.65"/>
<circle cx="430.6" cy="240.8" r="1.65"/>
<circle cx="430.6" cy="246.6" r="1.65"/>
<circle cx="424.2" cy="252.0" r="1.65"/>
<circle cx="446.0" cy="186.8" r="1.65"/>
<circle cx="448.7" cy="182.9" r="1.65"/>
<circle cx="484.5" cy="184.2" r="1.65"/>
<circle cx="440.7" cy="235.8" r="1.65"/>
<circle cx="434.1" cy="242.7" r="1.65"/>
<circle cx="436.7" cy="246.1" r="1.65"/>
<circle cx="435.0" cy="203.5" r="1.65"/>
<circle cx="436.3" cy="208.5" r="1.65"/>
<circle cx="439.1" cy="204.5" r="1.65"/>
<circle cx="468.4" cy="224.9" r="1.65"/>
<circle cx="383.5" cy="223.0" r="1.65"/>
<circle cx="382.9" cy="229.8" r="1.65"/>
<circle cx="417.3" cy="269.1" r="1.65"/>
<circle cx="410.9" cy="267.3" r="1.65"/>
<circle cx="420.6" cy="258.7" r="1.65"/>
<circle cx="412.3" cy="261.2" r="1.65"/>
<circle cx="443.4" cy="241.3" r="1.65"/>
<circle cx="447.2" cy="243.6" r="1.65"/>
<circle cx="474.9" cy="242.7" r="1.65"/>
<circle cx="452.0" cy="242.3" r="1.65"/>
<circle cx="441.4" cy="182.9" r="1.65"/>
<circle cx="437.6" cy="176.8" r="1.65"/>
<circle cx="405.6" cy="256.2" r="1.65"/>
<circle cx="410.4" cy="256.0" r="1.65"/>
<circle cx="384.5" cy="254.3" r="1.65"/>
<circle cx="383.6" cy="246.4" r="1.65"/>
<circle cx="448.1" cy="232.1" r="1.65"/>
<circle cx="450.5" cy="228.8" r="1.65"/>
<circle cx="458.5" cy="254.6" r="1.65"/>
<circle cx="460.9" cy="247.6" r="1.65"/>
<circle cx="454.9" cy="252.2" r="1.65"/>
<circle cx="457.1" cy="247.0" r="1.65"/>
<circle cx="400.3" cy="220.0" r="1.65"/>
<circle cx="394.7" cy="220.6" r="1.65"/>
<circle cx="390.9" cy="221.2" r="1.65"/>
<circle cx="395.8" cy="213.7" r="1.65"/>
<circle cx="397.0" cy="226.7" r="1.65"/>
<circle cx="400.3" cy="231.8" r="1.65"/>
<circle cx="396.1" cy="233.0" r="1.65"/>
<circle cx="496.9" cy="194.7" r="1.65"/>
<circle cx="494.1" cy="190.7" r="1.65"/>
<circle cx="498.1" cy="190.5" r="1.65"/>
<circle cx="384.2" cy="268.0" r="1.65"/>
<circle cx="386.3" cy="259.0" r="1.65"/>
<circle cx="382.3" cy="261.6" r="1.65"/>
<circle cx="385.7" cy="263.8" r="1.65"/>
<circle cx="476.1" cy="189.2" r="1.65"/>
<circle cx="476.3" cy="199.3" r="1.65"/>
<circle cx="476.3" cy="212.0" r="1.65"/>
<circle cx="481.2" cy="220.4" r="1.65"/>
<circle cx="477.6" cy="217.6" r="1.65"/>
<circle cx="473.6" cy="220.7" r="1.65"/>
<circle cx="451.6" cy="247.3" r="1.65"/>
<circle cx="406.6" cy="267.3" r="1.65"/>
<circle cx="403.9" cy="262.6" r="1.65"/>
<circle cx="408.1" cy="261.1" r="1.65"/>
<circle cx="446.6" cy="194.8" r="1.65"/>
<circle cx="448.7" cy="190.1" r="1.65"/>
</g>
<circle cx="442.2" cy="192.3" r="0.56" fill="#4a3f8a" opacity="0.8"/>
<circle cx="478.8" cy="240.9" r="0.50" fill="#4a3f8a" opacity="0.8"/>
<circle cx="488.4" cy="255.9" r="0.46" fill="#4a3f8a" opacity="0.8"/>
<circle cx="459.1" cy="211.7" r="0.47" fill="#4a3f8a" opacity="0.8"/>
<circle cx="419.6" cy="236.1" r="0.48" fill="#4a3f8a" opacity="0.8"/>
<circle cx="419.9" cy="240.0" r="0.52" fill="#4a3f8a" opacity="0.8"/>
<circle cx="487.0" cy="229.4" r="0.64" fill="#4a3f8a" opacity="0.8"/>
<circle cx="385.5" cy="183.3" r="0.63" fill="#4a3f8a" opacity="0.8"/>
<circle cx="402.0" cy="225.0" r="0.72" fill="#4a3f8a" opacity="0.8"/>
<circle cx="452.7" cy="217.6" r="0.48" fill="#4a3f8a" opacity="0.8"/>
<circle cx="396.1" cy="199.6" r="0.74" fill="#4a3f8a" opacity="0.8"/>
<circle cx="472.3" cy="192.5" r="0.46" fill="#4a3f8a" opacity="0.8"/>
<circle cx="498.8" cy="265.5" r="0.61" fill="#4a3f8a" opacity="0.8"/>
<circle cx="414.0" cy="226.0" r="0.72" fill="#4a3f8a" opacity="0.8"/>
<circle cx="411.4" cy="248.8" r="0.60" fill="#4a3f8a" opacity="0.8"/>
<circle cx="447.4" cy="262.9" r="0.45" fill="#4a3f8a" opacity="0.8"/>
<circle cx="417.3" cy="186.1" r="0.50" fill="#4a3f8a" opacity="0.8"/>
<circle cx="486.0" cy="179.9" r="0.74" fill="#4a3f8a" opacity="0.8"/>
<circle cx="424.1" cy="232.5" r="0.60" fill="#4a3f8a" opacity="0.8"/>
<circle cx="394.1" cy="199.6" r="0.51" fill="#4a3f8a" opacity="0.8"/>
<circle cx="421.0" cy="177.6" r="0.62" fill="#4a3f8a" opacity="0.8"/>
<circle cx="410.4" cy="239.5" r="0.61" fill="#4a3f8a" opacity="0.8"/>
<circle cx="482.9" cy="264.8" r="0.55" fill="#4a3f8a" opacity="0.8"/>
<circle cx="457.9" cy="248.6" r="0.54" fill="#4a3f8a" opacity="0.8"/>
<circle cx="453.4" cy="244.3" r="0.71" fill="#4a3f8a" opacity="0.8"/>

<ellipse cx="439.5" cy="206.5" rx="6.5" ry="4.2" fill="#b488b8" opacity="0.55" transform="rotate(25 439.5 206.5)"/>
<circle cx="437" cy="205" r="1.6" fill="#7a4a90" opacity="0.7"/>
<circle cx="440.5" cy="207.5" r="1.8" fill="#6a3a88" opacity="0.7"/>
<circle cx="443.5" cy="209" r="1.5" fill="#7a4a9c" opacity="0.7"/>
<circle cx="438.5" cy="209.5" r="1.3" fill="#8a5aa0" opacity="0.7"/>
<circle cx="444.5" cy="205.5" r="1.2" fill="#5a3a80" opacity="0.6"/>
<ellipse cx="427" cy="242.4" rx="3.4" ry="3.2" fill="#6a3a8a" opacity="0.85"/>
<ellipse cx="427.5" cy="242" rx="1.8" ry="1.8" fill="#3e2256" opacity="0.8"/>
<line x1="430.5" y1="252.5" x2="437.8" y2="258.0" stroke="#c9d8c2" stroke-width="3.6" stroke-linecap="round"/>
<line x1="430.5" y1="254.5" x2="436.8" y2="259.5" stroke="#a67a44" stroke-width="0.8" opacity="0.8"/>
<rect x="454.6" y="189.3" width="6" height="1.4" fill="#2a2a3a"/>
<rect x="481" y="181.8" width="4.5" height="1.6" fill="#4a3a5a" transform="rotate(20 483 182.6)"/>

</g>
<rect x="227.9" y="264.4" width="15" height="1.5" fill="#111"/>
<rect x="357.3" y="264.2" width="14.7" height="1.5" fill="#111"/>
<rect x="484.0" y="264.3" width="15" height="1.5" fill="#111"/>
<text x="171.50" y="277.90" font-size="6.5" stroke-width="0.091" fill="#231f20" textLength="30.40" lengthAdjust="spacingAndGlyphs">WT + DENV</text>
<text x="296.90" y="277.90" font-size="6.5" stroke-width="0.091" fill="#231f20" textLength="33.70" lengthAdjust="spacingAndGlyphs">Sash + DENV</text>
<text x="421.70" y="277.90" font-size="6.5" stroke-width="0.091" fill="#231f20" textLength="39.70" lengthAdjust="spacingAndGlyphs">Sash-R + DENV</text>
<rect x="0" y="0" width="520" height="1" fill="#111"/>
<rect x="0" y="0" width="1" height="428" fill="#111"/>
<rect x="1" y="1" width="1" height="426" fill="#999" opacity="0.5"/>
<rect x="518" y="0" width="1" height="428" fill="#9a9a9a"/>
<rect x="519" y="0" width="1" height="428" fill="#4a4a4a"/>
<rect x="0" y="426" width="520" height="1" fill="#aaa"/>
<rect x="0" y="427" width="520" height="1" fill="#444"/>
</svg>
</body></html>
